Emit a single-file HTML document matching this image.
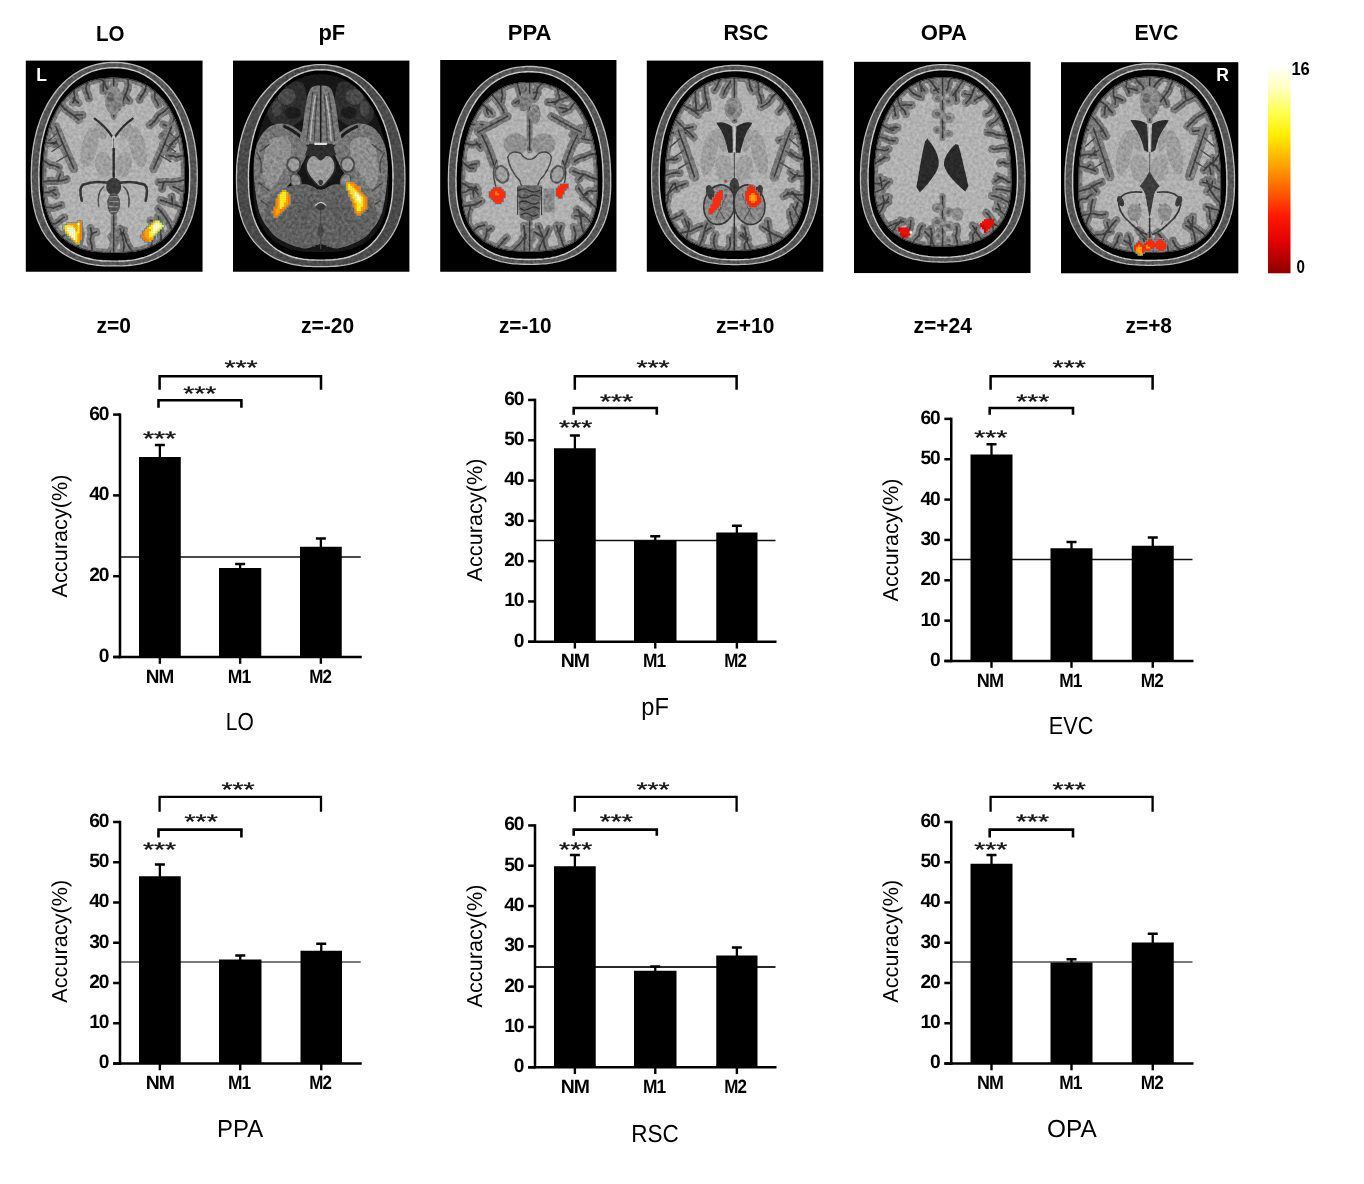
<!DOCTYPE html>
<html><head><meta charset="utf-8"><title>ROI decoding figure</title>
<style>
html,body{margin:0;padding:0;background:#fff;}
body{width:1364px;height:1184px;overflow:hidden;font-family:"Liberation Sans", sans-serif;}
svg{display:block;font-family:"Liberation Sans", sans-serif;}
</style></head>
<body>
<svg width="1364" height="1184" viewBox="0 0 1364 1184">
<rect width="1364" height="1184" fill="#ffffff"/>
<g id="titles">
<text transform="translate(96.00 41.4) scale(0.9153 1)" font-size="22.4" font-weight="bold" fill="#000">LO</text>
<text transform="translate(318.50 39.8) scale(0.9770 1)" font-size="22.4" font-weight="bold" fill="#000">pF</text>
<text transform="translate(507.70 39.8) scale(0.9853 1)" font-size="22.4" font-weight="bold" fill="#000">PPA</text>
<text transform="translate(723.40 39.8) scale(0.9521 1)" font-size="22.4" font-weight="bold" fill="#000">RSC</text>
<text transform="translate(920.75 39.8) scale(0.9856 1)" font-size="22.4" font-weight="bold" fill="#000">OPA</text>
<text transform="translate(1134.50 39.8) scale(0.9559 1)" font-size="22.4" font-weight="bold" fill="#000">EVC</text>
<text transform="translate(96.50 332.9) scale(0.9784 1)" font-size="21.5" font-weight="bold" fill="#000">z=0</text>
<text transform="translate(301.00 332.9) scale(0.9780 1)" font-size="21.5" font-weight="bold" fill="#000">z=-20</text>
<text transform="translate(499.00 332.9) scale(0.9652 1)" font-size="21.5" font-weight="bold" fill="#000">z=-10</text>
<text transform="translate(716.00 332.9) scale(0.9788 1)" font-size="21.5" font-weight="bold" fill="#000">z=+10</text>
<text transform="translate(913.50 332.9) scale(0.9788 1)" font-size="21.5" font-weight="bold" fill="#000">z=+24</text>
<text transform="translate(1125.50 332.9) scale(0.9720 1)" font-size="21.5" font-weight="bold" fill="#000">z=+8</text>
</g>
<g id="brains">
<defs>
<filter id="soft" x="-2%" y="-2%" width="104%" height="104%"><feGaussianBlur stdDeviation="0.55"/></filter>
<filter id="grain" x="0" y="0" width="100%" height="100%" color-interpolation-filters="sRGB">
<feTurbulence type="fractalNoise" baseFrequency="0.32" numOctaves="2" seed="7" result="n"/>
<feColorMatrix in="n" type="matrix" values="1.15 0 0 0 -0.1  1.15 0 0 0 -0.1  1.15 0 0 0 -0.1  0 0 0 0 1" result="g"/>
<feComposite in="g" in2="SourceGraphic" operator="in"/>
</filter>
</defs>
<g transform="translate(25.8 60.6) scale(0.9986 1.0007)">
<rect x="0" y="0" width="177" height="211" fill="#000"/>
<g filter="url(#soft)">
<path d="M88.6 1.9 L91.9 1.9 L95.1 2.1 L98.4 2.4 L101.6 2.9 L104.9 3.5 L108.1 4.3 L111.4 5.2 L114.5 6.3 L117.7 7.6 L120.9 9 L123.9 10.7 L127 12.5 L130 14.4 L132.9 16.6 L135.8 18.9 L138.5 21.4 L141.3 24.1 L143.9 26.9 L146.4 29.9 L148.8 33.1 L151.1 36.4 L153.3 39.8 L155.4 43.3 L157.3 47 L159.2 50.8 L160.9 54.7 L162.5 58.7 L163.9 62.8 L165.3 66.9 L166.5 71.1 L167.5 75.4 L168.5 79.7 L169.3 84 L170 88.4 L170.5 92.8 L171 97.2 L171.3 101.7 L171.5 106.1 L171.7 110.6 L171.7 115 L171.7 118.5 L171.6 122.1 L171.5 125.7 L171.3 129.2 L171.1 132.8 L170.7 136.4 L170.2 140 L169.6 143.6 L168.9 147.2 L168.1 150.7 L167.1 154.3 L166 157.8 L164.7 161.2 L163.2 164.6 L161.6 168 L159.9 171.2 L157.9 174.3 L155.9 177.3 L153.6 180.2 L151.2 183 L148.7 185.6 L146 188 L143.3 190.3 L140.4 192.4 L137.4 194.3 L134.3 196 L131.2 197.6 L128 199 L124.8 200.2 L121.5 201.3 L118.2 202.2 L114.9 203 L111.6 203.6 L108.3 204.1 L105 204.5 L101.7 204.8 L98.4 205 L95.1 205.1 L91.9 205.2 L88.6 205.2 L85.3 205.2 L82.1 205.1 L78.8 205 L75.5 204.8 L72.2 204.5 L68.9 204.1 L65.6 203.6 L62.3 203 L59 202.2 L55.7 201.3 L52.4 200.2 L49.2 199 L46 197.6 L42.9 196 L39.8 194.3 L36.8 192.4 L33.9 190.3 L31.2 188 L28.5 185.6 L26 183 L23.6 180.2 L21.3 177.3 L19.3 174.3 L17.3 171.2 L15.6 168 L14 164.6 L12.5 161.2 L11.2 157.8 L10.1 154.3 L9.1 150.7 L8.3 147.2 L7.6 143.6 L7 140 L6.5 136.4 L6.1 132.8 L5.9 129.2 L5.7 125.7 L5.6 122.1 L5.5 118.5 L5.5 115 L5.5 110.6 L5.7 106.1 L5.9 101.7 L6.2 97.2 L6.7 92.8 L7.2 88.4 L7.9 84 L8.7 79.7 L9.7 75.4 L10.7 71.1 L11.9 66.9 L13.3 62.8 L14.7 58.7 L16.3 54.7 L18 50.8 L19.9 47 L21.8 43.3 L23.9 39.8 L26.1 36.4 L28.4 33.1 L30.8 29.9 L33.3 26.9 L35.9 24.1 L38.7 21.4 L41.4 18.9 L44.3 16.6 L47.2 14.4 L50.2 12.5 L53.3 10.7 L56.3 9 L59.5 7.6 L62.7 6.3 L65.8 5.2 L69.1 4.3 L72.3 3.5 L75.6 2.9 L78.8 2.4 L82.1 2.1 L85.3 1.9Z" fill="#545454" stroke="#bcbcbc" stroke-width="1.3"/>
<path d="M88.6 7.1 L91.6 7.1 L94.5 7.3 L97.5 7.6 L100.5 8 L103.4 8.6 L106.3 9.4 L109.3 10.3 L112.2 11.3 L115.1 12.5 L117.9 13.9 L120.7 15.5 L123.5 17.2 L126.2 19.1 L128.9 21.1 L131.5 23.3 L134 25.7 L136.4 28.3 L138.8 31 L141.1 33.8 L143.3 36.8 L145.4 40 L147.4 43.2 L149.3 46.6 L151.1 50.1 L152.7 53.8 L154.3 57.5 L155.7 61.3 L157 65.2 L158.3 69.1 L159.3 73.1 L160.3 77.2 L161.2 81.3 L161.9 85.5 L162.5 89.6 L163 93.8 L163.4 98.1 L163.7 102.3 L164 106.5 L164.1 110.8 L164.1 115 L164.1 118.4 L164 121.7 L163.9 125.1 L163.8 128.5 L163.5 131.9 L163.2 135.3 L162.8 138.7 L162.2 142.1 L161.6 145.5 L160.8 148.8 L159.9 152.2 L158.9 155.5 L157.7 158.8 L156.4 162 L154.9 165.1 L153.3 168.2 L151.6 171.2 L149.7 174 L147.7 176.8 L145.5 179.4 L143.2 181.8 L140.8 184.1 L138.3 186.3 L135.6 188.2 L132.9 190 L130.2 191.7 L127.3 193.2 L124.4 194.5 L121.5 195.7 L118.5 196.7 L115.5 197.5 L112.5 198.3 L109.5 198.9 L106.5 199.4 L103.5 199.7 L100.5 200 L97.5 200.2 L94.5 200.3 L91.6 200.4 L88.6 200.4 L85.6 200.4 L82.7 200.3 L79.7 200.2 L76.7 200 L73.7 199.7 L70.7 199.4 L67.7 198.9 L64.7 198.3 L61.7 197.5 L58.7 196.7 L55.7 195.7 L52.8 194.5 L49.9 193.2 L47 191.7 L44.3 190 L41.6 188.2 L38.9 186.3 L36.4 184.1 L34 181.8 L31.7 179.4 L29.5 176.8 L27.5 174 L25.6 171.2 L23.9 168.2 L22.3 165.1 L20.8 162 L19.5 158.8 L18.3 155.5 L17.3 152.2 L16.4 148.8 L15.6 145.5 L15 142.1 L14.4 138.7 L14 135.3 L13.7 131.9 L13.4 128.5 L13.3 125.1 L13.2 121.7 L13.1 118.4 L13.1 115 L13.1 110.8 L13.2 106.5 L13.5 102.3 L13.8 98.1 L14.2 93.8 L14.7 89.6 L15.3 85.5 L16 81.3 L16.9 77.2 L17.9 73.1 L18.9 69.1 L20.2 65.2 L21.5 61.3 L22.9 57.5 L24.5 53.8 L26.1 50.1 L27.9 46.6 L29.8 43.2 L31.8 40 L33.9 36.8 L36.1 33.8 L38.4 31 L40.8 28.3 L43.2 25.7 L45.7 23.3 L48.3 21.1 L51 19.1 L53.7 17.2 L56.5 15.5 L59.3 13.9 L62.1 12.5 L65 11.3 L67.9 10.3 L70.9 9.4 L73.8 8.6 L76.7 8 L79.7 7.6 L82.7 7.3 L85.6 7.1Z" fill="#060606" stroke="#cacaca" stroke-width="1.4"/>

<clipPath id="bc1"><path d="M88 17 L90.8 17 L93.6 17.1 L96.4 17.3 L99.2 17.6 L102 18 L104.8 18.6 L107.6 19.2 L110.4 20 L113.2 21 L115.9 22.1 L118.7 23.4 L121.4 24.9 L124 26.5 L126.6 28.3 L129.2 30.2 L131.6 32.3 L134 34.6 L136.3 37.1 L138.6 39.7 L140.7 42.5 L142.7 45.4 L144.6 48.5 L146.4 51.7 L148 55 L149.6 58.4 L151 61.8 L152.3 65.4 L153.5 69.1 L154.5 72.8 L155.5 76.5 L156.3 80.3 L157 84.1 L157.6 88 L158.1 91.8 L158.5 95.7 L158.8 99.6 L159 103.4 L159.1 107.3 L159.2 111.2 L159.2 115 L159.2 118 L159.2 121.1 L159.1 124.1 L159 127.2 L158.8 130.2 L158.5 133.3 L158.2 136.4 L157.8 139.5 L157.3 142.6 L156.6 145.7 L155.8 148.8 L155 151.9 L153.9 154.9 L152.8 157.9 L151.4 160.8 L150 163.7 L148.3 166.4 L146.5 169.1 L144.6 171.6 L142.5 174 L140.3 176.2 L138 178.3 L135.6 180.2 L133 182 L130.4 183.6 L127.7 185 L124.9 186.3 L122.1 187.4 L119.3 188.4 L116.4 189.2 L113.5 189.9 L110.7 190.5 L107.8 190.9 L104.9 191.3 L102.1 191.6 L99.2 191.8 L96.4 191.9 L93.6 192 L90.8 192 L88 192 L85.2 192 L82.4 192 L79.6 191.9 L76.8 191.8 L73.9 191.6 L71.1 191.3 L68.2 190.9 L65.3 190.5 L62.5 189.9 L59.6 189.2 L56.7 188.4 L53.9 187.4 L51.1 186.3 L48.3 185 L45.6 183.6 L43 182 L40.4 180.2 L38 178.3 L35.7 176.2 L33.5 174 L31.4 171.6 L29.5 169.1 L27.7 166.4 L26 163.7 L24.6 160.8 L23.2 157.9 L22.1 154.9 L21 151.9 L20.2 148.8 L19.4 145.7 L18.7 142.6 L18.2 139.5 L17.8 136.4 L17.5 133.3 L17.2 130.2 L17 127.2 L16.9 124.1 L16.8 121.1 L16.8 118 L16.8 115 L16.8 111.2 L16.9 107.3 L17 103.4 L17.2 99.6 L17.5 95.7 L17.9 91.8 L18.4 88 L19 84.1 L19.7 80.3 L20.5 76.5 L21.5 72.8 L22.5 69.1 L23.7 65.4 L25 61.8 L26.4 58.4 L28 55 L29.6 51.7 L31.4 48.5 L33.3 45.4 L35.3 42.5 L37.4 39.7 L39.7 37.1 L42 34.6 L44.4 32.3 L46.8 30.2 L49.4 28.3 L52 26.5 L54.6 24.9 L57.3 23.4 L60.1 22.1 L62.8 21 L65.6 20 L68.4 19.2 L71.2 18.6 L74 18 L76.8 17.6 L79.6 17.3 L82.4 17.1 L85.2 17Z"/></clipPath>
<g clip-path="url(#bc1)">
<path d="M88 17 L90.8 17 L93.6 17.1 L96.4 17.3 L99.2 17.6 L102 18 L104.8 18.6 L107.6 19.2 L110.4 20 L113.2 21 L115.9 22.1 L118.7 23.4 L121.4 24.9 L124 26.5 L126.6 28.3 L129.2 30.2 L131.6 32.3 L134 34.6 L136.3 37.1 L138.6 39.7 L140.7 42.5 L142.7 45.4 L144.6 48.5 L146.4 51.7 L148 55 L149.6 58.4 L151 61.8 L152.3 65.4 L153.5 69.1 L154.5 72.8 L155.5 76.5 L156.3 80.3 L157 84.1 L157.6 88 L158.1 91.8 L158.5 95.7 L158.8 99.6 L159 103.4 L159.1 107.3 L159.2 111.2 L159.2 115 L159.2 118 L159.2 121.1 L159.1 124.1 L159 127.2 L158.8 130.2 L158.5 133.3 L158.2 136.4 L157.8 139.5 L157.3 142.6 L156.6 145.7 L155.8 148.8 L155 151.9 L153.9 154.9 L152.8 157.9 L151.4 160.8 L150 163.7 L148.3 166.4 L146.5 169.1 L144.6 171.6 L142.5 174 L140.3 176.2 L138 178.3 L135.6 180.2 L133 182 L130.4 183.6 L127.7 185 L124.9 186.3 L122.1 187.4 L119.3 188.4 L116.4 189.2 L113.5 189.9 L110.7 190.5 L107.8 190.9 L104.9 191.3 L102.1 191.6 L99.2 191.8 L96.4 191.9 L93.6 192 L90.8 192 L88 192 L85.2 192 L82.4 192 L79.6 191.9 L76.8 191.8 L73.9 191.6 L71.1 191.3 L68.2 190.9 L65.3 190.5 L62.5 189.9 L59.6 189.2 L56.7 188.4 L53.9 187.4 L51.1 186.3 L48.3 185 L45.6 183.6 L43 182 L40.4 180.2 L38 178.3 L35.7 176.2 L33.5 174 L31.4 171.6 L29.5 169.1 L27.7 166.4 L26 163.7 L24.6 160.8 L23.2 157.9 L22.1 154.9 L21 151.9 L20.2 148.8 L19.4 145.7 L18.7 142.6 L18.2 139.5 L17.8 136.4 L17.5 133.3 L17.2 130.2 L17 127.2 L16.9 124.1 L16.8 121.1 L16.8 118 L16.8 115 L16.8 111.2 L16.9 107.3 L17 103.4 L17.2 99.6 L17.5 95.7 L17.9 91.8 L18.4 88 L19 84.1 L19.7 80.3 L20.5 76.5 L21.5 72.8 L22.5 69.1 L23.7 65.4 L25 61.8 L26.4 58.4 L28 55 L29.6 51.7 L31.4 48.5 L33.3 45.4 L35.3 42.5 L37.4 39.7 L39.7 37.1 L42 34.6 L44.4 32.3 L46.8 30.2 L49.4 28.3 L52 26.5 L54.6 24.9 L57.3 23.4 L60.1 22.1 L62.8 21 L65.6 20 L68.4 19.2 L71.2 18.6 L74 18 L76.8 17.6 L79.6 17.3 L82.4 17.1 L85.2 17Z" fill="#b2b2b2"/>

<path d="M88 17 L90.8 17 L93.6 17.1 L96.4 17.3 L99.2 17.6 L102 18 L104.8 18.6 L107.6 19.2 L110.4 20 L113.2 21 L115.9 22.1 L118.7 23.4 L121.4 24.9 L124 26.5 L126.6 28.3 L129.2 30.2 L131.6 32.3 L134 34.6 L136.3 37.1 L138.6 39.7 L140.7 42.5 L142.7 45.4 L144.6 48.5 L146.4 51.7 L148 55 L149.6 58.4 L151 61.8 L152.3 65.4 L153.5 69.1 L154.5 72.8 L155.5 76.5 L156.3 80.3 L157 84.1 L157.6 88 L158.1 91.8 L158.5 95.7 L158.8 99.6 L159 103.4 L159.1 107.3 L159.2 111.2 L159.2 115 L159.2 118 L159.2 121.1 L159.1 124.1 L159 127.2 L158.8 130.2 L158.5 133.3 L158.2 136.4 L157.8 139.5 L157.3 142.6 L156.6 145.7 L155.8 148.8 L155 151.9 L153.9 154.9 L152.8 157.9 L151.4 160.8 L150 163.7 L148.3 166.4 L146.5 169.1 L144.6 171.6 L142.5 174 L140.3 176.2 L138 178.3 L135.6 180.2 L133 182 L130.4 183.6 L127.7 185 L124.9 186.3 L122.1 187.4 L119.3 188.4 L116.4 189.2 L113.5 189.9 L110.7 190.5 L107.8 190.9 L104.9 191.3 L102.1 191.6 L99.2 191.8 L96.4 191.9 L93.6 192 L90.8 192 L88 192 L85.2 192 L82.4 192 L79.6 191.9 L76.8 191.8 L73.9 191.6 L71.1 191.3 L68.2 190.9 L65.3 190.5 L62.5 189.9 L59.6 189.2 L56.7 188.4 L53.9 187.4 L51.1 186.3 L48.3 185 L45.6 183.6 L43 182 L40.4 180.2 L38 178.3 L35.7 176.2 L33.5 174 L31.4 171.6 L29.5 169.1 L27.7 166.4 L26 163.7 L24.6 160.8 L23.2 157.9 L22.1 154.9 L21 151.9 L20.2 148.8 L19.4 145.7 L18.7 142.6 L18.2 139.5 L17.8 136.4 L17.5 133.3 L17.2 130.2 L17 127.2 L16.9 124.1 L16.8 121.1 L16.8 118 L16.8 115 L16.8 111.2 L16.9 107.3 L17 103.4 L17.2 99.6 L17.5 95.7 L17.9 91.8 L18.4 88 L19 84.1 L19.7 80.3 L20.5 76.5 L21.5 72.8 L22.5 69.1 L23.7 65.4 L25 61.8 L26.4 58.4 L28 55 L29.6 51.7 L31.4 48.5 L33.3 45.4 L35.3 42.5 L37.4 39.7 L39.7 37.1 L42 34.6 L44.4 32.3 L46.8 30.2 L49.4 28.3 L52 26.5 L54.6 24.9 L57.3 23.4 L60.1 22.1 L62.8 21 L65.6 20 L68.4 19.2 L71.2 18.6 L74 18 L76.8 17.6 L79.6 17.3 L82.4 17.1 L85.2 17Z" fill="none" stroke="#787878" stroke-width="8"/>
<path d="M88 17 Q89.4 21.8 88.1 26.6 Q88 31.4 89 36.1 M88.7 29.2 Q85.7 32.7 83.1 35.8 M102 18 Q103.7 23.8 101.3 30.3 Q98.7 35.8 96.9 41.8 M98.5 34 Q101 36.9 103.4 40.4 M120.5 24.4 Q120.2 29.1 118.3 32.2 Q115 35.8 113.9 39 M129.2 30.2 Q129.3 34.4 129.1 37.6 Q131.3 40.4 132.6 44.2 M143.3 46.4 Q139.3 51.4 132.9 54.7 Q129.7 61.1 124.1 64.6 M149.1 57.2 Q146.1 63.3 144.2 67.6 Q140.7 72.6 136.6 76.2 M143.4 65.9 Q140.5 64.7 137.6 63.8 M154.9 74 Q151.4 78.8 147.2 81.2 Q145.5 85.3 141.7 90.1 M146.9 83.8 Q142 83.2 137.1 84.3 M158.5 95.7 Q154.7 94.4 150.9 96.9 Q147.2 94.1 143.5 95.3 M159.2 119 Q152.6 121.3 146.2 121.5 Q139.4 121.1 132.9 121.6 M138.4 121.1 Q137.1 124.5 136.6 128.1 M158.8 130.2 Q155.5 131.2 153 128.4 Q149.9 127 147.5 125.9 M156.4 146.8 Q151.6 144.5 145.6 143 Q140.8 141.3 134.9 139.4 M146.5 143.4 Q146.8 139.7 146 136 M146.5 169.1 Q144.2 162.8 140.4 157.9 Q138 153.2 132.5 147.9 M135.6 180.2 Q135.5 174.1 134.4 167.9 Q133.9 161.7 132.6 155.6 M133.3 161.6 Q129.3 160.5 125 159.8 M125.8 185.9 Q126 183 126.3 180.1 Q126.9 177.3 125.8 174.4 M106.8 191 Q102.6 185.6 100.9 181.8 Q99.7 176.7 97.3 171.4 M97.4 191.8 Q99.2 185.9 97.7 179.8 Q96.4 174 94.4 168.1 M95.1 173.7 Q97.7 172.2 98.4 169.6 M84.3 192 Q86.7 188.4 87.7 184.2 Q90.8 180.4 91 176.3 M88.8 181.6 Q87 178.4 85.8 175.6 M66.3 190.6 Q66.6 184.8 64.5 179.1 Q66.8 173.3 64.8 167.4 M65.3 174.6 Q67.5 171.9 70.6 171.3 M52 186.7 Q53.2 182.7 54.2 178.6 Q55.5 174.4 54.7 170.3 M35.7 176.2 Q38.5 175.5 40.7 172 Q43 170.3 45.9 168.1 M26 163.7 Q30.1 162.9 32.7 161 Q36.1 157.7 38.4 156.6 M19.6 146.8 Q24 146.4 27.9 147.4 Q31.5 145.7 35.6 144.5 M17.4 132.3 Q20.1 131.4 23.5 132 Q26.6 129 29 129.1 M24.6 130.3 Q28 132.5 30.6 134.6 M16.8 121.1 Q22.8 120 29 120 Q35.3 120.9 41.2 118.4 M32.3 119.4 Q33.4 116.5 34.4 113.6 M17.2 99.6 Q20.8 102 24.6 104.5 Q28.4 104 33 106.9 M19.5 81.6 Q24.3 83.2 28.9 82 Q32.9 83.7 37.6 85.6 M27.8 83.5 Q31.2 80.1 32.9 78.4 M23.7 65.4 Q26.4 68.3 29 70.6 Q30.6 73.6 34.3 75.9 M34.7 43.5 Q39 48.8 43.5 51.7 Q48.2 54.5 53.1 59.2 M47.7 54.6 Q52.2 54 56.8 54.3 M48.5 28.9 Q47.7 32.4 48.9 35.6 Q49.8 38.6 47.1 42 M47.5 37.7 Q50 39.7 52.7 42.2 M61.9 21.4 Q59.7 25.7 60.4 29.8 Q62 33.6 63.3 37.8 M74 18 Q77.7 19.6 78.9 22.4 Q79.6 25.6 81.5 28.4 M77.6 23 Q77.9 26.6 77.5 30.2" fill="none" stroke="#787878" stroke-width="8.0" stroke-linecap="round" stroke-linejoin="round"/><path d="M88 17 Q89.4 21.8 88.1 26.6 Q88 31.4 89 36.1 M88.7 29.2 Q85.7 32.7 83.1 35.8 M102 18 Q103.7 23.8 101.3 30.3 Q98.7 35.8 96.9 41.8 M98.5 34 Q101 36.9 103.4 40.4 M120.5 24.4 Q120.2 29.1 118.3 32.2 Q115 35.8 113.9 39 M129.2 30.2 Q129.3 34.4 129.1 37.6 Q131.3 40.4 132.6 44.2 M143.3 46.4 Q139.3 51.4 132.9 54.7 Q129.7 61.1 124.1 64.6 M149.1 57.2 Q146.1 63.3 144.2 67.6 Q140.7 72.6 136.6 76.2 M143.4 65.9 Q140.5 64.7 137.6 63.8 M154.9 74 Q151.4 78.8 147.2 81.2 Q145.5 85.3 141.7 90.1 M146.9 83.8 Q142 83.2 137.1 84.3 M158.5 95.7 Q154.7 94.4 150.9 96.9 Q147.2 94.1 143.5 95.3 M159.2 119 Q152.6 121.3 146.2 121.5 Q139.4 121.1 132.9 121.6 M138.4 121.1 Q137.1 124.5 136.6 128.1 M158.8 130.2 Q155.5 131.2 153 128.4 Q149.9 127 147.5 125.9 M156.4 146.8 Q151.6 144.5 145.6 143 Q140.8 141.3 134.9 139.4 M146.5 143.4 Q146.8 139.7 146 136 M146.5 169.1 Q144.2 162.8 140.4 157.9 Q138 153.2 132.5 147.9 M135.6 180.2 Q135.5 174.1 134.4 167.9 Q133.9 161.7 132.6 155.6 M133.3 161.6 Q129.3 160.5 125 159.8 M125.8 185.9 Q126 183 126.3 180.1 Q126.9 177.3 125.8 174.4 M106.8 191 Q102.6 185.6 100.9 181.8 Q99.7 176.7 97.3 171.4 M97.4 191.8 Q99.2 185.9 97.7 179.8 Q96.4 174 94.4 168.1 M95.1 173.7 Q97.7 172.2 98.4 169.6 M84.3 192 Q86.7 188.4 87.7 184.2 Q90.8 180.4 91 176.3 M88.8 181.6 Q87 178.4 85.8 175.6 M66.3 190.6 Q66.6 184.8 64.5 179.1 Q66.8 173.3 64.8 167.4 M65.3 174.6 Q67.5 171.9 70.6 171.3 M52 186.7 Q53.2 182.7 54.2 178.6 Q55.5 174.4 54.7 170.3 M35.7 176.2 Q38.5 175.5 40.7 172 Q43 170.3 45.9 168.1 M26 163.7 Q30.1 162.9 32.7 161 Q36.1 157.7 38.4 156.6 M19.6 146.8 Q24 146.4 27.9 147.4 Q31.5 145.7 35.6 144.5 M17.4 132.3 Q20.1 131.4 23.5 132 Q26.6 129 29 129.1 M24.6 130.3 Q28 132.5 30.6 134.6 M16.8 121.1 Q22.8 120 29 120 Q35.3 120.9 41.2 118.4 M32.3 119.4 Q33.4 116.5 34.4 113.6 M17.2 99.6 Q20.8 102 24.6 104.5 Q28.4 104 33 106.9 M19.5 81.6 Q24.3 83.2 28.9 82 Q32.9 83.7 37.6 85.6 M27.8 83.5 Q31.2 80.1 32.9 78.4 M23.7 65.4 Q26.4 68.3 29 70.6 Q30.6 73.6 34.3 75.9 M34.7 43.5 Q39 48.8 43.5 51.7 Q48.2 54.5 53.1 59.2 M47.7 54.6 Q52.2 54 56.8 54.3 M48.5 28.9 Q47.7 32.4 48.9 35.6 Q49.8 38.6 47.1 42 M47.5 37.7 Q50 39.7 52.7 42.2 M61.9 21.4 Q59.7 25.7 60.4 29.8 Q62 33.6 63.3 37.8 M74 18 Q77.7 19.6 78.9 22.4 Q79.6 25.6 81.5 28.4 M77.6 23 Q77.9 26.6 77.5 30.2" fill="none" stroke="#3c3c3c" stroke-width="1.7" stroke-linecap="round" stroke-linejoin="round"/>
<path d="M88 14 L88 56" fill="none" stroke="#7c7c7c" stroke-width="6" stroke-linecap="round" stroke-linejoin="round"/><path d="M88 150 L88 196" fill="none" stroke="#7c7c7c" stroke-width="6" stroke-linecap="round" stroke-linejoin="round"/><path d="M88 14 L88 56" fill="none" stroke="#383838" stroke-width="1.4" stroke-linecap="round" stroke-linejoin="round"/><path d="M88 150 L88 196" fill="none" stroke="#383838" stroke-width="1.4" stroke-linecap="round" stroke-linejoin="round"/><ellipse cx="88" cy="40" rx="9" ry="14" fill="#8a8a8a"/><ellipse cx="85" cy="37" rx="4" ry="5" fill="#6c6c6c"/><ellipse cx="92" cy="46" rx="4" ry="4" fill="#747474"/><path d="M30 66 Q38 86 48 108" fill="none" stroke="#7c7c7c" stroke-width="9" stroke-linecap="round" stroke-linejoin="round"/><path d="M30 66 Q38 86 48 108" fill="none" stroke="#3e3e3e" stroke-width="1.6" stroke-linecap="round" stroke-linejoin="round"/><path d="M32 72 l-9 8 M36 84 l-10 7 M41 95 l-10 6" fill="none" stroke="#4a4a4a" stroke-width="1.3" stroke-linecap="round" stroke-linejoin="round"/><ellipse cx="64" cy="86" rx="8" ry="21" fill="#9e9e9e" transform="rotate(14 64 86)"/><ellipse cx="78" cy="104" rx="8.5" ry="13" fill="#a0a0a0" transform="rotate(-8 78 104)"/><ellipse cx="76" cy="70" rx="5" ry="9" fill="#9c9c9c" transform="rotate(-24 76 70)"/><path d="M146 66 Q138 86 128 108" fill="none" stroke="#7c7c7c" stroke-width="9" stroke-linecap="round" stroke-linejoin="round"/><path d="M146 66 Q138 86 128 108" fill="none" stroke="#3e3e3e" stroke-width="1.6" stroke-linecap="round" stroke-linejoin="round"/><path d="M144 72 l9 8 M140 84 l10 7 M135 95 l10 6" fill="none" stroke="#4a4a4a" stroke-width="1.3" stroke-linecap="round" stroke-linejoin="round"/><ellipse cx="112" cy="86" rx="8" ry="21" fill="#9e9e9e" transform="rotate(-14 112 86)"/><ellipse cx="98" cy="104" rx="8.5" ry="13" fill="#a0a0a0" transform="rotate(8 98 104)"/><ellipse cx="100" cy="70" rx="5" ry="9" fill="#9c9c9c" transform="rotate(24 100 70)"/><path d="M69 58 Q80 66 86.5 76 M107 58 Q96 66 89.5 76" fill="none" stroke="#2e2e2e" stroke-width="2.2" stroke-linecap="round" stroke-linejoin="round"/><path d="M88 76 L88 88" fill="none" stroke="#c9c9c9" stroke-width="3" stroke-linecap="round" stroke-linejoin="round"/><path d="M88 78 L88 86" fill="none" stroke="#555" stroke-width="1" stroke-linecap="round" stroke-linejoin="round"/><path d="M88 88 L88 116" fill="none" stroke="#2c2c2c" stroke-width="2.4" stroke-linecap="round" stroke-linejoin="round"/><ellipse cx="88" cy="126" rx="7.5" ry="9" fill="#3a3a3a"/><ellipse cx="88" cy="143" rx="6.5" ry="11" fill="#565656"/><path d="M83.5 136 h9 M83.5 141 h9 M84 146 h8 M84.5 151 h7" fill="none" stroke="#8c8c8c" stroke-width="1.3" stroke-linecap="round" stroke-linejoin="round"/><path d="M82 122 Q68 120 57 124 Q53 128 56 140" fill="none" stroke="#363636" stroke-width="2.6" stroke-linecap="round" stroke-linejoin="round"/><path d="M78 126 Q71 132 73 146" fill="none" stroke="#505050" stroke-width="1.6" stroke-linecap="round" stroke-linejoin="round"/><path d="M94 122 Q108 120 119 124 Q123 128 120 140" fill="none" stroke="#363636" stroke-width="2.6" stroke-linecap="round" stroke-linejoin="round"/><path d="M98 126 Q105 132 103 146" fill="none" stroke="#505050" stroke-width="1.6" stroke-linecap="round" stroke-linejoin="round"/>
<path d="M88 17 L90.8 17 L93.6 17.1 L96.4 17.3 L99.2 17.6 L102 18 L104.8 18.6 L107.6 19.2 L110.4 20 L113.2 21 L115.9 22.1 L118.7 23.4 L121.4 24.9 L124 26.5 L126.6 28.3 L129.2 30.2 L131.6 32.3 L134 34.6 L136.3 37.1 L138.6 39.7 L140.7 42.5 L142.7 45.4 L144.6 48.5 L146.4 51.7 L148 55 L149.6 58.4 L151 61.8 L152.3 65.4 L153.5 69.1 L154.5 72.8 L155.5 76.5 L156.3 80.3 L157 84.1 L157.6 88 L158.1 91.8 L158.5 95.7 L158.8 99.6 L159 103.4 L159.1 107.3 L159.2 111.2 L159.2 115 L159.2 118 L159.2 121.1 L159.1 124.1 L159 127.2 L158.8 130.2 L158.5 133.3 L158.2 136.4 L157.8 139.5 L157.3 142.6 L156.6 145.7 L155.8 148.8 L155 151.9 L153.9 154.9 L152.8 157.9 L151.4 160.8 L150 163.7 L148.3 166.4 L146.5 169.1 L144.6 171.6 L142.5 174 L140.3 176.2 L138 178.3 L135.6 180.2 L133 182 L130.4 183.6 L127.7 185 L124.9 186.3 L122.1 187.4 L119.3 188.4 L116.4 189.2 L113.5 189.9 L110.7 190.5 L107.8 190.9 L104.9 191.3 L102.1 191.6 L99.2 191.8 L96.4 191.9 L93.6 192 L90.8 192 L88 192 L85.2 192 L82.4 192 L79.6 191.9 L76.8 191.8 L73.9 191.6 L71.1 191.3 L68.2 190.9 L65.3 190.5 L62.5 189.9 L59.6 189.2 L56.7 188.4 L53.9 187.4 L51.1 186.3 L48.3 185 L45.6 183.6 L43 182 L40.4 180.2 L38 178.3 L35.7 176.2 L33.5 174 L31.4 171.6 L29.5 169.1 L27.7 166.4 L26 163.7 L24.6 160.8 L23.2 157.9 L22.1 154.9 L21 151.9 L20.2 148.8 L19.4 145.7 L18.7 142.6 L18.2 139.5 L17.8 136.4 L17.5 133.3 L17.2 130.2 L17 127.2 L16.9 124.1 L16.8 121.1 L16.8 118 L16.8 115 L16.8 111.2 L16.9 107.3 L17 103.4 L17.2 99.6 L17.5 95.7 L17.9 91.8 L18.4 88 L19 84.1 L19.7 80.3 L20.5 76.5 L21.5 72.8 L22.5 69.1 L23.7 65.4 L25 61.8 L26.4 58.4 L28 55 L29.6 51.7 L31.4 48.5 L33.3 45.4 L35.3 42.5 L37.4 39.7 L39.7 37.1 L42 34.6 L44.4 32.3 L46.8 30.2 L49.4 28.3 L52 26.5 L54.6 24.9 L57.3 23.4 L60.1 22.1 L62.8 21 L65.6 20 L68.4 19.2 L71.2 18.6 L74 18 L76.8 17.6 L79.6 17.3 L82.4 17.1 L85.2 17Z" fill="none" stroke="#2c2c2c" stroke-width="1.6"/>
</g>

</g>
<path d="M88.6 1.9 L91.9 1.9 L95.1 2.1 L98.4 2.4 L101.6 2.9 L104.9 3.5 L108.1 4.3 L111.4 5.2 L114.5 6.3 L117.7 7.6 L120.9 9 L123.9 10.7 L127 12.5 L130 14.4 L132.9 16.6 L135.8 18.9 L138.5 21.4 L141.3 24.1 L143.9 26.9 L146.4 29.9 L148.8 33.1 L151.1 36.4 L153.3 39.8 L155.4 43.3 L157.3 47 L159.2 50.8 L160.9 54.7 L162.5 58.7 L163.9 62.8 L165.3 66.9 L166.5 71.1 L167.5 75.4 L168.5 79.7 L169.3 84 L170 88.4 L170.5 92.8 L171 97.2 L171.3 101.7 L171.5 106.1 L171.7 110.6 L171.7 115 L171.7 118.5 L171.6 122.1 L171.5 125.7 L171.3 129.2 L171.1 132.8 L170.7 136.4 L170.2 140 L169.6 143.6 L168.9 147.2 L168.1 150.7 L167.1 154.3 L166 157.8 L164.7 161.2 L163.2 164.6 L161.6 168 L159.9 171.2 L157.9 174.3 L155.9 177.3 L153.6 180.2 L151.2 183 L148.7 185.6 L146 188 L143.3 190.3 L140.4 192.4 L137.4 194.3 L134.3 196 L131.2 197.6 L128 199 L124.8 200.2 L121.5 201.3 L118.2 202.2 L114.9 203 L111.6 203.6 L108.3 204.1 L105 204.5 L101.7 204.8 L98.4 205 L95.1 205.1 L91.9 205.2 L88.6 205.2 L85.3 205.2 L82.1 205.1 L78.8 205 L75.5 204.8 L72.2 204.5 L68.9 204.1 L65.6 203.6 L62.3 203 L59 202.2 L55.7 201.3 L52.4 200.2 L49.2 199 L46 197.6 L42.9 196 L39.8 194.3 L36.8 192.4 L33.9 190.3 L31.2 188 L28.5 185.6 L26 183 L23.6 180.2 L21.3 177.3 L19.3 174.3 L17.3 171.2 L15.6 168 L14 164.6 L12.5 161.2 L11.2 157.8 L10.1 154.3 L9.1 150.7 L8.3 147.2 L7.6 143.6 L7 140 L6.5 136.4 L6.1 132.8 L5.9 129.2 L5.7 125.7 L5.6 122.1 L5.5 118.5 L5.5 115 L5.5 110.6 L5.7 106.1 L5.9 101.7 L6.2 97.2 L6.7 92.8 L7.2 88.4 L7.9 84 L8.7 79.7 L9.7 75.4 L10.7 71.1 L11.9 66.9 L13.3 62.8 L14.7 58.7 L16.3 54.7 L18 50.8 L19.9 47 L21.8 43.3 L23.9 39.8 L26.1 36.4 L28.4 33.1 L30.8 29.9 L33.3 26.9 L35.9 24.1 L38.7 21.4 L41.4 18.9 L44.3 16.6 L47.2 14.4 L50.2 12.5 L53.3 10.7 L56.3 9 L59.5 7.6 L62.7 6.3 L65.8 5.2 L69.1 4.3 L72.3 3.5 L75.6 2.9 L78.8 2.4 L82.1 2.1 L85.3 1.9Z" fill="#808080" filter="url(#grain)" opacity="0.3" style="mix-blend-mode:overlay"/>
<rect x="51.2" y="159.7" width="3.6" height="3.6" fill="#2f86b8"/><rect x="53.3" y="159.7" width="3.6" height="3.6" fill="#2f86b8"/><rect x="40.7" y="161.8" width="3.6" height="3.6" fill="#2f86b8"/><rect x="42.8" y="161.8" width="3.6" height="3.6" fill="#2f86b8"/><rect x="44.9" y="161.8" width="3.6" height="3.6" fill="#2f86b8"/><rect x="47" y="161.8" width="3.6" height="3.6" fill="#2f86b8"/><rect x="49.1" y="161.8" width="3.6" height="3.6" fill="#2f86b8"/><rect x="51.2" y="161.8" width="3.6" height="3.6" fill="#2f86b8"/><rect x="53.3" y="161.8" width="3.6" height="3.6" fill="#2f86b8"/><rect x="36.5" y="163.9" width="3.6" height="3.6" fill="#2f86b8"/><rect x="38.6" y="163.9" width="3.6" height="3.6" fill="#2f86b8"/><rect x="40.7" y="163.9" width="3.6" height="3.6" fill="#2f86b8"/><rect x="42.8" y="163.9" width="3.6" height="3.6" fill="#2f86b8"/><rect x="44.9" y="163.9" width="3.6" height="3.6" fill="#2f86b8"/><rect x="47" y="163.9" width="3.6" height="3.6" fill="#2f86b8"/><rect x="49.1" y="163.9" width="3.6" height="3.6" fill="#2f86b8"/><rect x="51.2" y="163.9" width="3.6" height="3.6" fill="#2f86b8"/><rect x="53.3" y="163.9" width="3.6" height="3.6" fill="#2f86b8"/><rect x="36.5" y="166" width="3.6" height="3.6" fill="#2f86b8"/><rect x="38.6" y="166" width="3.6" height="3.6" fill="#2f86b8"/><rect x="40.7" y="166" width="3.6" height="3.6" fill="#2f86b8"/><rect x="42.8" y="166" width="3.6" height="3.6" fill="#2f86b8"/><rect x="44.9" y="166" width="3.6" height="3.6" fill="#2f86b8"/><rect x="47" y="166" width="3.6" height="3.6" fill="#2f86b8"/><rect x="49.1" y="166" width="3.6" height="3.6" fill="#2f86b8"/><rect x="51.2" y="166" width="3.6" height="3.6" fill="#2f86b8"/><rect x="53.3" y="166" width="3.6" height="3.6" fill="#2f86b8"/><rect x="38.6" y="168.1" width="3.6" height="3.6" fill="#2f86b8"/><rect x="40.7" y="168.1" width="3.6" height="3.6" fill="#2f86b8"/><rect x="42.8" y="168.1" width="3.6" height="3.6" fill="#2f86b8"/><rect x="44.9" y="168.1" width="3.6" height="3.6" fill="#2f86b8"/><rect x="47" y="168.1" width="3.6" height="3.6" fill="#2f86b8"/><rect x="49.1" y="168.1" width="3.6" height="3.6" fill="#2f86b8"/><rect x="51.2" y="168.1" width="3.6" height="3.6" fill="#2f86b8"/><rect x="53.3" y="168.1" width="3.6" height="3.6" fill="#2f86b8"/><rect x="38.6" y="170.2" width="3.6" height="3.6" fill="#2f86b8"/><rect x="40.7" y="170.2" width="3.6" height="3.6" fill="#2f86b8"/><rect x="42.8" y="170.2" width="3.6" height="3.6" fill="#2f86b8"/><rect x="44.9" y="170.2" width="3.6" height="3.6" fill="#2f86b8"/><rect x="47" y="170.2" width="3.6" height="3.6" fill="#2f86b8"/><rect x="49.1" y="170.2" width="3.6" height="3.6" fill="#2f86b8"/><rect x="51.2" y="170.2" width="3.6" height="3.6" fill="#2f86b8"/><rect x="53.3" y="170.2" width="3.6" height="3.6" fill="#2f86b8"/><rect x="40.7" y="172.3" width="3.6" height="3.6" fill="#2f86b8"/><rect x="42.8" y="172.3" width="3.6" height="3.6" fill="#2f86b8"/><rect x="44.9" y="172.3" width="3.6" height="3.6" fill="#2f86b8"/><rect x="47" y="172.3" width="3.6" height="3.6" fill="#2f86b8"/><rect x="49.1" y="172.3" width="3.6" height="3.6" fill="#2f86b8"/><rect x="51.2" y="172.3" width="3.6" height="3.6" fill="#2f86b8"/><rect x="53.3" y="172.3" width="3.6" height="3.6" fill="#2f86b8"/><rect x="42.8" y="174.4" width="3.6" height="3.6" fill="#2f86b8"/><rect x="44.9" y="174.4" width="3.6" height="3.6" fill="#2f86b8"/><rect x="47" y="174.4" width="3.6" height="3.6" fill="#2f86b8"/><rect x="49.1" y="174.4" width="3.6" height="3.6" fill="#2f86b8"/><rect x="51.2" y="174.4" width="3.6" height="3.6" fill="#2f86b8"/><rect x="53.3" y="174.4" width="3.6" height="3.6" fill="#2f86b8"/><rect x="44.9" y="176.5" width="3.6" height="3.6" fill="#2f86b8"/><rect x="47" y="176.5" width="3.6" height="3.6" fill="#2f86b8"/><rect x="49.1" y="176.5" width="3.6" height="3.6" fill="#2f86b8"/><rect x="51.2" y="176.5" width="3.6" height="3.6" fill="#2f86b8"/><rect x="53.3" y="176.5" width="3.6" height="3.6" fill="#2f86b8"/><rect x="47" y="178.6" width="3.6" height="3.6" fill="#2f86b8"/><rect x="49.1" y="178.6" width="3.6" height="3.6" fill="#2f86b8"/><rect x="51.2" y="178.6" width="3.6" height="3.6" fill="#2f86b8"/><rect x="49.1" y="180.7" width="3.6" height="3.6" fill="#2f86b8"/><rect x="51.2" y="180.7" width="3.6" height="3.6" fill="#2f86b8"/><rect x="51.8" y="160.3" width="2.4" height="2.4" fill="#ffa400"/><rect x="53.9" y="160.3" width="2.4" height="2.4" fill="#ff7c00"/><rect x="41.3" y="162.4" width="2.4" height="2.4" fill="#ffa400"/><rect x="43.4" y="162.4" width="2.4" height="2.4" fill="#ffa400"/><rect x="45.5" y="162.4" width="2.4" height="2.4" fill="#ffa400"/><rect x="47.6" y="162.4" width="2.4" height="2.4" fill="#ffa400"/><rect x="49.7" y="162.4" width="2.4" height="2.4" fill="#ffa400"/><rect x="51.8" y="162.4" width="2.4" height="2.4" fill="#ffffd8"/><rect x="53.9" y="162.4" width="2.4" height="2.4" fill="#ff7c00"/><rect x="37.1" y="164.5" width="2.4" height="2.4" fill="#ffa400"/><rect x="39.2" y="164.5" width="2.4" height="2.4" fill="#ffee20"/><rect x="41.3" y="164.5" width="2.4" height="2.4" fill="#ffee20"/><rect x="43.4" y="164.5" width="2.4" height="2.4" fill="#ffee20"/><rect x="45.5" y="164.5" width="2.4" height="2.4" fill="#ffee20"/><rect x="47.6" y="164.5" width="2.4" height="2.4" fill="#ffa400"/><rect x="49.7" y="164.5" width="2.4" height="2.4" fill="#ffa400"/><rect x="51.8" y="164.5" width="2.4" height="2.4" fill="#ffee20"/><rect x="53.9" y="164.5" width="2.4" height="2.4" fill="#ff7c00"/><rect x="37.1" y="166.6" width="2.4" height="2.4" fill="#ffa400"/><rect x="39.2" y="166.6" width="2.4" height="2.4" fill="#ffee20"/><rect x="41.3" y="166.6" width="2.4" height="2.4" fill="#ffffd8"/><rect x="43.4" y="166.6" width="2.4" height="2.4" fill="#ffffd8"/><rect x="45.5" y="166.6" width="2.4" height="2.4" fill="#ffffd8"/><rect x="47.6" y="166.6" width="2.4" height="2.4" fill="#ffee20"/><rect x="49.7" y="166.6" width="2.4" height="2.4" fill="#ffa400"/><rect x="51.8" y="166.6" width="2.4" height="2.4" fill="#ffee20"/><rect x="53.9" y="166.6" width="2.4" height="2.4" fill="#ff7c00"/><rect x="39.2" y="168.7" width="2.4" height="2.4" fill="#ffee20"/><rect x="41.3" y="168.7" width="2.4" height="2.4" fill="#ffffd8"/><rect x="43.4" y="168.7" width="2.4" height="2.4" fill="#ffffd8"/><rect x="45.5" y="168.7" width="2.4" height="2.4" fill="#ffffd8"/><rect x="47.6" y="168.7" width="2.4" height="2.4" fill="#ffffd8"/><rect x="49.7" y="168.7" width="2.4" height="2.4" fill="#ffa400"/><rect x="51.8" y="168.7" width="2.4" height="2.4" fill="#ffee20"/><rect x="53.9" y="168.7" width="2.4" height="2.4" fill="#ff7c00"/><rect x="39.2" y="170.8" width="2.4" height="2.4" fill="#ffa400"/><rect x="41.3" y="170.8" width="2.4" height="2.4" fill="#ffee20"/><rect x="43.4" y="170.8" width="2.4" height="2.4" fill="#ffffd8"/><rect x="45.5" y="170.8" width="2.4" height="2.4" fill="#ffffd8"/><rect x="47.6" y="170.8" width="2.4" height="2.4" fill="#ffffd8"/><rect x="49.7" y="170.8" width="2.4" height="2.4" fill="#ffee20"/><rect x="51.8" y="170.8" width="2.4" height="2.4" fill="#ffee20"/><rect x="53.9" y="170.8" width="2.4" height="2.4" fill="#ff7c00"/><rect x="41.3" y="172.9" width="2.4" height="2.4" fill="#ffa400"/><rect x="43.4" y="172.9" width="2.4" height="2.4" fill="#ffffd8"/><rect x="45.5" y="172.9" width="2.4" height="2.4" fill="#ffffd8"/><rect x="47.6" y="172.9" width="2.4" height="2.4" fill="#ffffd8"/><rect x="49.7" y="172.9" width="2.4" height="2.4" fill="#ffee20"/><rect x="51.8" y="172.9" width="2.4" height="2.4" fill="#ffa400"/><rect x="53.9" y="172.9" width="2.4" height="2.4" fill="#ff7c00"/><rect x="43.4" y="175" width="2.4" height="2.4" fill="#ffa400"/><rect x="45.5" y="175" width="2.4" height="2.4" fill="#ffffd8"/><rect x="47.6" y="175" width="2.4" height="2.4" fill="#ffffd8"/><rect x="49.7" y="175" width="2.4" height="2.4" fill="#ffee20"/><rect x="51.8" y="175" width="2.4" height="2.4" fill="#ffa400"/><rect x="53.9" y="175" width="2.4" height="2.4" fill="#ff7c00"/><rect x="45.5" y="177.1" width="2.4" height="2.4" fill="#ffa400"/><rect x="47.6" y="177.1" width="2.4" height="2.4" fill="#ffffd8"/><rect x="49.7" y="177.1" width="2.4" height="2.4" fill="#ffee20"/><rect x="51.8" y="177.1" width="2.4" height="2.4" fill="#ffa400"/><rect x="53.9" y="177.1" width="2.4" height="2.4" fill="#ff7c00"/><rect x="47.6" y="179.2" width="2.4" height="2.4" fill="#ffa400"/><rect x="49.7" y="179.2" width="2.4" height="2.4" fill="#ffee20"/><rect x="51.8" y="179.2" width="2.4" height="2.4" fill="#ffa400"/><rect x="49.7" y="181.3" width="2.4" height="2.4" fill="#ffa400"/><rect x="51.8" y="181.3" width="2.4" height="2.4" fill="#ffa400"/><rect x="126.9" y="159.3" width="3.6" height="3.6" fill="#2f86b8"/><rect x="129" y="159.3" width="3.6" height="3.6" fill="#2f86b8"/><rect x="131.1" y="159.3" width="3.6" height="3.6" fill="#2f86b8"/><rect x="124.8" y="161.4" width="3.6" height="3.6" fill="#2f86b8"/><rect x="126.9" y="161.4" width="3.6" height="3.6" fill="#2f86b8"/><rect x="129" y="161.4" width="3.6" height="3.6" fill="#2f86b8"/><rect x="131.1" y="161.4" width="3.6" height="3.6" fill="#2f86b8"/><rect x="133.2" y="161.4" width="3.6" height="3.6" fill="#2f86b8"/><rect x="122.7" y="163.5" width="3.6" height="3.6" fill="#2f86b8"/><rect x="124.8" y="163.5" width="3.6" height="3.6" fill="#2f86b8"/><rect x="126.9" y="163.5" width="3.6" height="3.6" fill="#2f86b8"/><rect x="129" y="163.5" width="3.6" height="3.6" fill="#2f86b8"/><rect x="131.1" y="163.5" width="3.6" height="3.6" fill="#2f86b8"/><rect x="133.2" y="163.5" width="3.6" height="3.6" fill="#2f86b8"/><rect x="135.3" y="163.5" width="3.6" height="3.6" fill="#2f86b8"/><rect x="120.6" y="165.6" width="3.6" height="3.6" fill="#2f86b8"/><rect x="122.7" y="165.6" width="3.6" height="3.6" fill="#2f86b8"/><rect x="124.8" y="165.6" width="3.6" height="3.6" fill="#2f86b8"/><rect x="126.9" y="165.6" width="3.6" height="3.6" fill="#2f86b8"/><rect x="129" y="165.6" width="3.6" height="3.6" fill="#2f86b8"/><rect x="131.1" y="165.6" width="3.6" height="3.6" fill="#2f86b8"/><rect x="133.2" y="165.6" width="3.6" height="3.6" fill="#2f86b8"/><rect x="118.5" y="167.7" width="3.6" height="3.6" fill="#2f86b8"/><rect x="120.6" y="167.7" width="3.6" height="3.6" fill="#2f86b8"/><rect x="122.7" y="167.7" width="3.6" height="3.6" fill="#2f86b8"/><rect x="124.8" y="167.7" width="3.6" height="3.6" fill="#2f86b8"/><rect x="126.9" y="167.7" width="3.6" height="3.6" fill="#2f86b8"/><rect x="129" y="167.7" width="3.6" height="3.6" fill="#2f86b8"/><rect x="131.1" y="167.7" width="3.6" height="3.6" fill="#2f86b8"/><rect x="116.4" y="169.8" width="3.6" height="3.6" fill="#2f86b8"/><rect x="118.5" y="169.8" width="3.6" height="3.6" fill="#2f86b8"/><rect x="120.6" y="169.8" width="3.6" height="3.6" fill="#2f86b8"/><rect x="122.7" y="169.8" width="3.6" height="3.6" fill="#2f86b8"/><rect x="124.8" y="169.8" width="3.6" height="3.6" fill="#2f86b8"/><rect x="126.9" y="169.8" width="3.6" height="3.6" fill="#2f86b8"/><rect x="129" y="169.8" width="3.6" height="3.6" fill="#2f86b8"/><rect x="116.4" y="171.9" width="3.6" height="3.6" fill="#2f86b8"/><rect x="118.5" y="171.9" width="3.6" height="3.6" fill="#2f86b8"/><rect x="120.6" y="171.9" width="3.6" height="3.6" fill="#2f86b8"/><rect x="122.7" y="171.9" width="3.6" height="3.6" fill="#2f86b8"/><rect x="124.8" y="171.9" width="3.6" height="3.6" fill="#2f86b8"/><rect x="126.9" y="171.9" width="3.6" height="3.6" fill="#2f86b8"/><rect x="114.3" y="174" width="3.6" height="3.6" fill="#2f86b8"/><rect x="116.4" y="174" width="3.6" height="3.6" fill="#2f86b8"/><rect x="118.5" y="174" width="3.6" height="3.6" fill="#2f86b8"/><rect x="120.6" y="174" width="3.6" height="3.6" fill="#2f86b8"/><rect x="122.7" y="174" width="3.6" height="3.6" fill="#2f86b8"/><rect x="124.8" y="174" width="3.6" height="3.6" fill="#2f86b8"/><rect x="116.4" y="176.1" width="3.6" height="3.6" fill="#2f86b8"/><rect x="118.5" y="176.1" width="3.6" height="3.6" fill="#2f86b8"/><rect x="120.6" y="176.1" width="3.6" height="3.6" fill="#2f86b8"/><rect x="122.7" y="176.1" width="3.6" height="3.6" fill="#2f86b8"/><rect x="124.8" y="176.1" width="3.6" height="3.6" fill="#2f86b8"/><rect x="118.5" y="178.2" width="3.6" height="3.6" fill="#2f86b8"/><rect x="120.6" y="178.2" width="3.6" height="3.6" fill="#2f86b8"/><rect x="122.7" y="178.2" width="3.6" height="3.6" fill="#2f86b8"/><rect x="127.5" y="159.9" width="2.4" height="2.4" fill="#ffa400"/><rect x="129.6" y="159.9" width="2.4" height="2.4" fill="#ffee20"/><rect x="131.7" y="159.9" width="2.4" height="2.4" fill="#ffee20"/><rect x="125.4" y="162" width="2.4" height="2.4" fill="#ffa400"/><rect x="127.5" y="162" width="2.4" height="2.4" fill="#ffee20"/><rect x="129.6" y="162" width="2.4" height="2.4" fill="#ffffd8"/><rect x="131.7" y="162" width="2.4" height="2.4" fill="#ffffd8"/><rect x="133.8" y="162" width="2.4" height="2.4" fill="#ffee20"/><rect x="123.3" y="164.1" width="2.4" height="2.4" fill="#ffa400"/><rect x="125.4" y="164.1" width="2.4" height="2.4" fill="#ffee20"/><rect x="127.5" y="164.1" width="2.4" height="2.4" fill="#ffffd8"/><rect x="129.6" y="164.1" width="2.4" height="2.4" fill="#ffffd8"/><rect x="131.7" y="164.1" width="2.4" height="2.4" fill="#ffffd8"/><rect x="133.8" y="164.1" width="2.4" height="2.4" fill="#ffffd8"/><rect x="135.9" y="164.1" width="2.4" height="2.4" fill="#ffee20"/><rect x="121.2" y="166.2" width="2.4" height="2.4" fill="#ffa400"/><rect x="123.3" y="166.2" width="2.4" height="2.4" fill="#ffee20"/><rect x="125.4" y="166.2" width="2.4" height="2.4" fill="#ffee20"/><rect x="127.5" y="166.2" width="2.4" height="2.4" fill="#ffffd8"/><rect x="129.6" y="166.2" width="2.4" height="2.4" fill="#ffffd8"/><rect x="131.7" y="166.2" width="2.4" height="2.4" fill="#ffffd8"/><rect x="133.8" y="166.2" width="2.4" height="2.4" fill="#ffee20"/><rect x="119.1" y="168.3" width="2.4" height="2.4" fill="#ffa400"/><rect x="121.2" y="168.3" width="2.4" height="2.4" fill="#ffa400"/><rect x="123.3" y="168.3" width="2.4" height="2.4" fill="#ffa400"/><rect x="125.4" y="168.3" width="2.4" height="2.4" fill="#ffee20"/><rect x="127.5" y="168.3" width="2.4" height="2.4" fill="#ffffd8"/><rect x="129.6" y="168.3" width="2.4" height="2.4" fill="#ffffd8"/><rect x="131.7" y="168.3" width="2.4" height="2.4" fill="#ffee20"/><rect x="117" y="170.4" width="2.4" height="2.4" fill="#ff7c00"/><rect x="119.1" y="170.4" width="2.4" height="2.4" fill="#ffa400"/><rect x="121.2" y="170.4" width="2.4" height="2.4" fill="#ffa400"/><rect x="123.3" y="170.4" width="2.4" height="2.4" fill="#ffee20"/><rect x="125.4" y="170.4" width="2.4" height="2.4" fill="#fff86a"/><rect x="127.5" y="170.4" width="2.4" height="2.4" fill="#ffffd8"/><rect x="129.6" y="170.4" width="2.4" height="2.4" fill="#ffee20"/><rect x="117" y="172.5" width="2.4" height="2.4" fill="#ff7c00"/><rect x="119.1" y="172.5" width="2.4" height="2.4" fill="#ffa400"/><rect x="121.2" y="172.5" width="2.4" height="2.4" fill="#ffa400"/><rect x="123.3" y="172.5" width="2.4" height="2.4" fill="#ffee20"/><rect x="125.4" y="172.5" width="2.4" height="2.4" fill="#fff86a"/><rect x="127.5" y="172.5" width="2.4" height="2.4" fill="#ffee20"/><rect x="114.9" y="174.6" width="2.4" height="2.4" fill="#ff7c00"/><rect x="117" y="174.6" width="2.4" height="2.4" fill="#ff7c00"/><rect x="119.1" y="174.6" width="2.4" height="2.4" fill="#ffa400"/><rect x="121.2" y="174.6" width="2.4" height="2.4" fill="#ffa400"/><rect x="123.3" y="174.6" width="2.4" height="2.4" fill="#ffee20"/><rect x="125.4" y="174.6" width="2.4" height="2.4" fill="#ffee20"/><rect x="117" y="176.7" width="2.4" height="2.4" fill="#ff7c00"/><rect x="119.1" y="176.7" width="2.4" height="2.4" fill="#ff7c00"/><rect x="121.2" y="176.7" width="2.4" height="2.4" fill="#ffa400"/><rect x="123.3" y="176.7" width="2.4" height="2.4" fill="#ffa400"/><rect x="125.4" y="176.7" width="2.4" height="2.4" fill="#ffa400"/><rect x="119.1" y="178.8" width="2.4" height="2.4" fill="#ff7c00"/><rect x="121.2" y="178.8" width="2.4" height="2.4" fill="#ff7c00"/><rect x="123.3" y="178.8" width="2.4" height="2.4" fill="#ffa400"/>
<text x="10.5" y="20.2" font-size="17.5" font-weight="bold" fill="#fff">L</text>
</g>
<g transform="translate(233 60.6) scale(0.9966 1.0007)">
<rect x="0" y="0" width="177" height="211" fill="#000"/>
<g filter="url(#soft)">
<path d="M88 4 L91.3 4.1 L94.6 4.3 L97.9 4.7 L101.2 5.2 L104.5 5.9 L107.8 6.8 L111 7.9 L114.2 9.1 L117.4 10.5 L120.5 12 L123.6 13.7 L126.6 15.6 L129.6 17.6 L132.5 19.8 L135.3 22.2 L138.1 24.7 L140.7 27.3 L143.3 30.1 L145.8 33.1 L148.3 36.1 L150.6 39.3 L152.8 42.7 L154.9 46.1 L156.9 49.6 L158.8 53.3 L160.6 57.1 L162.2 60.9 L163.8 64.8 L165.2 68.8 L166.5 72.9 L167.6 77.1 L168.7 81.3 L169.6 85.5 L170.4 89.8 L171 94.1 L171.6 98.5 L172 102.8 L172.3 107.2 L172.4 111.6 L172.5 116 L172.5 119.5 L172.4 123.1 L172.3 126.6 L172.2 130.2 L171.9 133.8 L171.6 137.3 L171.1 140.9 L170.5 144.5 L169.9 148.1 L169 151.7 L168.1 155.3 L166.9 158.8 L165.7 162.3 L164.2 165.7 L162.6 169 L160.8 172.3 L158.9 175.4 L156.8 178.5 L154.5 181.4 L152 184.1 L149.5 186.7 L146.7 189.2 L143.9 191.4 L140.9 193.5 L137.9 195.4 L134.7 197.1 L131.5 198.6 L128.2 200 L124.9 201.2 L121.6 202.2 L118.2 203.1 L114.8 203.8 L111.4 204.4 L108.1 204.9 L104.7 205.3 L101.3 205.5 L98 205.7 L94.6 205.8 L91.3 205.9 L88 205.9 L84.7 205.9 L81.4 205.8 L78 205.7 L74.7 205.5 L71.3 205.3 L67.9 204.9 L64.6 204.4 L61.2 203.8 L57.8 203.1 L54.4 202.2 L51.1 201.2 L47.8 200 L44.5 198.6 L41.3 197.1 L38.1 195.4 L35.1 193.5 L32.1 191.4 L29.3 189.2 L26.5 186.7 L24 184.1 L21.5 181.4 L19.2 178.5 L17.1 175.4 L15.2 172.3 L13.4 169 L11.8 165.7 L10.3 162.3 L9.1 158.8 L7.9 155.3 L7 151.7 L6.1 148.1 L5.5 144.5 L4.9 140.9 L4.4 137.3 L4.1 133.8 L3.8 130.2 L3.7 126.6 L3.6 123.1 L3.5 119.5 L3.5 116 L3.6 111.6 L3.7 107.2 L4 102.8 L4.4 98.5 L5 94.1 L5.6 89.8 L6.4 85.5 L7.3 81.3 L8.4 77.1 L9.5 72.9 L10.8 68.8 L12.2 64.8 L13.8 60.9 L15.4 57.1 L17.2 53.3 L19.1 49.6 L21.1 46.1 L23.2 42.7 L25.4 39.3 L27.7 36.1 L30.2 33.1 L32.7 30.1 L35.3 27.3 L37.9 24.7 L40.7 22.2 L43.5 19.8 L46.4 17.6 L49.4 15.6 L52.4 13.7 L55.5 12 L58.6 10.5 L61.8 9.1 L65 7.9 L68.2 6.8 L71.5 5.9 L74.8 5.2 L78.1 4.7 L81.4 4.3 L84.7 4.1Z" fill="#4c4c4c" stroke="#bcbcbc" stroke-width="1.3"/>
<path d="M88 9 L90.8 9.1 L93.7 9.3 L96.5 9.7 L99.4 10.2 L102.2 10.9 L105 11.7 L107.7 12.7 L110.5 13.9 L113.2 15.2 L115.9 16.6 L118.5 18.3 L121.1 20.1 L123.7 22 L126.2 24.1 L128.6 26.4 L131 28.8 L133.2 31.3 L135.5 34 L137.6 36.8 L139.7 39.7 L141.7 42.8 L143.6 45.9 L145.4 49.2 L147.1 52.6 L148.7 56.1 L150.3 59.7 L151.7 63.4 L153 67.1 L154.2 71 L155.3 74.8 L156.3 78.8 L157.2 82.8 L158 86.9 L158.7 91 L159.2 95.1 L159.7 99.2 L160.1 103.4 L160.3 107.6 L160.5 111.8 L160.5 116 L160.5 119.3 L160.4 122.6 L160.4 125.9 L160.2 129.2 L160 132.5 L159.7 135.8 L159.3 139.1 L158.8 142.5 L158.2 145.8 L157.5 149.1 L156.7 152.4 L155.7 155.7 L154.6 158.9 L153.4 162.1 L152 165.2 L150.5 168.2 L148.8 171.1 L147 174 L145 176.7 L142.9 179.2 L140.7 181.6 L138.4 183.9 L135.9 186 L133.4 187.9 L130.8 189.6 L128.1 191.2 L125.3 192.7 L122.5 193.9 L119.7 195 L116.8 196 L113.9 196.8 L111 197.5 L108.1 198 L105.2 198.5 L102.3 198.8 L99.4 199.1 L96.6 199.2 L93.7 199.3 L90.8 199.4 L88 199.4 L85.2 199.4 L82.3 199.3 L79.4 199.2 L76.6 199.1 L73.7 198.8 L70.8 198.5 L67.9 198 L65 197.5 L62.1 196.8 L59.2 196 L56.3 195 L53.5 193.9 L50.7 192.7 L47.9 191.2 L45.2 189.6 L42.6 187.9 L40.1 186 L37.6 183.9 L35.3 181.6 L33.1 179.2 L31 176.7 L29 174 L27.2 171.1 L25.5 168.2 L24 165.2 L22.6 162.1 L21.4 158.9 L20.3 155.7 L19.3 152.4 L18.5 149.1 L17.8 145.8 L17.2 142.5 L16.7 139.1 L16.3 135.8 L16 132.5 L15.8 129.2 L15.6 125.9 L15.6 122.6 L15.5 119.3 L15.5 116 L15.5 111.8 L15.7 107.6 L15.9 103.4 L16.3 99.2 L16.8 95.1 L17.3 91 L18 86.9 L18.8 82.8 L19.7 78.8 L20.7 74.8 L21.8 71 L23 67.1 L24.3 63.4 L25.7 59.7 L27.3 56.1 L28.9 52.6 L30.6 49.2 L32.4 45.9 L34.3 42.8 L36.3 39.7 L38.4 36.8 L40.5 34 L42.8 31.3 L45 28.8 L47.4 26.4 L49.8 24.1 L52.3 22 L54.9 20.1 L57.5 18.3 L60.1 16.6 L62.8 15.2 L65.5 13.9 L68.3 12.7 L71 11.7 L73.8 10.9 L76.6 10.2 L79.5 9.7 L82.3 9.3 L85.2 9.1Z" fill="#060606" stroke="#cacaca" stroke-width="1.4"/>

<clipPath id="bc2"><path d="M88 13.5 L90.7 13.6 L93.3 13.7 L96 14.1 L98.7 14.5 L101.3 15.1 L104 15.9 L106.6 16.8 L109.2 17.9 L111.7 19.1 L114.3 20.5 L116.8 22.1 L119.2 23.8 L121.7 25.6 L124 27.7 L126.3 29.8 L128.6 32.2 L130.8 34.6 L132.9 37.2 L134.9 40 L136.9 42.9 L138.8 45.9 L140.6 49 L142.3 52.3 L143.9 55.6 L145.4 59.1 L146.8 62.6 L148.1 66.3 L149.3 70 L150.4 73.8 L151.4 77.6 L152.3 81.5 L153.1 85.5 L153.8 89.5 L154.4 93.5 L154.9 97.5 L155.3 101.6 L155.6 105.7 L155.8 109.8 L156 113.9 L156 118 L156 120.9 L156 123.8 L155.9 126.7 L155.8 129.6 L155.7 132.6 L155.5 135.5 L155.2 138.5 L154.8 141.5 L154.4 144.5 L153.8 147.5 L153.1 150.5 L152.3 153.4 L151.4 156.4 L150.3 159.3 L149.1 162.1 L147.7 164.9 L146.1 167.5 L144.4 170.1 L142.6 172.6 L140.6 174.9 L138.5 177 L136.2 179 L133.8 180.8 L131.4 182.5 L128.8 184 L126.2 185.3 L123.5 186.5 L120.8 187.5 L118 188.4 L115.3 189.1 L112.5 189.7 L109.7 190.2 L107 190.6 L104.2 190.9 L101.5 191.2 L98.7 191.3 L96 191.4 L93.3 191.5 L90.7 191.5 L88 191.5 L85.3 191.5 L82.7 191.5 L80 191.4 L77.3 191.3 L74.5 191.2 L71.8 190.9 L69 190.6 L66.3 190.2 L63.5 189.7 L60.7 189.1 L58 188.4 L55.2 187.5 L52.5 186.5 L49.8 185.3 L47.2 184 L44.6 182.5 L42.2 180.8 L39.8 179 L37.5 177 L35.4 174.9 L33.4 172.6 L31.6 170.1 L29.9 167.5 L28.3 164.9 L26.9 162.1 L25.7 159.3 L24.6 156.4 L23.7 153.4 L22.9 150.5 L22.2 147.5 L21.6 144.5 L21.2 141.5 L20.8 138.5 L20.5 135.5 L20.3 132.6 L20.2 129.6 L20.1 126.7 L20 123.8 L20 120.9 L20 118 L20 113.9 L20.2 109.8 L20.4 105.7 L20.7 101.6 L21.1 97.5 L21.6 93.5 L22.2 89.5 L22.9 85.5 L23.7 81.5 L24.6 77.6 L25.6 73.8 L26.7 70 L27.9 66.3 L29.2 62.6 L30.6 59.1 L32.1 55.6 L33.7 52.3 L35.4 49 L37.2 45.9 L39.1 42.9 L41.1 40 L43.1 37.2 L45.2 34.6 L47.4 32.2 L49.7 29.8 L52 27.7 L54.3 25.6 L56.8 23.8 L59.2 22.1 L61.7 20.5 L64.3 19.1 L66.8 17.9 L69.4 16.8 L72 15.9 L74.7 15.1 L77.3 14.5 L80 14.1 L82.7 13.7 L85.3 13.6Z"/></clipPath>
<g clip-path="url(#bc2)">
<path d="M88 13.5 L90.7 13.6 L93.3 13.7 L96 14.1 L98.7 14.5 L101.3 15.1 L104 15.9 L106.6 16.8 L109.2 17.9 L111.7 19.1 L114.3 20.5 L116.8 22.1 L119.2 23.8 L121.7 25.6 L124 27.7 L126.3 29.8 L128.6 32.2 L130.8 34.6 L132.9 37.2 L134.9 40 L136.9 42.9 L138.8 45.9 L140.6 49 L142.3 52.3 L143.9 55.6 L145.4 59.1 L146.8 62.6 L148.1 66.3 L149.3 70 L150.4 73.8 L151.4 77.6 L152.3 81.5 L153.1 85.5 L153.8 89.5 L154.4 93.5 L154.9 97.5 L155.3 101.6 L155.6 105.7 L155.8 109.8 L156 113.9 L156 118 L156 120.9 L156 123.8 L155.9 126.7 L155.8 129.6 L155.7 132.6 L155.5 135.5 L155.2 138.5 L154.8 141.5 L154.4 144.5 L153.8 147.5 L153.1 150.5 L152.3 153.4 L151.4 156.4 L150.3 159.3 L149.1 162.1 L147.7 164.9 L146.1 167.5 L144.4 170.1 L142.6 172.6 L140.6 174.9 L138.5 177 L136.2 179 L133.8 180.8 L131.4 182.5 L128.8 184 L126.2 185.3 L123.5 186.5 L120.8 187.5 L118 188.4 L115.3 189.1 L112.5 189.7 L109.7 190.2 L107 190.6 L104.2 190.9 L101.5 191.2 L98.7 191.3 L96 191.4 L93.3 191.5 L90.7 191.5 L88 191.5 L85.3 191.5 L82.7 191.5 L80 191.4 L77.3 191.3 L74.5 191.2 L71.8 190.9 L69 190.6 L66.3 190.2 L63.5 189.7 L60.7 189.1 L58 188.4 L55.2 187.5 L52.5 186.5 L49.8 185.3 L47.2 184 L44.6 182.5 L42.2 180.8 L39.8 179 L37.5 177 L35.4 174.9 L33.4 172.6 L31.6 170.1 L29.9 167.5 L28.3 164.9 L26.9 162.1 L25.7 159.3 L24.6 156.4 L23.7 153.4 L22.9 150.5 L22.2 147.5 L21.6 144.5 L21.2 141.5 L20.8 138.5 L20.5 135.5 L20.3 132.6 L20.2 129.6 L20.1 126.7 L20 123.8 L20 120.9 L20 118 L20 113.9 L20.2 109.8 L20.4 105.7 L20.7 101.6 L21.1 97.5 L21.6 93.5 L22.2 89.5 L22.9 85.5 L23.7 81.5 L24.6 77.6 L25.6 73.8 L26.7 70 L27.9 66.3 L29.2 62.6 L30.6 59.1 L32.1 55.6 L33.7 52.3 L35.4 49 L37.2 45.9 L39.1 42.9 L41.1 40 L43.1 37.2 L45.2 34.6 L47.4 32.2 L49.7 29.8 L52 27.7 L54.3 25.6 L56.8 23.8 L59.2 22.1 L61.7 20.5 L64.3 19.1 L66.8 17.9 L69.4 16.8 L72 15.9 L74.7 15.1 L77.3 14.5 L80 14.1 L82.7 13.7 L85.3 13.6Z" fill="#161616"/>

<path d="M37.5 30 C41 24.3 50.4 23 56 22 C61.6 21 68.2 19 71 24 C73.8 29 74.5 45.3 73 52 C71.5 58.7 66.2 61.7 62 64 C57.8 66.3 52.5 67.3 48 66 C43.5 64.7 36.8 62 35 56 C33.2 50 34 35.7 37.5 30Z" fill="#2d2d2d"/><path d="M138.5 30 C135 24.3 125.6 23 120 22 C114.4 21 107.8 19 105 24 C102.2 29 101.5 45.3 103 52 C104.5 58.7 109.8 61.7 114 64 C118.2 66.3 123.5 67.3 128 66 C132.5 64.7 139.2 62 141 56 C142.8 50 142 35.7 138.5 30Z" fill="#2d2d2d"/><ellipse cx="54" cy="36" rx="9" ry="8" fill="#4c4c4c" transform="rotate(-20 54 36)"/><ellipse cx="60" cy="52" rx="8" ry="6" fill="#1e1e1e"/><ellipse cx="44" cy="48" rx="5" ry="8" fill="#444"/><ellipse cx="122" cy="36" rx="9" ry="8" fill="#4c4c4c" transform="rotate(20 122 36)"/><ellipse cx="116" cy="52" rx="8" ry="6" fill="#1e1e1e"/><ellipse cx="132" cy="48" rx="5" ry="8" fill="#444"/><path d="M21 116 C20.4 105.7 20.3 96 22.5 88 C24.7 80 29.1 72.2 34 68 C38.9 63.8 46.2 62.3 52 63 C57.8 63.7 65.2 67.8 69 72 C72.8 76.2 75.2 82.3 75 88 C74.8 93.7 71.2 100 68 106 C64.8 112 60 119 56 124 C52 129 47 131.7 44 136 C41 140.3 38 145 38 150 C38 155 44.3 163 44 166 C43.7 169 39 170.7 36 168 C33 165.3 28.5 158.7 26 150 C23.5 141.3 21.6 126.3 21 116Z" fill="#767676"/><path d="M155 116 C155.6 105.7 155.7 96 153.5 88 C151.3 80 146.9 72.2 142 68 C137.1 63.8 129.8 62.3 124 63 C118.2 63.7 110.8 67.8 107 72 C103.2 76.2 100.8 82.3 101 88 C101.2 93.7 104.8 100 108 106 C111.2 112 116 119 120 124 C124 129 129 131.7 132 136 C135 140.3 138 145 138 150 C138 155 131.7 163 132 166 C132.3 169 137 170.7 140 168 C143 165.3 147.5 158.7 150 150 C152.5 141.3 154.4 126.3 155 116Z" fill="#767676"/><path d="M34 84 C36.7 78 42 76.3 46 76 C50 75.7 56.3 78 58 82 C59.7 86 58 94 56 100 C54 106 49.3 113.3 46 118 C42.7 122.7 38.7 129 36 128 C33.3 127 30.3 119.3 30 112 C29.7 104.7 31.3 90 34 84Z" fill="#909090"/><path d="M142 84 C139.3 78 134 76.3 130 76 C126 75.7 119.7 78 118 82 C116.3 86 118 94 120 100 C122 106 126.7 113.3 130 118 C133.3 122.7 137.3 129 140 128 C142.7 127 145.7 119.3 146 112 C146.3 104.7 144.7 90 142 84Z" fill="#909090"/><path d="M24 92 Q30 100 28 112 M36 84 l-9 7 M26 122 l10 8 M28 140 l9 6" fill="none" stroke="#484848" stroke-width="1.4" stroke-linecap="round" stroke-linejoin="round"/><path d="M52 66 Q66 72 75 84" fill="none" stroke="#1e1e1e" stroke-width="3.2" stroke-linecap="round" stroke-linejoin="round"/><ellipse cx="61" cy="104" rx="6.6" ry="7.4" fill="#9a9a9a" stroke="#4e4e4e" stroke-width="2"/><ellipse cx="63" cy="120" rx="5" ry="7" fill="#8c8c8c" stroke="#555" stroke-width="1.4" transform="rotate(-18 63 120)"/><path d="M152 92 Q146 100 148 112 M140 84 l9 7 M150 122 l-10 8 M148 140 l-9 6" fill="none" stroke="#484848" stroke-width="1.4" stroke-linecap="round" stroke-linejoin="round"/><path d="M124 66 Q110 72 101 84" fill="none" stroke="#1e1e1e" stroke-width="3.2" stroke-linecap="round" stroke-linejoin="round"/><ellipse cx="115" cy="104" rx="6.6" ry="7.4" fill="#9a9a9a" stroke="#4e4e4e" stroke-width="2"/><ellipse cx="113" cy="120" rx="5" ry="7" fill="#8c8c8c" stroke="#555" stroke-width="1.4" transform="rotate(18 113 120)"/><path d="M88 25 C91.3 25 95.5 24.8 98 28 C100.5 31.2 101.7 37.7 103 44 C104.3 50.3 105.2 59.7 106 66 C106.8 72.3 111 79 108 82 C105 85 94.7 84 88 84 C81.3 84 71 85 68 82 C65 79 69.2 72.3 70 66 C70.8 59.7 71.7 50.3 73 44 C74.3 37.7 75.5 31.2 78 28 C80.5 24.8 84.7 25 88 25Z" fill="#787878"/><path d="M80 32 L74 80 M84.5 34 Q82 58 81.5 80 M91.5 34 Q94 58 94.5 80 M96 32 L102 80" fill="none" stroke="#4a4a4a" stroke-width="1.3" stroke-linecap="round" stroke-linejoin="round"/><path d="M82.5 36 Q78.5 58 77.5 80 M93.5 36 Q97.5 58 98.5 80" fill="none" stroke="#b4b4b4" stroke-width="1.5" stroke-linecap="round" stroke-linejoin="round"/><path d="M88 24 L88 84" fill="none" stroke="#1c1c1c" stroke-width="1.6" stroke-linecap="round" stroke-linejoin="round"/><path d="M76.4 83 L99.6 83 L103.5 94 L88 101 L72.5 94 Z" fill="#2d2d2d"/><path d="M82.5 83.3 h11" fill="none" stroke="#dedede" stroke-width="2.2" stroke-linecap="round" stroke-linejoin="round"/><path d="M88 99 C86 99 84.1 94.8 82 94.6 C79.9 94.4 76.9 95.8 75.5 98 C74.1 100.2 73.1 104.8 73.5 108 C73.9 111.2 75.6 114 78 117 C80.4 120 84.7 126 88 126 C91.3 126 95.6 120 98 117 C100.4 114 102.1 111.2 102.5 108 C102.9 104.8 101.9 100.2 100.5 98 C99.1 95.8 96.1 94.4 94 94.6 C91.9 94.8 90 99 88 99Z" fill="#9c9c9c" stroke="#2c2c2c" stroke-width="1.7"/><ellipse cx="88" cy="121.5" rx="2.2" ry="2.8" fill="#383838"/><path d="M37.5 139 C40.9 134 46.1 129.6 52 127 C57.9 124.4 67 123.2 73 123.5 C79 123.8 83 129 88 129 C93 129 97 123.8 103 123.5 C109 123.2 118.1 124.4 124 127 C129.9 129.6 135.1 134 138.5 139 C141.9 144 145.4 150.8 144.5 157 C143.6 163.2 139.4 170.9 133 176 C126.6 181.1 113.5 186.2 106 187.5 C98.5 188.8 94 183.5 88 183.5 C82 183.5 77.5 188.8 70 187.5 C62.5 186.2 49.4 181.1 43 176 C36.6 170.9 32.4 163.2 31.5 157 C30.6 150.8 34.1 144 37.5 139Z" fill="#636363"/><path d="M83 140 Q59 143.9 34.1 142.3 M83 140 Q59.2 147.5 35.7 151.4 M83 140 Q59.5 150.8 39.4 160 M83 140 Q60 153.9 45 167.8 M83 140 Q60.7 156.5 52.4 174.6 M83 140 Q61.5 158.6 61.1 179.9 M83 140 Q62.4 160.1 71 183.7 M83 140 Q63.4 160.9 81.5 185.7 M93 140 Q117 143.9 141.9 142.3 M93 140 Q116.8 147.5 140.3 151.4 M93 140 Q116.5 150.8 136.6 160 M93 140 Q116 153.9 131 167.8 M93 140 Q115.3 156.5 123.6 174.6 M93 140 Q114.5 158.6 114.9 179.9 M93 140 Q113.6 160.1 105 183.7 M93 140 Q112.6 160.9 94.5 185.7 " fill="none" stroke="#5a5a5a" stroke-width="1.2" stroke-linecap="round" stroke-linejoin="round"/><ellipse cx="88" cy="146" rx="4.8" ry="3.6" fill="#383838"/><path d="M83 144.5 q5 -5.5 10 0" fill="none" stroke="#c8c8c8" stroke-width="1.2" stroke-linecap="round" stroke-linejoin="round"/><ellipse cx="88" cy="170" rx="3" ry="6" fill="#444"/><path d="M88 150 V188" fill="none" stroke="#4a4a4a" stroke-width="1.2" stroke-linecap="round" stroke-linejoin="round"/>
</g>

</g>
<path d="M88 4 L91.3 4.1 L94.6 4.3 L97.9 4.7 L101.2 5.2 L104.5 5.9 L107.8 6.8 L111 7.9 L114.2 9.1 L117.4 10.5 L120.5 12 L123.6 13.7 L126.6 15.6 L129.6 17.6 L132.5 19.8 L135.3 22.2 L138.1 24.7 L140.7 27.3 L143.3 30.1 L145.8 33.1 L148.3 36.1 L150.6 39.3 L152.8 42.7 L154.9 46.1 L156.9 49.6 L158.8 53.3 L160.6 57.1 L162.2 60.9 L163.8 64.8 L165.2 68.8 L166.5 72.9 L167.6 77.1 L168.7 81.3 L169.6 85.5 L170.4 89.8 L171 94.1 L171.6 98.5 L172 102.8 L172.3 107.2 L172.4 111.6 L172.5 116 L172.5 119.5 L172.4 123.1 L172.3 126.6 L172.2 130.2 L171.9 133.8 L171.6 137.3 L171.1 140.9 L170.5 144.5 L169.9 148.1 L169 151.7 L168.1 155.3 L166.9 158.8 L165.7 162.3 L164.2 165.7 L162.6 169 L160.8 172.3 L158.9 175.4 L156.8 178.5 L154.5 181.4 L152 184.1 L149.5 186.7 L146.7 189.2 L143.9 191.4 L140.9 193.5 L137.9 195.4 L134.7 197.1 L131.5 198.6 L128.2 200 L124.9 201.2 L121.6 202.2 L118.2 203.1 L114.8 203.8 L111.4 204.4 L108.1 204.9 L104.7 205.3 L101.3 205.5 L98 205.7 L94.6 205.8 L91.3 205.9 L88 205.9 L84.7 205.9 L81.4 205.8 L78 205.7 L74.7 205.5 L71.3 205.3 L67.9 204.9 L64.6 204.4 L61.2 203.8 L57.8 203.1 L54.4 202.2 L51.1 201.2 L47.8 200 L44.5 198.6 L41.3 197.1 L38.1 195.4 L35.1 193.5 L32.1 191.4 L29.3 189.2 L26.5 186.7 L24 184.1 L21.5 181.4 L19.2 178.5 L17.1 175.4 L15.2 172.3 L13.4 169 L11.8 165.7 L10.3 162.3 L9.1 158.8 L7.9 155.3 L7 151.7 L6.1 148.1 L5.5 144.5 L4.9 140.9 L4.4 137.3 L4.1 133.8 L3.8 130.2 L3.7 126.6 L3.6 123.1 L3.5 119.5 L3.5 116 L3.6 111.6 L3.7 107.2 L4 102.8 L4.4 98.5 L5 94.1 L5.6 89.8 L6.4 85.5 L7.3 81.3 L8.4 77.1 L9.5 72.9 L10.8 68.8 L12.2 64.8 L13.8 60.9 L15.4 57.1 L17.2 53.3 L19.1 49.6 L21.1 46.1 L23.2 42.7 L25.4 39.3 L27.7 36.1 L30.2 33.1 L32.7 30.1 L35.3 27.3 L37.9 24.7 L40.7 22.2 L43.5 19.8 L46.4 17.6 L49.4 15.6 L52.4 13.7 L55.5 12 L58.6 10.5 L61.8 9.1 L65 7.9 L68.2 6.8 L71.5 5.9 L74.8 5.2 L78.1 4.7 L81.4 4.3 L84.7 4.1Z" fill="#808080" filter="url(#grain)" opacity="0.3" style="mix-blend-mode:overlay"/>
<rect x="48.4" y="128.7" width="3.6" height="3.6" fill="#2f86b8"/><rect x="50.5" y="128.7" width="3.6" height="3.6" fill="#2f86b8"/><rect x="46.3" y="130.8" width="3.6" height="3.6" fill="#2f86b8"/><rect x="48.4" y="130.8" width="3.6" height="3.6" fill="#2f86b8"/><rect x="50.5" y="130.8" width="3.6" height="3.6" fill="#2f86b8"/><rect x="52.6" y="130.8" width="3.6" height="3.6" fill="#2f86b8"/><rect x="44.2" y="132.9" width="3.6" height="3.6" fill="#2f86b8"/><rect x="46.3" y="132.9" width="3.6" height="3.6" fill="#2f86b8"/><rect x="48.4" y="132.9" width="3.6" height="3.6" fill="#2f86b8"/><rect x="50.5" y="132.9" width="3.6" height="3.6" fill="#2f86b8"/><rect x="52.6" y="132.9" width="3.6" height="3.6" fill="#2f86b8"/><rect x="54.7" y="132.9" width="3.6" height="3.6" fill="#2f86b8"/><rect x="44.2" y="135" width="3.6" height="3.6" fill="#2f86b8"/><rect x="46.3" y="135" width="3.6" height="3.6" fill="#2f86b8"/><rect x="48.4" y="135" width="3.6" height="3.6" fill="#2f86b8"/><rect x="50.5" y="135" width="3.6" height="3.6" fill="#2f86b8"/><rect x="52.6" y="135" width="3.6" height="3.6" fill="#2f86b8"/><rect x="54.7" y="135" width="3.6" height="3.6" fill="#2f86b8"/><rect x="42.1" y="137.1" width="3.6" height="3.6" fill="#2f86b8"/><rect x="44.2" y="137.1" width="3.6" height="3.6" fill="#2f86b8"/><rect x="46.3" y="137.1" width="3.6" height="3.6" fill="#2f86b8"/><rect x="48.4" y="137.1" width="3.6" height="3.6" fill="#2f86b8"/><rect x="50.5" y="137.1" width="3.6" height="3.6" fill="#2f86b8"/><rect x="52.6" y="137.1" width="3.6" height="3.6" fill="#2f86b8"/><rect x="54.7" y="137.1" width="3.6" height="3.6" fill="#2f86b8"/><rect x="42.1" y="139.2" width="3.6" height="3.6" fill="#2f86b8"/><rect x="44.2" y="139.2" width="3.6" height="3.6" fill="#2f86b8"/><rect x="46.3" y="139.2" width="3.6" height="3.6" fill="#2f86b8"/><rect x="48.4" y="139.2" width="3.6" height="3.6" fill="#2f86b8"/><rect x="50.5" y="139.2" width="3.6" height="3.6" fill="#2f86b8"/><rect x="52.6" y="139.2" width="3.6" height="3.6" fill="#2f86b8"/><rect x="54.7" y="139.2" width="3.6" height="3.6" fill="#2f86b8"/><rect x="42.1" y="141.3" width="3.6" height="3.6" fill="#2f86b8"/><rect x="44.2" y="141.3" width="3.6" height="3.6" fill="#2f86b8"/><rect x="46.3" y="141.3" width="3.6" height="3.6" fill="#2f86b8"/><rect x="48.4" y="141.3" width="3.6" height="3.6" fill="#2f86b8"/><rect x="50.5" y="141.3" width="3.6" height="3.6" fill="#2f86b8"/><rect x="52.6" y="141.3" width="3.6" height="3.6" fill="#2f86b8"/><rect x="54.7" y="141.3" width="3.6" height="3.6" fill="#2f86b8"/><rect x="42.1" y="143.4" width="3.6" height="3.6" fill="#2f86b8"/><rect x="44.2" y="143.4" width="3.6" height="3.6" fill="#2f86b8"/><rect x="46.3" y="143.4" width="3.6" height="3.6" fill="#2f86b8"/><rect x="48.4" y="143.4" width="3.6" height="3.6" fill="#2f86b8"/><rect x="50.5" y="143.4" width="3.6" height="3.6" fill="#2f86b8"/><rect x="52.6" y="143.4" width="3.6" height="3.6" fill="#2f86b8"/><rect x="40" y="145.5" width="3.6" height="3.6" fill="#2f86b8"/><rect x="42.1" y="145.5" width="3.6" height="3.6" fill="#2f86b8"/><rect x="44.2" y="145.5" width="3.6" height="3.6" fill="#2f86b8"/><rect x="46.3" y="145.5" width="3.6" height="3.6" fill="#2f86b8"/><rect x="48.4" y="145.5" width="3.6" height="3.6" fill="#2f86b8"/><rect x="50.5" y="145.5" width="3.6" height="3.6" fill="#2f86b8"/><rect x="40" y="147.6" width="3.6" height="3.6" fill="#2f86b8"/><rect x="42.1" y="147.6" width="3.6" height="3.6" fill="#2f86b8"/><rect x="44.2" y="147.6" width="3.6" height="3.6" fill="#2f86b8"/><rect x="46.3" y="147.6" width="3.6" height="3.6" fill="#2f86b8"/><rect x="48.4" y="147.6" width="3.6" height="3.6" fill="#2f86b8"/><rect x="37.9" y="149.7" width="3.6" height="3.6" fill="#2f86b8"/><rect x="40" y="149.7" width="3.6" height="3.6" fill="#2f86b8"/><rect x="42.1" y="149.7" width="3.6" height="3.6" fill="#2f86b8"/><rect x="44.2" y="149.7" width="3.6" height="3.6" fill="#2f86b8"/><rect x="46.3" y="149.7" width="3.6" height="3.6" fill="#2f86b8"/><rect x="40" y="151.8" width="3.6" height="3.6" fill="#2f86b8"/><rect x="42.1" y="151.8" width="3.6" height="3.6" fill="#2f86b8"/><rect x="44.2" y="151.8" width="3.6" height="3.6" fill="#2f86b8"/><rect x="40" y="153.9" width="3.6" height="3.6" fill="#2f86b8"/><rect x="42.1" y="153.9" width="3.6" height="3.6" fill="#2f86b8"/><rect x="49" y="129.3" width="2.4" height="2.4" fill="#ffa400"/><rect x="51.1" y="129.3" width="2.4" height="2.4" fill="#ffa400"/><rect x="46.9" y="131.4" width="2.4" height="2.4" fill="#ffa400"/><rect x="49" y="131.4" width="2.4" height="2.4" fill="#ffee20"/><rect x="51.1" y="131.4" width="2.4" height="2.4" fill="#ffee20"/><rect x="53.2" y="131.4" width="2.4" height="2.4" fill="#ffa400"/><rect x="44.8" y="133.5" width="2.4" height="2.4" fill="#ffa400"/><rect x="46.9" y="133.5" width="2.4" height="2.4" fill="#ffee20"/><rect x="49" y="133.5" width="2.4" height="2.4" fill="#ffee20"/><rect x="51.1" y="133.5" width="2.4" height="2.4" fill="#ffee20"/><rect x="53.2" y="133.5" width="2.4" height="2.4" fill="#ffa400"/><rect x="55.3" y="133.5" width="2.4" height="2.4" fill="#ff7c00"/><rect x="44.8" y="135.6" width="2.4" height="2.4" fill="#ffa400"/><rect x="46.9" y="135.6" width="2.4" height="2.4" fill="#ffee20"/><rect x="49" y="135.6" width="2.4" height="2.4" fill="#ffee20"/><rect x="51.1" y="135.6" width="2.4" height="2.4" fill="#ffee20"/><rect x="53.2" y="135.6" width="2.4" height="2.4" fill="#ffa400"/><rect x="55.3" y="135.6" width="2.4" height="2.4" fill="#ff7c00"/><rect x="42.7" y="137.7" width="2.4" height="2.4" fill="#ff7c00"/><rect x="44.8" y="137.7" width="2.4" height="2.4" fill="#ffa400"/><rect x="46.9" y="137.7" width="2.4" height="2.4" fill="#ffee20"/><rect x="49" y="137.7" width="2.4" height="2.4" fill="#ffee20"/><rect x="51.1" y="137.7" width="2.4" height="2.4" fill="#ffee20"/><rect x="53.2" y="137.7" width="2.4" height="2.4" fill="#ffa400"/><rect x="55.3" y="137.7" width="2.4" height="2.4" fill="#ff7c00"/><rect x="42.7" y="139.8" width="2.4" height="2.4" fill="#ff7c00"/><rect x="44.8" y="139.8" width="2.4" height="2.4" fill="#ffa400"/><rect x="46.9" y="139.8" width="2.4" height="2.4" fill="#ffee20"/><rect x="49" y="139.8" width="2.4" height="2.4" fill="#ffee20"/><rect x="51.1" y="139.8" width="2.4" height="2.4" fill="#ffee20"/><rect x="53.2" y="139.8" width="2.4" height="2.4" fill="#ffa400"/><rect x="55.3" y="139.8" width="2.4" height="2.4" fill="#ff7c00"/><rect x="42.7" y="141.9" width="2.4" height="2.4" fill="#ff7c00"/><rect x="44.8" y="141.9" width="2.4" height="2.4" fill="#ffa400"/><rect x="46.9" y="141.9" width="2.4" height="2.4" fill="#ffee20"/><rect x="49" y="141.9" width="2.4" height="2.4" fill="#ffee20"/><rect x="51.1" y="141.9" width="2.4" height="2.4" fill="#ffa400"/><rect x="53.2" y="141.9" width="2.4" height="2.4" fill="#ffa400"/><rect x="55.3" y="141.9" width="2.4" height="2.4" fill="#ff7c00"/><rect x="42.7" y="144" width="2.4" height="2.4" fill="#ff7c00"/><rect x="44.8" y="144" width="2.4" height="2.4" fill="#ffa400"/><rect x="46.9" y="144" width="2.4" height="2.4" fill="#ffee20"/><rect x="49" y="144" width="2.4" height="2.4" fill="#ffee20"/><rect x="51.1" y="144" width="2.4" height="2.4" fill="#ffa400"/><rect x="53.2" y="144" width="2.4" height="2.4" fill="#ff7c00"/><rect x="40.6" y="146.1" width="2.4" height="2.4" fill="#ff7c00"/><rect x="42.7" y="146.1" width="2.4" height="2.4" fill="#ff7c00"/><rect x="44.8" y="146.1" width="2.4" height="2.4" fill="#ffa400"/><rect x="46.9" y="146.1" width="2.4" height="2.4" fill="#ffee20"/><rect x="49" y="146.1" width="2.4" height="2.4" fill="#ffa400"/><rect x="51.1" y="146.1" width="2.4" height="2.4" fill="#ff7c00"/><rect x="40.6" y="148.2" width="2.4" height="2.4" fill="#ff7c00"/><rect x="42.7" y="148.2" width="2.4" height="2.4" fill="#ffa400"/><rect x="44.8" y="148.2" width="2.4" height="2.4" fill="#ffa400"/><rect x="46.9" y="148.2" width="2.4" height="2.4" fill="#ff7c00"/><rect x="49" y="148.2" width="2.4" height="2.4" fill="#ff7c00"/><rect x="38.5" y="150.3" width="2.4" height="2.4" fill="#ff7c00"/><rect x="40.6" y="150.3" width="2.4" height="2.4" fill="#ff7c00"/><rect x="42.7" y="150.3" width="2.4" height="2.4" fill="#ffa400"/><rect x="44.8" y="150.3" width="2.4" height="2.4" fill="#ffa400"/><rect x="46.9" y="150.3" width="2.4" height="2.4" fill="#ff7c00"/><rect x="40.6" y="152.4" width="2.4" height="2.4" fill="#ff7c00"/><rect x="42.7" y="152.4" width="2.4" height="2.4" fill="#ffa400"/><rect x="44.8" y="152.4" width="2.4" height="2.4" fill="#ff7c00"/><rect x="40.6" y="154.5" width="2.4" height="2.4" fill="#ff7c00"/><rect x="42.7" y="154.5" width="2.4" height="2.4" fill="#ff7c00"/><rect x="112.9" y="120.5" width="3.6" height="3.6" fill="#2f86b8"/><rect x="115" y="120.5" width="3.6" height="3.6" fill="#2f86b8"/><rect x="117.1" y="120.5" width="3.6" height="3.6" fill="#2f86b8"/><rect x="119.2" y="120.5" width="3.6" height="3.6" fill="#2f86b8"/><rect x="112.9" y="122.6" width="3.6" height="3.6" fill="#2f86b8"/><rect x="115" y="122.6" width="3.6" height="3.6" fill="#2f86b8"/><rect x="117.1" y="122.6" width="3.6" height="3.6" fill="#2f86b8"/><rect x="119.2" y="122.6" width="3.6" height="3.6" fill="#2f86b8"/><rect x="121.3" y="122.6" width="3.6" height="3.6" fill="#2f86b8"/><rect x="112.9" y="124.7" width="3.6" height="3.6" fill="#2f86b8"/><rect x="115" y="124.7" width="3.6" height="3.6" fill="#2f86b8"/><rect x="117.1" y="124.7" width="3.6" height="3.6" fill="#2f86b8"/><rect x="119.2" y="124.7" width="3.6" height="3.6" fill="#2f86b8"/><rect x="121.3" y="124.7" width="3.6" height="3.6" fill="#2f86b8"/><rect x="123.4" y="124.7" width="3.6" height="3.6" fill="#2f86b8"/><rect x="125.5" y="124.7" width="3.6" height="3.6" fill="#2f86b8"/><rect x="112.9" y="126.8" width="3.6" height="3.6" fill="#2f86b8"/><rect x="115" y="126.8" width="3.6" height="3.6" fill="#2f86b8"/><rect x="117.1" y="126.8" width="3.6" height="3.6" fill="#2f86b8"/><rect x="119.2" y="126.8" width="3.6" height="3.6" fill="#2f86b8"/><rect x="121.3" y="126.8" width="3.6" height="3.6" fill="#2f86b8"/><rect x="123.4" y="126.8" width="3.6" height="3.6" fill="#2f86b8"/><rect x="125.5" y="126.8" width="3.6" height="3.6" fill="#2f86b8"/><rect x="115" y="128.9" width="3.6" height="3.6" fill="#2f86b8"/><rect x="117.1" y="128.9" width="3.6" height="3.6" fill="#2f86b8"/><rect x="119.2" y="128.9" width="3.6" height="3.6" fill="#2f86b8"/><rect x="121.3" y="128.9" width="3.6" height="3.6" fill="#2f86b8"/><rect x="123.4" y="128.9" width="3.6" height="3.6" fill="#2f86b8"/><rect x="125.5" y="128.9" width="3.6" height="3.6" fill="#2f86b8"/><rect x="115" y="131" width="3.6" height="3.6" fill="#2f86b8"/><rect x="117.1" y="131" width="3.6" height="3.6" fill="#2f86b8"/><rect x="119.2" y="131" width="3.6" height="3.6" fill="#2f86b8"/><rect x="121.3" y="131" width="3.6" height="3.6" fill="#2f86b8"/><rect x="123.4" y="131" width="3.6" height="3.6" fill="#2f86b8"/><rect x="125.5" y="131" width="3.6" height="3.6" fill="#2f86b8"/><rect x="127.6" y="131" width="3.6" height="3.6" fill="#2f86b8"/><rect x="115" y="133.1" width="3.6" height="3.6" fill="#2f86b8"/><rect x="117.1" y="133.1" width="3.6" height="3.6" fill="#2f86b8"/><rect x="119.2" y="133.1" width="3.6" height="3.6" fill="#2f86b8"/><rect x="121.3" y="133.1" width="3.6" height="3.6" fill="#2f86b8"/><rect x="123.4" y="133.1" width="3.6" height="3.6" fill="#2f86b8"/><rect x="125.5" y="133.1" width="3.6" height="3.6" fill="#2f86b8"/><rect x="127.6" y="133.1" width="3.6" height="3.6" fill="#2f86b8"/><rect x="129.7" y="133.1" width="3.6" height="3.6" fill="#2f86b8"/><rect x="117.1" y="135.2" width="3.6" height="3.6" fill="#2f86b8"/><rect x="119.2" y="135.2" width="3.6" height="3.6" fill="#2f86b8"/><rect x="121.3" y="135.2" width="3.6" height="3.6" fill="#2f86b8"/><rect x="123.4" y="135.2" width="3.6" height="3.6" fill="#2f86b8"/><rect x="125.5" y="135.2" width="3.6" height="3.6" fill="#2f86b8"/><rect x="127.6" y="135.2" width="3.6" height="3.6" fill="#2f86b8"/><rect x="129.7" y="135.2" width="3.6" height="3.6" fill="#2f86b8"/><rect x="131.8" y="135.2" width="3.6" height="3.6" fill="#2f86b8"/><rect x="117.1" y="137.3" width="3.6" height="3.6" fill="#2f86b8"/><rect x="119.2" y="137.3" width="3.6" height="3.6" fill="#2f86b8"/><rect x="121.3" y="137.3" width="3.6" height="3.6" fill="#2f86b8"/><rect x="123.4" y="137.3" width="3.6" height="3.6" fill="#2f86b8"/><rect x="125.5" y="137.3" width="3.6" height="3.6" fill="#2f86b8"/><rect x="127.6" y="137.3" width="3.6" height="3.6" fill="#2f86b8"/><rect x="129.7" y="137.3" width="3.6" height="3.6" fill="#2f86b8"/><rect x="131.8" y="137.3" width="3.6" height="3.6" fill="#2f86b8"/><rect x="119.2" y="139.4" width="3.6" height="3.6" fill="#2f86b8"/><rect x="121.3" y="139.4" width="3.6" height="3.6" fill="#2f86b8"/><rect x="123.4" y="139.4" width="3.6" height="3.6" fill="#2f86b8"/><rect x="125.5" y="139.4" width="3.6" height="3.6" fill="#2f86b8"/><rect x="127.6" y="139.4" width="3.6" height="3.6" fill="#2f86b8"/><rect x="129.7" y="139.4" width="3.6" height="3.6" fill="#2f86b8"/><rect x="131.8" y="139.4" width="3.6" height="3.6" fill="#2f86b8"/><rect x="119.2" y="141.5" width="3.6" height="3.6" fill="#2f86b8"/><rect x="121.3" y="141.5" width="3.6" height="3.6" fill="#2f86b8"/><rect x="123.4" y="141.5" width="3.6" height="3.6" fill="#2f86b8"/><rect x="125.5" y="141.5" width="3.6" height="3.6" fill="#2f86b8"/><rect x="127.6" y="141.5" width="3.6" height="3.6" fill="#2f86b8"/><rect x="129.7" y="141.5" width="3.6" height="3.6" fill="#2f86b8"/><rect x="131.8" y="141.5" width="3.6" height="3.6" fill="#2f86b8"/><rect x="119.2" y="143.6" width="3.6" height="3.6" fill="#2f86b8"/><rect x="121.3" y="143.6" width="3.6" height="3.6" fill="#2f86b8"/><rect x="123.4" y="143.6" width="3.6" height="3.6" fill="#2f86b8"/><rect x="125.5" y="143.6" width="3.6" height="3.6" fill="#2f86b8"/><rect x="127.6" y="143.6" width="3.6" height="3.6" fill="#2f86b8"/><rect x="129.7" y="143.6" width="3.6" height="3.6" fill="#2f86b8"/><rect x="131.8" y="143.6" width="3.6" height="3.6" fill="#2f86b8"/><rect x="121.3" y="145.7" width="3.6" height="3.6" fill="#2f86b8"/><rect x="123.4" y="145.7" width="3.6" height="3.6" fill="#2f86b8"/><rect x="125.5" y="145.7" width="3.6" height="3.6" fill="#2f86b8"/><rect x="127.6" y="145.7" width="3.6" height="3.6" fill="#2f86b8"/><rect x="129.7" y="145.7" width="3.6" height="3.6" fill="#2f86b8"/><rect x="131.8" y="145.7" width="3.6" height="3.6" fill="#2f86b8"/><rect x="121.3" y="147.8" width="3.6" height="3.6" fill="#2f86b8"/><rect x="123.4" y="147.8" width="3.6" height="3.6" fill="#2f86b8"/><rect x="125.5" y="147.8" width="3.6" height="3.6" fill="#2f86b8"/><rect x="127.6" y="147.8" width="3.6" height="3.6" fill="#2f86b8"/><rect x="129.7" y="147.8" width="3.6" height="3.6" fill="#2f86b8"/><rect x="121.3" y="149.9" width="3.6" height="3.6" fill="#2f86b8"/><rect x="123.4" y="149.9" width="3.6" height="3.6" fill="#2f86b8"/><rect x="125.5" y="149.9" width="3.6" height="3.6" fill="#2f86b8"/><rect x="127.6" y="149.9" width="3.6" height="3.6" fill="#2f86b8"/><rect x="123.4" y="152" width="3.6" height="3.6" fill="#2f86b8"/><rect x="125.5" y="152" width="3.6" height="3.6" fill="#2f86b8"/><rect x="113.5" y="121.1" width="2.4" height="2.4" fill="#ffa400"/><rect x="115.6" y="121.1" width="2.4" height="2.4" fill="#ffa400"/><rect x="117.7" y="121.1" width="2.4" height="2.4" fill="#ff7c00"/><rect x="119.8" y="121.1" width="2.4" height="2.4" fill="#ff7c00"/><rect x="113.5" y="123.2" width="2.4" height="2.4" fill="#ffa400"/><rect x="115.6" y="123.2" width="2.4" height="2.4" fill="#ffee20"/><rect x="117.7" y="123.2" width="2.4" height="2.4" fill="#ffa400"/><rect x="119.8" y="123.2" width="2.4" height="2.4" fill="#ffa400"/><rect x="121.9" y="123.2" width="2.4" height="2.4" fill="#ff7c00"/><rect x="113.5" y="125.3" width="2.4" height="2.4" fill="#ffa400"/><rect x="115.6" y="125.3" width="2.4" height="2.4" fill="#ffee20"/><rect x="117.7" y="125.3" width="2.4" height="2.4" fill="#ffee20"/><rect x="119.8" y="125.3" width="2.4" height="2.4" fill="#ffa400"/><rect x="121.9" y="125.3" width="2.4" height="2.4" fill="#ff7c00"/><rect x="124" y="125.3" width="2.4" height="2.4" fill="#ff7c00"/><rect x="126.1" y="125.3" width="2.4" height="2.4" fill="#ff7c00"/><rect x="113.5" y="127.4" width="2.4" height="2.4" fill="#ffa400"/><rect x="115.6" y="127.4" width="2.4" height="2.4" fill="#ffee20"/><rect x="117.7" y="127.4" width="2.4" height="2.4" fill="#ffee20"/><rect x="119.8" y="127.4" width="2.4" height="2.4" fill="#ffee20"/><rect x="121.9" y="127.4" width="2.4" height="2.4" fill="#ffa400"/><rect x="124" y="127.4" width="2.4" height="2.4" fill="#ff7c00"/><rect x="126.1" y="127.4" width="2.4" height="2.4" fill="#ff7c00"/><rect x="115.6" y="129.5" width="2.4" height="2.4" fill="#ffa400"/><rect x="117.7" y="129.5" width="2.4" height="2.4" fill="#ffee20"/><rect x="119.8" y="129.5" width="2.4" height="2.4" fill="#ffee20"/><rect x="121.9" y="129.5" width="2.4" height="2.4" fill="#ffee20"/><rect x="124" y="129.5" width="2.4" height="2.4" fill="#ffa400"/><rect x="126.1" y="129.5" width="2.4" height="2.4" fill="#ff7c00"/><rect x="115.6" y="131.6" width="2.4" height="2.4" fill="#ffa400"/><rect x="117.7" y="131.6" width="2.4" height="2.4" fill="#ffee20"/><rect x="119.8" y="131.6" width="2.4" height="2.4" fill="#ffee20"/><rect x="121.9" y="131.6" width="2.4" height="2.4" fill="#ffffd8"/><rect x="124" y="131.6" width="2.4" height="2.4" fill="#ffee20"/><rect x="126.1" y="131.6" width="2.4" height="2.4" fill="#ffa400"/><rect x="128.2" y="131.6" width="2.4" height="2.4" fill="#ff7c00"/><rect x="115.6" y="133.7" width="2.4" height="2.4" fill="#ff7c00"/><rect x="117.7" y="133.7" width="2.4" height="2.4" fill="#ffa400"/><rect x="119.8" y="133.7" width="2.4" height="2.4" fill="#ffee20"/><rect x="121.9" y="133.7" width="2.4" height="2.4" fill="#ffffd8"/><rect x="124" y="133.7" width="2.4" height="2.4" fill="#ffffd8"/><rect x="126.1" y="133.7" width="2.4" height="2.4" fill="#ffee20"/><rect x="128.2" y="133.7" width="2.4" height="2.4" fill="#ffa400"/><rect x="130.3" y="133.7" width="2.4" height="2.4" fill="#ff7c00"/><rect x="117.7" y="135.8" width="2.4" height="2.4" fill="#ffa400"/><rect x="119.8" y="135.8" width="2.4" height="2.4" fill="#ffee20"/><rect x="121.9" y="135.8" width="2.4" height="2.4" fill="#ffee20"/><rect x="124" y="135.8" width="2.4" height="2.4" fill="#ffffd8"/><rect x="126.1" y="135.8" width="2.4" height="2.4" fill="#ffffd8"/><rect x="128.2" y="135.8" width="2.4" height="2.4" fill="#ffee20"/><rect x="130.3" y="135.8" width="2.4" height="2.4" fill="#ffa400"/><rect x="132.4" y="135.8" width="2.4" height="2.4" fill="#ff7c00"/><rect x="117.7" y="137.9" width="2.4" height="2.4" fill="#ff7c00"/><rect x="119.8" y="137.9" width="2.4" height="2.4" fill="#ffa400"/><rect x="121.9" y="137.9" width="2.4" height="2.4" fill="#ffee20"/><rect x="124" y="137.9" width="2.4" height="2.4" fill="#ffffd8"/><rect x="126.1" y="137.9" width="2.4" height="2.4" fill="#ffffd8"/><rect x="128.2" y="137.9" width="2.4" height="2.4" fill="#ffee20"/><rect x="130.3" y="137.9" width="2.4" height="2.4" fill="#ffa400"/><rect x="132.4" y="137.9" width="2.4" height="2.4" fill="#ff7c00"/><rect x="119.8" y="140" width="2.4" height="2.4" fill="#ffa400"/><rect x="121.9" y="140" width="2.4" height="2.4" fill="#ffee20"/><rect x="124" y="140" width="2.4" height="2.4" fill="#ffee20"/><rect x="126.1" y="140" width="2.4" height="2.4" fill="#ffffd8"/><rect x="128.2" y="140" width="2.4" height="2.4" fill="#ffee20"/><rect x="130.3" y="140" width="2.4" height="2.4" fill="#ffa400"/><rect x="132.4" y="140" width="2.4" height="2.4" fill="#ff7c00"/><rect x="119.8" y="142.1" width="2.4" height="2.4" fill="#ff7c00"/><rect x="121.9" y="142.1" width="2.4" height="2.4" fill="#ffa400"/><rect x="124" y="142.1" width="2.4" height="2.4" fill="#ffee20"/><rect x="126.1" y="142.1" width="2.4" height="2.4" fill="#ffee20"/><rect x="128.2" y="142.1" width="2.4" height="2.4" fill="#ffee20"/><rect x="130.3" y="142.1" width="2.4" height="2.4" fill="#ffa400"/><rect x="132.4" y="142.1" width="2.4" height="2.4" fill="#ff7c00"/><rect x="119.8" y="144.2" width="2.4" height="2.4" fill="#ff7c00"/><rect x="121.9" y="144.2" width="2.4" height="2.4" fill="#ffa400"/><rect x="124" y="144.2" width="2.4" height="2.4" fill="#ffee20"/><rect x="126.1" y="144.2" width="2.4" height="2.4" fill="#ffee20"/><rect x="128.2" y="144.2" width="2.4" height="2.4" fill="#ffee20"/><rect x="130.3" y="144.2" width="2.4" height="2.4" fill="#ffa400"/><rect x="132.4" y="144.2" width="2.4" height="2.4" fill="#ff7c00"/><rect x="121.9" y="146.3" width="2.4" height="2.4" fill="#ffa400"/><rect x="124" y="146.3" width="2.4" height="2.4" fill="#ffee20"/><rect x="126.1" y="146.3" width="2.4" height="2.4" fill="#ffee20"/><rect x="128.2" y="146.3" width="2.4" height="2.4" fill="#ffa400"/><rect x="130.3" y="146.3" width="2.4" height="2.4" fill="#ffa400"/><rect x="132.4" y="146.3" width="2.4" height="2.4" fill="#ff7c00"/><rect x="121.9" y="148.4" width="2.4" height="2.4" fill="#ff7c00"/><rect x="124" y="148.4" width="2.4" height="2.4" fill="#ffee20"/><rect x="126.1" y="148.4" width="2.4" height="2.4" fill="#ffee20"/><rect x="128.2" y="148.4" width="2.4" height="2.4" fill="#ffa400"/><rect x="130.3" y="148.4" width="2.4" height="2.4" fill="#ff7c00"/><rect x="121.9" y="150.5" width="2.4" height="2.4" fill="#ff7c00"/><rect x="124" y="150.5" width="2.4" height="2.4" fill="#ffa400"/><rect x="126.1" y="150.5" width="2.4" height="2.4" fill="#ffa400"/><rect x="128.2" y="150.5" width="2.4" height="2.4" fill="#ff7c00"/><rect x="124" y="152.6" width="2.4" height="2.4" fill="#ff7c00"/><rect x="126.1" y="152.6" width="2.4" height="2.4" fill="#ff7c00"/>

</g>
<g transform="translate(440.2 60) scale(0.9958 1.0036)">
<rect x="0" y="0" width="177" height="211" fill="#000"/>
<g filter="url(#soft)">
<path d="M89.8 6.5 L93 6.5 L96.2 6.7 L99.4 7 L102.6 7.4 L105.8 7.9 L108.9 8.7 L112.1 9.5 L115.3 10.6 L118.4 11.8 L121.5 13.2 L124.6 14.8 L127.6 16.6 L130.6 18.5 L133.5 20.7 L136.3 23 L139.1 25.5 L141.7 28.1 L144.3 31 L146.8 34 L149.2 37.2 L151.5 40.5 L153.7 44 L155.7 47.6 L157.6 51.3 L159.4 55.2 L161.1 59.1 L162.6 63.2 L164 67.3 L165.3 71.5 L166.4 75.8 L167.4 80.1 L168.3 84.5 L169.1 88.8 L169.7 93.3 L170.2 97.7 L170.6 102.2 L170.9 106.6 L171.1 111.1 L171.2 115.5 L171.2 120 L171.2 123.3 L171.2 126.6 L171.1 129.9 L170.9 133.2 L170.6 136.5 L170.3 139.8 L169.8 143.2 L169.2 146.5 L168.5 149.8 L167.7 153.1 L166.7 156.4 L165.6 159.7 L164.4 162.9 L162.9 166 L161.4 169.1 L159.6 172.1 L157.8 175 L155.7 177.8 L153.5 180.5 L151.2 183 L148.7 185.4 L146.1 187.7 L143.4 189.8 L140.5 191.7 L137.6 193.5 L134.6 195.1 L131.5 196.5 L128.4 197.8 L125.2 199 L122 200 L118.8 200.8 L115.6 201.5 L112.3 202.1 L109.1 202.6 L105.8 203 L102.6 203.2 L99.4 203.4 L96.2 203.5 L93 203.6 L89.8 203.6 L86.5 203.6 L83.3 203.5 L80.1 203.4 L76.9 203.2 L73.7 203 L70.4 202.6 L67.2 202.1 L63.9 201.5 L60.7 200.8 L57.5 200 L54.3 199 L51.1 197.8 L48 196.5 L44.9 195.1 L41.9 193.5 L39 191.7 L36.1 189.8 L33.4 187.7 L30.8 185.4 L28.3 183 L26 180.5 L23.8 177.8 L21.7 175 L19.9 172.1 L18.1 169.1 L16.6 166 L15.1 162.9 L13.9 159.7 L12.8 156.4 L11.8 153.1 L11 149.8 L10.3 146.5 L9.7 143.2 L9.2 139.8 L8.9 136.5 L8.6 133.2 L8.4 129.9 L8.3 126.6 L8.3 123.3 L8.2 120 L8.3 115.5 L8.4 111.1 L8.6 106.6 L8.9 102.2 L9.3 97.7 L9.8 93.3 L10.4 88.8 L11.2 84.5 L12.1 80.1 L13.1 75.8 L14.2 71.5 L15.5 67.3 L16.9 63.2 L18.4 59.1 L20.1 55.2 L21.9 51.3 L23.8 47.6 L25.8 44 L28 40.5 L30.3 37.2 L32.7 34 L35.2 31 L37.8 28.1 L40.4 25.5 L43.2 23 L46 20.7 L48.9 18.5 L51.9 16.6 L54.9 14.8 L58 13.2 L61.1 11.8 L64.2 10.6 L67.4 9.5 L70.6 8.7 L73.7 7.9 L76.9 7.4 L80.1 7 L83.3 6.7 L86.5 6.5Z" fill="#545454" stroke="#bcbcbc" stroke-width="1.3"/>
<path d="M89.8 11.7 L92.7 11.7 L95.6 11.9 L98.5 12.1 L101.4 12.5 L104.3 13.1 L107.2 13.8 L110 14.6 L112.9 15.6 L115.7 16.8 L118.5 18.1 L121.3 19.6 L124.1 21.3 L126.8 23.2 L129.4 25.2 L132 27.4 L134.5 29.8 L136.9 32.3 L139.3 35.1 L141.5 37.9 L143.7 41 L145.7 44.1 L147.7 47.5 L149.6 50.9 L151.3 54.5 L152.9 58.1 L154.4 61.9 L155.8 65.8 L157.1 69.7 L158.2 73.7 L159.3 77.8 L160.2 81.9 L161 86.1 L161.7 90.3 L162.2 94.5 L162.7 98.7 L163.1 103 L163.3 107.2 L163.5 111.5 L163.6 115.7 L163.7 120 L163.6 123.1 L163.6 126.2 L163.5 129.3 L163.3 132.4 L163.1 135.6 L162.8 138.7 L162.3 141.8 L161.8 145 L161.2 148.1 L160.4 151.2 L159.6 154.3 L158.5 157.4 L157.4 160.4 L156.1 163.4 L154.7 166.3 L153.1 169.1 L151.4 171.8 L149.6 174.5 L147.6 177 L145.4 179.4 L143.2 181.6 L140.8 183.8 L138.4 185.7 L135.8 187.6 L133.1 189.2 L130.4 190.8 L127.6 192.1 L124.8 193.4 L121.9 194.4 L119 195.4 L116.1 196.2 L113.2 196.8 L110.2 197.4 L107.3 197.8 L104.3 198.2 L101.4 198.5 L98.5 198.6 L95.6 198.7 L92.7 198.8 L89.8 198.8 L86.8 198.8 L83.9 198.7 L81 198.6 L78.1 198.5 L75.2 198.2 L72.2 197.8 L69.3 197.4 L66.3 196.8 L63.4 196.2 L60.5 195.4 L57.6 194.4 L54.7 193.4 L51.9 192.1 L49.1 190.8 L46.4 189.2 L43.7 187.6 L41.1 185.7 L38.7 183.8 L36.3 181.6 L34.1 179.4 L31.9 177 L29.9 174.5 L28.1 171.8 L26.4 169.1 L24.8 166.3 L23.4 163.4 L22.1 160.4 L21 157.4 L19.9 154.3 L19.1 151.2 L18.3 148.1 L17.7 145 L17.2 141.8 L16.7 138.7 L16.4 135.6 L16.2 132.4 L16 129.3 L15.9 126.2 L15.9 123.1 L15.8 120 L15.9 115.7 L16 111.5 L16.2 107.2 L16.4 103 L16.8 98.7 L17.3 94.5 L17.8 90.3 L18.5 86.1 L19.3 81.9 L20.2 77.8 L21.3 73.7 L22.4 69.7 L23.7 65.8 L25.1 61.9 L26.6 58.1 L28.2 54.5 L29.9 50.9 L31.8 47.5 L33.8 44.1 L35.8 41 L38 37.9 L40.2 35.1 L42.6 32.3 L45 29.8 L47.5 27.4 L50.1 25.2 L52.7 23.2 L55.4 21.3 L58.2 19.6 L61 18.1 L63.8 16.8 L66.6 15.6 L69.5 14.6 L72.3 13.8 L75.2 13.1 L78.1 12.5 L81 12.1 L83.9 11.9 L86.8 11.7Z" fill="#060606" stroke="#cacaca" stroke-width="1.4"/>

<clipPath id="bc3"><path d="M89.8 22 L92.4 22 L95.1 22.1 L97.8 22.3 L100.5 22.6 L103.2 23.1 L105.9 23.6 L108.6 24.3 L111.3 25.2 L114 26.2 L116.6 27.3 L119.3 28.7 L121.9 30.2 L124.4 31.9 L126.9 33.7 L129.3 35.8 L131.7 38 L134 40.4 L136.3 42.9 L138.4 45.7 L140.4 48.5 L142.4 51.6 L144.2 54.8 L145.9 58.1 L147.5 61.5 L149 65 L150.4 68.7 L151.6 72.4 L152.8 76.2 L153.8 80.1 L154.7 84 L155.4 87.9 L156.1 91.9 L156.7 95.9 L157.2 99.9 L157.5 103.9 L157.8 107.9 L158 112 L158.2 116 L158.2 120 L158.2 124 L158.2 126.6 L158.2 129.3 L158.1 131.9 L158 134.6 L157.9 137.3 L157.6 139.9 L157.3 142.6 L156.9 145.3 L156.4 148 L155.8 150.7 L155 153.4 L154.2 156.1 L153.2 158.7 L152 161.3 L150.8 163.9 L149.4 166.4 L147.8 168.7 L146.1 171 L144.2 173.2 L142.2 175.3 L140.1 177.3 L137.9 179.1 L135.5 180.8 L133.1 182.3 L130.5 183.7 L127.9 184.9 L125.3 186 L122.6 187 L119.8 187.8 L117.1 188.6 L114.3 189.2 L111.6 189.7 L108.8 190.1 L106 190.4 L103.3 190.6 L100.6 190.8 L97.8 190.9 L95.1 191 L92.4 191 L89.8 191 L87.1 191 L84.4 191 L81.7 190.9 L78.9 190.8 L76.2 190.6 L73.5 190.4 L70.7 190.1 L67.9 189.7 L65.2 189.2 L62.4 188.6 L59.7 187.8 L56.9 187 L54.2 186 L51.6 184.9 L49 183.7 L46.4 182.3 L44 180.8 L41.6 179.1 L39.4 177.3 L37.3 175.3 L35.3 173.2 L33.4 171 L31.7 168.7 L30.1 166.4 L28.7 163.9 L27.5 161.3 L26.3 158.7 L25.3 156.1 L24.5 153.4 L23.7 150.7 L23.1 148 L22.6 145.3 L22.2 142.6 L21.9 139.9 L21.6 137.3 L21.5 134.6 L21.4 131.9 L21.3 129.3 L21.3 126.6 L21.2 124 L21.3 120 L21.3 116 L21.5 112 L21.7 107.9 L22 103.9 L22.3 99.9 L22.8 95.9 L23.4 91.9 L24.1 87.9 L24.8 84 L25.7 80.1 L26.7 76.2 L27.9 72.4 L29.1 68.7 L30.5 65 L32 61.5 L33.6 58.1 L35.3 54.8 L37.1 51.6 L39.1 48.5 L41.1 45.7 L43.2 42.9 L45.5 40.4 L47.8 38 L50.2 35.8 L52.6 33.7 L55.1 31.9 L57.6 30.2 L60.2 28.7 L62.9 27.3 L65.5 26.2 L68.2 25.2 L70.9 24.3 L73.6 23.6 L76.3 23.1 L79 22.6 L81.7 22.3 L84.4 22.1 L87.1 22Z"/></clipPath>
<g clip-path="url(#bc3)">
<path d="M89.8 22 L92.4 22 L95.1 22.1 L97.8 22.3 L100.5 22.6 L103.2 23.1 L105.9 23.6 L108.6 24.3 L111.3 25.2 L114 26.2 L116.6 27.3 L119.3 28.7 L121.9 30.2 L124.4 31.9 L126.9 33.7 L129.3 35.8 L131.7 38 L134 40.4 L136.3 42.9 L138.4 45.7 L140.4 48.5 L142.4 51.6 L144.2 54.8 L145.9 58.1 L147.5 61.5 L149 65 L150.4 68.7 L151.6 72.4 L152.8 76.2 L153.8 80.1 L154.7 84 L155.4 87.9 L156.1 91.9 L156.7 95.9 L157.2 99.9 L157.5 103.9 L157.8 107.9 L158 112 L158.2 116 L158.2 120 L158.2 124 L158.2 126.6 L158.2 129.3 L158.1 131.9 L158 134.6 L157.9 137.3 L157.6 139.9 L157.3 142.6 L156.9 145.3 L156.4 148 L155.8 150.7 L155 153.4 L154.2 156.1 L153.2 158.7 L152 161.3 L150.8 163.9 L149.4 166.4 L147.8 168.7 L146.1 171 L144.2 173.2 L142.2 175.3 L140.1 177.3 L137.9 179.1 L135.5 180.8 L133.1 182.3 L130.5 183.7 L127.9 184.9 L125.3 186 L122.6 187 L119.8 187.8 L117.1 188.6 L114.3 189.2 L111.6 189.7 L108.8 190.1 L106 190.4 L103.3 190.6 L100.6 190.8 L97.8 190.9 L95.1 191 L92.4 191 L89.8 191 L87.1 191 L84.4 191 L81.7 190.9 L78.9 190.8 L76.2 190.6 L73.5 190.4 L70.7 190.1 L67.9 189.7 L65.2 189.2 L62.4 188.6 L59.7 187.8 L56.9 187 L54.2 186 L51.6 184.9 L49 183.7 L46.4 182.3 L44 180.8 L41.6 179.1 L39.4 177.3 L37.3 175.3 L35.3 173.2 L33.4 171 L31.7 168.7 L30.1 166.4 L28.7 163.9 L27.5 161.3 L26.3 158.7 L25.3 156.1 L24.5 153.4 L23.7 150.7 L23.1 148 L22.6 145.3 L22.2 142.6 L21.9 139.9 L21.6 137.3 L21.5 134.6 L21.4 131.9 L21.3 129.3 L21.3 126.6 L21.2 124 L21.3 120 L21.3 116 L21.5 112 L21.7 107.9 L22 103.9 L22.3 99.9 L22.8 95.9 L23.4 91.9 L24.1 87.9 L24.8 84 L25.7 80.1 L26.7 76.2 L27.9 72.4 L29.1 68.7 L30.5 65 L32 61.5 L33.6 58.1 L35.3 54.8 L37.1 51.6 L39.1 48.5 L41.1 45.7 L43.2 42.9 L45.5 40.4 L47.8 38 L50.2 35.8 L52.6 33.7 L55.1 31.9 L57.6 30.2 L60.2 28.7 L62.9 27.3 L65.5 26.2 L68.2 25.2 L70.9 24.3 L73.6 23.6 L76.3 23.1 L79 22.6 L81.7 22.3 L84.4 22.1 L87.1 22Z" fill="#b2b2b2"/>

<path d="M89.8 22 L92.4 22 L95.1 22.1 L97.8 22.3 L100.5 22.6 L103.2 23.1 L105.9 23.6 L108.6 24.3 L111.3 25.2 L114 26.2 L116.6 27.3 L119.3 28.7 L121.9 30.2 L124.4 31.9 L126.9 33.7 L129.3 35.8 L131.7 38 L134 40.4 L136.3 42.9 L138.4 45.7 L140.4 48.5 L142.4 51.6 L144.2 54.8 L145.9 58.1 L147.5 61.5 L149 65 L150.4 68.7 L151.6 72.4 L152.8 76.2 L153.8 80.1 L154.7 84 L155.4 87.9 L156.1 91.9 L156.7 95.9 L157.2 99.9 L157.5 103.9 L157.8 107.9 L158 112 L158.2 116 L158.2 120 L158.2 124 L158.2 126.6 L158.2 129.3 L158.1 131.9 L158 134.6 L157.9 137.3 L157.6 139.9 L157.3 142.6 L156.9 145.3 L156.4 148 L155.8 150.7 L155 153.4 L154.2 156.1 L153.2 158.7 L152 161.3 L150.8 163.9 L149.4 166.4 L147.8 168.7 L146.1 171 L144.2 173.2 L142.2 175.3 L140.1 177.3 L137.9 179.1 L135.5 180.8 L133.1 182.3 L130.5 183.7 L127.9 184.9 L125.3 186 L122.6 187 L119.8 187.8 L117.1 188.6 L114.3 189.2 L111.6 189.7 L108.8 190.1 L106 190.4 L103.3 190.6 L100.6 190.8 L97.8 190.9 L95.1 191 L92.4 191 L89.8 191 L87.1 191 L84.4 191 L81.7 190.9 L78.9 190.8 L76.2 190.6 L73.5 190.4 L70.7 190.1 L67.9 189.7 L65.2 189.2 L62.4 188.6 L59.7 187.8 L56.9 187 L54.2 186 L51.6 184.9 L49 183.7 L46.4 182.3 L44 180.8 L41.6 179.1 L39.4 177.3 L37.3 175.3 L35.3 173.2 L33.4 171 L31.7 168.7 L30.1 166.4 L28.7 163.9 L27.5 161.3 L26.3 158.7 L25.3 156.1 L24.5 153.4 L23.7 150.7 L23.1 148 L22.6 145.3 L22.2 142.6 L21.9 139.9 L21.6 137.3 L21.5 134.6 L21.4 131.9 L21.3 129.3 L21.3 126.6 L21.2 124 L21.3 120 L21.3 116 L21.5 112 L21.7 107.9 L22 103.9 L22.3 99.9 L22.8 95.9 L23.4 91.9 L24.1 87.9 L24.8 84 L25.7 80.1 L26.7 76.2 L27.9 72.4 L29.1 68.7 L30.5 65 L32 61.5 L33.6 58.1 L35.3 54.8 L37.1 51.6 L39.1 48.5 L41.1 45.7 L43.2 42.9 L45.5 40.4 L47.8 38 L50.2 35.8 L52.6 33.7 L55.1 31.9 L57.6 30.2 L60.2 28.7 L62.9 27.3 L65.5 26.2 L68.2 25.2 L70.9 24.3 L73.6 23.6 L76.3 23.1 L79 22.6 L81.7 22.3 L84.4 22.1 L87.1 22Z" fill="none" stroke="#787878" stroke-width="8"/>
<path d="M90.6 22 Q87.1 27.6 84.6 32.6 Q81.6 38.8 78.7 43.2 M103.2 23.1 Q98.3 25.8 97.1 30 Q97.3 35.4 94.5 38.9 M98 32.6 Q94 31.7 90 33.1 M117.5 27.8 Q118.6 30.7 118.5 33.3 Q120.2 35.9 119.5 38.7 M130.1 36.5 Q125 37.7 119.3 40.1 Q113.9 43.1 108.1 42.1 M118.6 39.4 Q117 41.7 115.2 44.2 M135.5 42.1 Q131.6 46.9 130.4 48.8 Q127.5 50.6 122.7 52.3 M127.1 48.8 Q123.2 47.6 119.6 47.4 M147.5 61.5 Q148.6 65 145.8 69 Q145.6 73 144.5 76.6 M145.3 72.7 Q141.9 76.2 139.1 79.1 M153.8 80.1 Q148.9 80.1 142.9 78.5 Q137.3 77.4 132.8 74.3 M156.3 93.2 Q150.1 93.4 145.3 96.7 Q139.4 97.2 134.6 101.2 M158.2 118.7 Q152.1 118 145.8 114 Q139.6 114.2 133 110.6 M144.1 114.1 Q141.4 116 138.7 119.4 M158.2 130.2 Q154.3 131.5 151.1 130 Q147.8 130.6 145.1 133.7 M147.9 133 Q145.5 135.2 143.8 137 M156.5 147.1 Q150.9 142.1 146.9 138.2 Q141.5 132 139.1 127.6 M151.6 162.2 Q149.6 159.8 144.8 155.2 Q140.9 152.3 137.1 149 M144.3 155.5 Q139.8 155.8 135.2 155.2 M144.8 172.5 Q141.3 167.2 141.6 160.9 Q141.2 155.6 138.7 149.3 M135.5 180.8 Q135.2 176.9 136.1 173.3 Q135.1 169.6 134.1 166.2 M124.4 186.4 Q121.8 180.5 120.6 175.7 Q118.2 170.1 116.9 165.1 M119.7 173.1 Q120.5 169 121.8 165.3 M107 190.3 Q103.8 184.5 103.7 177.6 Q101.2 172.2 98.8 165.5 M102.4 176.4 Q97.9 173.7 94.6 171.3 M98.8 190.9 Q99.4 185.2 103.5 179.3 Q107.4 174.1 109.2 168.2 M84.4 191 Q84.7 184.5 84.8 178 Q85.1 171.5 84.1 165.1 M72.5 190.3 Q76.8 185.8 80.9 182.2 Q84.8 176.4 87.6 172.7 M83.4 177.6 Q87.5 177.1 91.7 178.9 M56.9 187 Q58.9 186 62.1 182.1 Q64.5 178.5 66.9 176.8 M44.8 181.3 Q43.9 178 46.3 175 Q46.8 171.9 46.8 168.5 M46.4 171.3 Q49.3 169.2 51.1 167.9 M32.9 170.3 Q35.1 168.3 38 166.3 Q40.7 165.5 44.2 164.6 M27.9 162.2 Q28.1 157.4 28.3 153.2 Q29.9 149.1 30.6 144.5 M22.8 146.2 Q28.2 145.2 32.3 144.4 Q36.5 144.5 41.3 140.5 M21.4 131.9 Q25.5 132.6 28.7 129.2 Q32.4 129.1 36.2 126.6 M32.8 127.8 Q36 130.7 38 133.2 M21.3 122.7 Q25.1 124.2 29.2 126.7 Q34.1 126.1 37.7 129.2 M33 127.3 Q33.1 131.8 33.6 136.3 M22.2 101.2 Q24.7 103.6 27.1 105.8 Q30 108.6 33.3 108.1 M28.8 105.3 Q32.5 104.2 36.4 103.5 M25.1 82.7 Q30.2 85.3 35.2 84 Q40.1 85 45.1 81.9 M36.7 82.2 Q38.3 84.9 40.5 87.7 M31 63.9 Q35.1 65.1 39 64.4 Q43.2 64 46.9 65.6 M41.8 44.7 Q45.5 45.4 47.4 48.9 Q51 50.7 52.3 53.8 M46.6 48.9 Q46.2 51 48.1 53.8 M51.8 34.4 Q54.9 37.6 58.7 42.8 Q61.8 46.4 64.1 52.3 M62 27.8 Q61.4 31.4 62.5 34.9 Q62 38.5 61.3 42 M77.2 22.9 Q79.5 29.3 80.7 35 Q84.3 41.7 83.7 47.2 M81.6 39.2 Q78.9 40.5 75.2 42.9" fill="none" stroke="#787878" stroke-width="8.0" stroke-linecap="round" stroke-linejoin="round"/><path d="M90.6 22 Q87.1 27.6 84.6 32.6 Q81.6 38.8 78.7 43.2 M103.2 23.1 Q98.3 25.8 97.1 30 Q97.3 35.4 94.5 38.9 M98 32.6 Q94 31.7 90 33.1 M117.5 27.8 Q118.6 30.7 118.5 33.3 Q120.2 35.9 119.5 38.7 M130.1 36.5 Q125 37.7 119.3 40.1 Q113.9 43.1 108.1 42.1 M118.6 39.4 Q117 41.7 115.2 44.2 M135.5 42.1 Q131.6 46.9 130.4 48.8 Q127.5 50.6 122.7 52.3 M127.1 48.8 Q123.2 47.6 119.6 47.4 M147.5 61.5 Q148.6 65 145.8 69 Q145.6 73 144.5 76.6 M145.3 72.7 Q141.9 76.2 139.1 79.1 M153.8 80.1 Q148.9 80.1 142.9 78.5 Q137.3 77.4 132.8 74.3 M156.3 93.2 Q150.1 93.4 145.3 96.7 Q139.4 97.2 134.6 101.2 M158.2 118.7 Q152.1 118 145.8 114 Q139.6 114.2 133 110.6 M144.1 114.1 Q141.4 116 138.7 119.4 M158.2 130.2 Q154.3 131.5 151.1 130 Q147.8 130.6 145.1 133.7 M147.9 133 Q145.5 135.2 143.8 137 M156.5 147.1 Q150.9 142.1 146.9 138.2 Q141.5 132 139.1 127.6 M151.6 162.2 Q149.6 159.8 144.8 155.2 Q140.9 152.3 137.1 149 M144.3 155.5 Q139.8 155.8 135.2 155.2 M144.8 172.5 Q141.3 167.2 141.6 160.9 Q141.2 155.6 138.7 149.3 M135.5 180.8 Q135.2 176.9 136.1 173.3 Q135.1 169.6 134.1 166.2 M124.4 186.4 Q121.8 180.5 120.6 175.7 Q118.2 170.1 116.9 165.1 M119.7 173.1 Q120.5 169 121.8 165.3 M107 190.3 Q103.8 184.5 103.7 177.6 Q101.2 172.2 98.8 165.5 M102.4 176.4 Q97.9 173.7 94.6 171.3 M98.8 190.9 Q99.4 185.2 103.5 179.3 Q107.4 174.1 109.2 168.2 M84.4 191 Q84.7 184.5 84.8 178 Q85.1 171.5 84.1 165.1 M72.5 190.3 Q76.8 185.8 80.9 182.2 Q84.8 176.4 87.6 172.7 M83.4 177.6 Q87.5 177.1 91.7 178.9 M56.9 187 Q58.9 186 62.1 182.1 Q64.5 178.5 66.9 176.8 M44.8 181.3 Q43.9 178 46.3 175 Q46.8 171.9 46.8 168.5 M46.4 171.3 Q49.3 169.2 51.1 167.9 M32.9 170.3 Q35.1 168.3 38 166.3 Q40.7 165.5 44.2 164.6 M27.9 162.2 Q28.1 157.4 28.3 153.2 Q29.9 149.1 30.6 144.5 M22.8 146.2 Q28.2 145.2 32.3 144.4 Q36.5 144.5 41.3 140.5 M21.4 131.9 Q25.5 132.6 28.7 129.2 Q32.4 129.1 36.2 126.6 M32.8 127.8 Q36 130.7 38 133.2 M21.3 122.7 Q25.1 124.2 29.2 126.7 Q34.1 126.1 37.7 129.2 M33 127.3 Q33.1 131.8 33.6 136.3 M22.2 101.2 Q24.7 103.6 27.1 105.8 Q30 108.6 33.3 108.1 M28.8 105.3 Q32.5 104.2 36.4 103.5 M25.1 82.7 Q30.2 85.3 35.2 84 Q40.1 85 45.1 81.9 M36.7 82.2 Q38.3 84.9 40.5 87.7 M31 63.9 Q35.1 65.1 39 64.4 Q43.2 64 46.9 65.6 M41.8 44.7 Q45.5 45.4 47.4 48.9 Q51 50.7 52.3 53.8 M46.6 48.9 Q46.2 51 48.1 53.8 M51.8 34.4 Q54.9 37.6 58.7 42.8 Q61.8 46.4 64.1 52.3 M62 27.8 Q61.4 31.4 62.5 34.9 Q62 38.5 61.3 42 M77.2 22.9 Q79.5 29.3 80.7 35 Q84.3 41.7 83.7 47.2 M81.6 39.2 Q78.9 40.5 75.2 42.9" fill="none" stroke="#3c3c3c" stroke-width="1.7" stroke-linecap="round" stroke-linejoin="round"/>
<path d="M89.8 20 L89.8 90" fill="none" stroke="#7c7c7c" stroke-width="6" stroke-linecap="round" stroke-linejoin="round"/><path d="M89.8 160 L89.8 192" fill="none" stroke="#7c7c7c" stroke-width="6" stroke-linecap="round" stroke-linejoin="round"/><path d="M89.8 20 L89.8 90" fill="none" stroke="#383838" stroke-width="1.4" stroke-linecap="round" stroke-linejoin="round"/><path d="M89.8 160 L89.8 192" fill="none" stroke="#383838" stroke-width="1.4" stroke-linecap="round" stroke-linejoin="round"/><ellipse cx="85.8" cy="40" rx="6" ry="9" fill="#808080"/><ellipse cx="94.8" cy="54" rx="6" ry="10" fill="#828282"/><path d="M37.8 68 Q47.8 84 53.8 104" fill="none" stroke="#787878" stroke-width="9" stroke-linecap="round" stroke-linejoin="round"/><path d="M37.8 68 Q47.8 84 53.8 104" fill="none" stroke="#383838" stroke-width="1.6" stroke-linecap="round" stroke-linejoin="round"/><path d="M67.8 56 Q53.8 64 37.8 72" fill="none" stroke="#777777" stroke-width="8" stroke-linecap="round" stroke-linejoin="round"/><path d="M67.8 56 Q53.8 64 37.8 72" fill="none" stroke="#3e3e3e" stroke-width="1.5" stroke-linecap="round" stroke-linejoin="round"/><ellipse cx="75.8" cy="84" rx="12" ry="11" fill="#919191"/><ellipse cx="61.8" cy="114" rx="6.5" ry="8.5" fill="#a0a0a0" stroke="#5a5a5a" stroke-width="2" transform="rotate(-20 61.8 114)"/><path d="M56.8 100 Q50.8 110 55.8 126" fill="none" stroke="#454545" stroke-width="1.5" stroke-linecap="round" stroke-linejoin="round"/><path d="M141.8 68 Q131.8 84 125.8 104" fill="none" stroke="#787878" stroke-width="9" stroke-linecap="round" stroke-linejoin="round"/><path d="M141.8 68 Q131.8 84 125.8 104" fill="none" stroke="#383838" stroke-width="1.6" stroke-linecap="round" stroke-linejoin="round"/><path d="M111.8 56 Q125.8 64 141.8 72" fill="none" stroke="#777777" stroke-width="8" stroke-linecap="round" stroke-linejoin="round"/><path d="M111.8 56 Q125.8 64 141.8 72" fill="none" stroke="#3e3e3e" stroke-width="1.5" stroke-linecap="round" stroke-linejoin="round"/><ellipse cx="103.8" cy="84" rx="12" ry="11" fill="#919191"/><ellipse cx="117.8" cy="114" rx="6.5" ry="8.5" fill="#a0a0a0" stroke="#5a5a5a" stroke-width="2" transform="rotate(20 117.8 114)"/><path d="M122.8 100 Q128.8 110 123.8 126" fill="none" stroke="#454545" stroke-width="1.5" stroke-linecap="round" stroke-linejoin="round"/><path d="M80.8 93 Q70.8 89 67.8 97 Q69.8 110 79.8 120 L81.8 126 H97.8 L99.8 120 Q109.8 110 111.8 97 Q108.8 89 98.8 93 Q89.8 105 80.8 93Z" fill="#acacac" stroke="#484848" stroke-width="1.4"/><path d="M77.8 125 H101.8 L99.8 157 Q89.8 163 79.8 157Z" fill="#686868"/><path d="M78.8 130 q5 -3 10 0 t11 0 M79.2 136 q5 3 10 0 t10 0 M79.8 142 q4 -3 9 0 t10 0 M80.8 148 q4 3 9 0 t9 0 M81.8 154 q4 -3 8 0 t8 0" fill="none" stroke="#333" stroke-width="1.3" stroke-linecap="round" stroke-linejoin="round"/><path d="M77.8 127 v27 M101.8 127 v27" fill="none" stroke="#3e3e3e" stroke-width="1.2" stroke-linecap="round" stroke-linejoin="round"/><path d="M103.8 128 h11 v24 h-11Z" fill="#888"/>
<path d="M89.8 22 L92.4 22 L95.1 22.1 L97.8 22.3 L100.5 22.6 L103.2 23.1 L105.9 23.6 L108.6 24.3 L111.3 25.2 L114 26.2 L116.6 27.3 L119.3 28.7 L121.9 30.2 L124.4 31.9 L126.9 33.7 L129.3 35.8 L131.7 38 L134 40.4 L136.3 42.9 L138.4 45.7 L140.4 48.5 L142.4 51.6 L144.2 54.8 L145.9 58.1 L147.5 61.5 L149 65 L150.4 68.7 L151.6 72.4 L152.8 76.2 L153.8 80.1 L154.7 84 L155.4 87.9 L156.1 91.9 L156.7 95.9 L157.2 99.9 L157.5 103.9 L157.8 107.9 L158 112 L158.2 116 L158.2 120 L158.2 124 L158.2 126.6 L158.2 129.3 L158.1 131.9 L158 134.6 L157.9 137.3 L157.6 139.9 L157.3 142.6 L156.9 145.3 L156.4 148 L155.8 150.7 L155 153.4 L154.2 156.1 L153.2 158.7 L152 161.3 L150.8 163.9 L149.4 166.4 L147.8 168.7 L146.1 171 L144.2 173.2 L142.2 175.3 L140.1 177.3 L137.9 179.1 L135.5 180.8 L133.1 182.3 L130.5 183.7 L127.9 184.9 L125.3 186 L122.6 187 L119.8 187.8 L117.1 188.6 L114.3 189.2 L111.6 189.7 L108.8 190.1 L106 190.4 L103.3 190.6 L100.6 190.8 L97.8 190.9 L95.1 191 L92.4 191 L89.8 191 L87.1 191 L84.4 191 L81.7 190.9 L78.9 190.8 L76.2 190.6 L73.5 190.4 L70.7 190.1 L67.9 189.7 L65.2 189.2 L62.4 188.6 L59.7 187.8 L56.9 187 L54.2 186 L51.6 184.9 L49 183.7 L46.4 182.3 L44 180.8 L41.6 179.1 L39.4 177.3 L37.3 175.3 L35.3 173.2 L33.4 171 L31.7 168.7 L30.1 166.4 L28.7 163.9 L27.5 161.3 L26.3 158.7 L25.3 156.1 L24.5 153.4 L23.7 150.7 L23.1 148 L22.6 145.3 L22.2 142.6 L21.9 139.9 L21.6 137.3 L21.5 134.6 L21.4 131.9 L21.3 129.3 L21.3 126.6 L21.2 124 L21.3 120 L21.3 116 L21.5 112 L21.7 107.9 L22 103.9 L22.3 99.9 L22.8 95.9 L23.4 91.9 L24.1 87.9 L24.8 84 L25.7 80.1 L26.7 76.2 L27.9 72.4 L29.1 68.7 L30.5 65 L32 61.5 L33.6 58.1 L35.3 54.8 L37.1 51.6 L39.1 48.5 L41.1 45.7 L43.2 42.9 L45.5 40.4 L47.8 38 L50.2 35.8 L52.6 33.7 L55.1 31.9 L57.6 30.2 L60.2 28.7 L62.9 27.3 L65.5 26.2 L68.2 25.2 L70.9 24.3 L73.6 23.6 L76.3 23.1 L79 22.6 L81.7 22.3 L84.4 22.1 L87.1 22Z" fill="none" stroke="#2c2c2c" stroke-width="1.6"/>
</g>

</g>
<path d="M89.8 6.5 L93 6.5 L96.2 6.7 L99.4 7 L102.6 7.4 L105.8 7.9 L108.9 8.7 L112.1 9.5 L115.3 10.6 L118.4 11.8 L121.5 13.2 L124.6 14.8 L127.6 16.6 L130.6 18.5 L133.5 20.7 L136.3 23 L139.1 25.5 L141.7 28.1 L144.3 31 L146.8 34 L149.2 37.2 L151.5 40.5 L153.7 44 L155.7 47.6 L157.6 51.3 L159.4 55.2 L161.1 59.1 L162.6 63.2 L164 67.3 L165.3 71.5 L166.4 75.8 L167.4 80.1 L168.3 84.5 L169.1 88.8 L169.7 93.3 L170.2 97.7 L170.6 102.2 L170.9 106.6 L171.1 111.1 L171.2 115.5 L171.2 120 L171.2 123.3 L171.2 126.6 L171.1 129.9 L170.9 133.2 L170.6 136.5 L170.3 139.8 L169.8 143.2 L169.2 146.5 L168.5 149.8 L167.7 153.1 L166.7 156.4 L165.6 159.7 L164.4 162.9 L162.9 166 L161.4 169.1 L159.6 172.1 L157.8 175 L155.7 177.8 L153.5 180.5 L151.2 183 L148.7 185.4 L146.1 187.7 L143.4 189.8 L140.5 191.7 L137.6 193.5 L134.6 195.1 L131.5 196.5 L128.4 197.8 L125.2 199 L122 200 L118.8 200.8 L115.6 201.5 L112.3 202.1 L109.1 202.6 L105.8 203 L102.6 203.2 L99.4 203.4 L96.2 203.5 L93 203.6 L89.8 203.6 L86.5 203.6 L83.3 203.5 L80.1 203.4 L76.9 203.2 L73.7 203 L70.4 202.6 L67.2 202.1 L63.9 201.5 L60.7 200.8 L57.5 200 L54.3 199 L51.1 197.8 L48 196.5 L44.9 195.1 L41.9 193.5 L39 191.7 L36.1 189.8 L33.4 187.7 L30.8 185.4 L28.3 183 L26 180.5 L23.8 177.8 L21.7 175 L19.9 172.1 L18.1 169.1 L16.6 166 L15.1 162.9 L13.9 159.7 L12.8 156.4 L11.8 153.1 L11 149.8 L10.3 146.5 L9.7 143.2 L9.2 139.8 L8.9 136.5 L8.6 133.2 L8.4 129.9 L8.3 126.6 L8.3 123.3 L8.2 120 L8.3 115.5 L8.4 111.1 L8.6 106.6 L8.9 102.2 L9.3 97.7 L9.8 93.3 L10.4 88.8 L11.2 84.5 L12.1 80.1 L13.1 75.8 L14.2 71.5 L15.5 67.3 L16.9 63.2 L18.4 59.1 L20.1 55.2 L21.9 51.3 L23.8 47.6 L25.8 44 L28 40.5 L30.3 37.2 L32.7 34 L35.2 31 L37.8 28.1 L40.4 25.5 L43.2 23 L46 20.7 L48.9 18.5 L51.9 16.6 L54.9 14.8 L58 13.2 L61.1 11.8 L64.2 10.6 L67.4 9.5 L70.6 8.7 L73.7 7.9 L76.9 7.4 L80.1 7 L83.3 6.7 L86.5 6.5Z" fill="#808080" filter="url(#grain)" opacity="0.3" style="mix-blend-mode:overlay"/>
<rect x="52.5" y="126.3" width="3.6" height="3.6" fill="#3db2c8"/><rect x="54.5" y="126.3" width="3.6" height="3.6" fill="#3db2c8"/><rect x="56.5" y="126.3" width="3.6" height="3.6" fill="#3db2c8"/><rect x="58.5" y="126.3" width="3.6" height="3.6" fill="#3db2c8"/><rect x="50.5" y="128.3" width="3.6" height="3.6" fill="#3db2c8"/><rect x="52.5" y="128.3" width="3.6" height="3.6" fill="#3db2c8"/><rect x="54.5" y="128.3" width="3.6" height="3.6" fill="#3db2c8"/><rect x="56.5" y="128.3" width="3.6" height="3.6" fill="#3db2c8"/><rect x="58.5" y="128.3" width="3.6" height="3.6" fill="#3db2c8"/><rect x="60.5" y="128.3" width="3.6" height="3.6" fill="#3db2c8"/><rect x="48.5" y="130.3" width="3.6" height="3.6" fill="#3db2c8"/><rect x="50.5" y="130.3" width="3.6" height="3.6" fill="#3db2c8"/><rect x="52.5" y="130.3" width="3.6" height="3.6" fill="#3db2c8"/><rect x="54.5" y="130.3" width="3.6" height="3.6" fill="#3db2c8"/><rect x="56.5" y="130.3" width="3.6" height="3.6" fill="#3db2c8"/><rect x="58.5" y="130.3" width="3.6" height="3.6" fill="#3db2c8"/><rect x="60.5" y="130.3" width="3.6" height="3.6" fill="#3db2c8"/><rect x="62.5" y="130.3" width="3.6" height="3.6" fill="#3db2c8"/><rect x="48.5" y="132.3" width="3.6" height="3.6" fill="#3db2c8"/><rect x="50.5" y="132.3" width="3.6" height="3.6" fill="#3db2c8"/><rect x="52.5" y="132.3" width="3.6" height="3.6" fill="#3db2c8"/><rect x="54.5" y="132.3" width="3.6" height="3.6" fill="#3db2c8"/><rect x="56.5" y="132.3" width="3.6" height="3.6" fill="#3db2c8"/><rect x="58.5" y="132.3" width="3.6" height="3.6" fill="#3db2c8"/><rect x="60.5" y="132.3" width="3.6" height="3.6" fill="#3db2c8"/><rect x="62.5" y="132.3" width="3.6" height="3.6" fill="#3db2c8"/><rect x="48.5" y="134.3" width="3.6" height="3.6" fill="#3db2c8"/><rect x="50.5" y="134.3" width="3.6" height="3.6" fill="#3db2c8"/><rect x="52.5" y="134.3" width="3.6" height="3.6" fill="#3db2c8"/><rect x="54.5" y="134.3" width="3.6" height="3.6" fill="#3db2c8"/><rect x="56.5" y="134.3" width="3.6" height="3.6" fill="#3db2c8"/><rect x="58.5" y="134.3" width="3.6" height="3.6" fill="#3db2c8"/><rect x="60.5" y="134.3" width="3.6" height="3.6" fill="#3db2c8"/><rect x="62.5" y="134.3" width="3.6" height="3.6" fill="#3db2c8"/><rect x="50.5" y="136.3" width="3.6" height="3.6" fill="#3db2c8"/><rect x="52.5" y="136.3" width="3.6" height="3.6" fill="#3db2c8"/><rect x="54.5" y="136.3" width="3.6" height="3.6" fill="#3db2c8"/><rect x="56.5" y="136.3" width="3.6" height="3.6" fill="#3db2c8"/><rect x="58.5" y="136.3" width="3.6" height="3.6" fill="#3db2c8"/><rect x="60.5" y="136.3" width="3.6" height="3.6" fill="#3db2c8"/><rect x="52.5" y="138.3" width="3.6" height="3.6" fill="#3db2c8"/><rect x="54.5" y="138.3" width="3.6" height="3.6" fill="#3db2c8"/><rect x="56.5" y="138.3" width="3.6" height="3.6" fill="#3db2c8"/><rect x="58.5" y="138.3" width="3.6" height="3.6" fill="#3db2c8"/><rect x="60.5" y="138.3" width="3.6" height="3.6" fill="#3db2c8"/><rect x="54.5" y="140.3" width="3.6" height="3.6" fill="#3db2c8"/><rect x="56.5" y="140.3" width="3.6" height="3.6" fill="#3db2c8"/><rect x="58.5" y="140.3" width="3.6" height="3.6" fill="#3db2c8"/><rect x="53.1" y="126.9" width="2.4" height="2.4" fill="#ff2a0a"/><rect x="55.1" y="126.9" width="2.4" height="2.4" fill="#ff2a0a"/><rect x="57.1" y="126.9" width="2.4" height="2.4" fill="#ff2a0a"/><rect x="59.1" y="126.9" width="2.4" height="2.4" fill="#ff2a0a"/><rect x="51.1" y="128.9" width="2.4" height="2.4" fill="#ff2a0a"/><rect x="53.1" y="128.9" width="2.4" height="2.4" fill="#ff2a0a"/><rect x="55.1" y="128.9" width="2.4" height="2.4" fill="#ff2a0a"/><rect x="57.1" y="128.9" width="2.4" height="2.4" fill="#ff2a0a"/><rect x="59.1" y="128.9" width="2.4" height="2.4" fill="#ff2a0a"/><rect x="61.1" y="128.9" width="2.4" height="2.4" fill="#ff2a0a"/><rect x="49.1" y="130.9" width="2.4" height="2.4" fill="#ff2a0a"/><rect x="51.1" y="130.9" width="2.4" height="2.4" fill="#ff2a0a"/><rect x="53.1" y="130.9" width="2.4" height="2.4" fill="#ff2a0a"/><rect x="55.1" y="130.9" width="2.4" height="2.4" fill="#ff7c00"/><rect x="57.1" y="130.9" width="2.4" height="2.4" fill="#ff2a0a"/><rect x="59.1" y="130.9" width="2.4" height="2.4" fill="#ff2a0a"/><rect x="61.1" y="130.9" width="2.4" height="2.4" fill="#ff2a0a"/><rect x="63.1" y="130.9" width="2.4" height="2.4" fill="#ff2a0a"/><rect x="49.1" y="132.9" width="2.4" height="2.4" fill="#ff2a0a"/><rect x="51.1" y="132.9" width="2.4" height="2.4" fill="#ff2a0a"/><rect x="53.1" y="132.9" width="2.4" height="2.4" fill="#ff2a0a"/><rect x="55.1" y="132.9" width="2.4" height="2.4" fill="#ff7c00"/><rect x="57.1" y="132.9" width="2.4" height="2.4" fill="#ff7c00"/><rect x="59.1" y="132.9" width="2.4" height="2.4" fill="#ff2a0a"/><rect x="61.1" y="132.9" width="2.4" height="2.4" fill="#ff2a0a"/><rect x="63.1" y="132.9" width="2.4" height="2.4" fill="#ff2a0a"/><rect x="49.1" y="134.9" width="2.4" height="2.4" fill="#ff2a0a"/><rect x="51.1" y="134.9" width="2.4" height="2.4" fill="#ff2a0a"/><rect x="53.1" y="134.9" width="2.4" height="2.4" fill="#ff2a0a"/><rect x="55.1" y="134.9" width="2.4" height="2.4" fill="#ff2a0a"/><rect x="57.1" y="134.9" width="2.4" height="2.4" fill="#ff2a0a"/><rect x="59.1" y="134.9" width="2.4" height="2.4" fill="#ff2a0a"/><rect x="61.1" y="134.9" width="2.4" height="2.4" fill="#ff2a0a"/><rect x="63.1" y="134.9" width="2.4" height="2.4" fill="#ff2a0a"/><rect x="51.1" y="136.9" width="2.4" height="2.4" fill="#ff2a0a"/><rect x="53.1" y="136.9" width="2.4" height="2.4" fill="#ff2a0a"/><rect x="55.1" y="136.9" width="2.4" height="2.4" fill="#ff2a0a"/><rect x="57.1" y="136.9" width="2.4" height="2.4" fill="#ff2a0a"/><rect x="59.1" y="136.9" width="2.4" height="2.4" fill="#ff2a0a"/><rect x="61.1" y="136.9" width="2.4" height="2.4" fill="#ff2a0a"/><rect x="53.1" y="138.9" width="2.4" height="2.4" fill="#ff2a0a"/><rect x="55.1" y="138.9" width="2.4" height="2.4" fill="#ff2a0a"/><rect x="57.1" y="138.9" width="2.4" height="2.4" fill="#ff2a0a"/><rect x="59.1" y="138.9" width="2.4" height="2.4" fill="#ff2a0a"/><rect x="61.1" y="138.9" width="2.4" height="2.4" fill="#ff2a0a"/><rect x="55.1" y="140.9" width="2.4" height="2.4" fill="#ff2a0a"/><rect x="57.1" y="140.9" width="2.4" height="2.4" fill="#ff2a0a"/><rect x="59.1" y="140.9" width="2.4" height="2.4" fill="#ff2a0a"/><rect x="119.7" y="122.9" width="3.6" height="3.6" fill="#3db2c8"/><rect x="121.7" y="122.9" width="3.6" height="3.6" fill="#3db2c8"/><rect x="123.7" y="122.9" width="3.6" height="3.6" fill="#3db2c8"/><rect x="125.7" y="122.9" width="3.6" height="3.6" fill="#3db2c8"/><rect x="117.7" y="124.9" width="3.6" height="3.6" fill="#3db2c8"/><rect x="119.7" y="124.9" width="3.6" height="3.6" fill="#3db2c8"/><rect x="121.7" y="124.9" width="3.6" height="3.6" fill="#3db2c8"/><rect x="123.7" y="124.9" width="3.6" height="3.6" fill="#3db2c8"/><rect x="125.7" y="124.9" width="3.6" height="3.6" fill="#3db2c8"/><rect x="115.7" y="126.9" width="3.6" height="3.6" fill="#3db2c8"/><rect x="117.7" y="126.9" width="3.6" height="3.6" fill="#3db2c8"/><rect x="119.7" y="126.9" width="3.6" height="3.6" fill="#3db2c8"/><rect x="121.7" y="126.9" width="3.6" height="3.6" fill="#3db2c8"/><rect x="123.7" y="126.9" width="3.6" height="3.6" fill="#3db2c8"/><rect x="115.7" y="128.9" width="3.6" height="3.6" fill="#3db2c8"/><rect x="117.7" y="128.9" width="3.6" height="3.6" fill="#3db2c8"/><rect x="119.7" y="128.9" width="3.6" height="3.6" fill="#3db2c8"/><rect x="121.7" y="128.9" width="3.6" height="3.6" fill="#3db2c8"/><rect x="115.7" y="130.9" width="3.6" height="3.6" fill="#3db2c8"/><rect x="117.7" y="130.9" width="3.6" height="3.6" fill="#3db2c8"/><rect x="119.7" y="130.9" width="3.6" height="3.6" fill="#3db2c8"/><rect x="121.7" y="130.9" width="3.6" height="3.6" fill="#3db2c8"/><rect x="115.7" y="132.9" width="3.6" height="3.6" fill="#3db2c8"/><rect x="117.7" y="132.9" width="3.6" height="3.6" fill="#3db2c8"/><rect x="119.7" y="132.9" width="3.6" height="3.6" fill="#3db2c8"/><rect x="117.7" y="134.9" width="3.6" height="3.6" fill="#3db2c8"/><rect x="119.7" y="134.9" width="3.6" height="3.6" fill="#3db2c8"/><rect x="120.3" y="123.5" width="2.4" height="2.4" fill="#ff2a0a"/><rect x="122.3" y="123.5" width="2.4" height="2.4" fill="#ff2a0a"/><rect x="124.3" y="123.5" width="2.4" height="2.4" fill="#ff2a0a"/><rect x="126.3" y="123.5" width="2.4" height="2.4" fill="#ff2a0a"/><rect x="118.3" y="125.5" width="2.4" height="2.4" fill="#ff2a0a"/><rect x="120.3" y="125.5" width="2.4" height="2.4" fill="#ff2a0a"/><rect x="122.3" y="125.5" width="2.4" height="2.4" fill="#ff2a0a"/><rect x="124.3" y="125.5" width="2.4" height="2.4" fill="#ff2a0a"/><rect x="126.3" y="125.5" width="2.4" height="2.4" fill="#ff2a0a"/><rect x="116.3" y="127.5" width="2.4" height="2.4" fill="#ff2a0a"/><rect x="118.3" y="127.5" width="2.4" height="2.4" fill="#ff2a0a"/><rect x="120.3" y="127.5" width="2.4" height="2.4" fill="#ff2a0a"/><rect x="122.3" y="127.5" width="2.4" height="2.4" fill="#ff2a0a"/><rect x="124.3" y="127.5" width="2.4" height="2.4" fill="#ff2a0a"/><rect x="116.3" y="129.5" width="2.4" height="2.4" fill="#ff2a0a"/><rect x="118.3" y="129.5" width="2.4" height="2.4" fill="#ff2a0a"/><rect x="120.3" y="129.5" width="2.4" height="2.4" fill="#ff2a0a"/><rect x="122.3" y="129.5" width="2.4" height="2.4" fill="#ff2a0a"/><rect x="116.3" y="131.5" width="2.4" height="2.4" fill="#ff2a0a"/><rect x="118.3" y="131.5" width="2.4" height="2.4" fill="#ff2a0a"/><rect x="120.3" y="131.5" width="2.4" height="2.4" fill="#ff2a0a"/><rect x="122.3" y="131.5" width="2.4" height="2.4" fill="#ff2a0a"/><rect x="116.3" y="133.5" width="2.4" height="2.4" fill="#ff2a0a"/><rect x="118.3" y="133.5" width="2.4" height="2.4" fill="#ff2a0a"/><rect x="120.3" y="133.5" width="2.4" height="2.4" fill="#ff2a0a"/><rect x="118.3" y="135.5" width="2.4" height="2.4" fill="#ff2a0a"/><rect x="120.3" y="135.5" width="2.4" height="2.4" fill="#ff2a0a"/>

</g>
<g transform="translate(646.8 60.6) scale(0.9972 1.0007)">
<rect x="0" y="0" width="177" height="211" fill="#000"/>
<g filter="url(#soft)">
<path d="M88.8 4.8 L92.1 4.8 L95.4 5 L98.7 5.3 L102 5.7 L105.3 6.2 L108.6 6.9 L111.9 7.8 L115.1 8.8 L118.3 10 L121.5 11.4 L124.7 12.9 L127.8 14.7 L130.9 16.6 L133.9 18.7 L136.8 20.9 L139.6 23.4 L142.4 26 L145.1 28.8 L147.6 31.7 L150.1 34.9 L152.4 38.1 L154.7 41.5 L156.8 45.1 L158.8 48.7 L160.6 52.5 L162.3 56.4 L163.9 60.3 L165.3 64.4 L166.7 68.5 L167.8 72.7 L168.9 76.9 L169.8 81.2 L170.5 85.5 L171.2 89.8 L171.7 94.2 L172.1 98.5 L172.5 102.9 L172.7 107.3 L172.8 111.6 L172.8 116 L172.8 119.4 L172.7 122.9 L172.6 126.4 L172.4 129.8 L172.2 133.3 L171.8 136.8 L171.3 140.3 L170.7 143.8 L170 147.3 L169.1 150.8 L168.1 154.2 L167 157.6 L165.7 161 L164.2 164.3 L162.6 167.6 L160.8 170.7 L158.9 173.8 L156.8 176.7 L154.5 179.5 L152.1 182.2 L149.5 184.7 L146.9 187.1 L144.1 189.3 L141.1 191.3 L138.1 193.2 L135 194.9 L131.9 196.4 L128.6 197.7 L125.4 198.9 L122.1 200 L118.8 200.9 L115.4 201.6 L112.1 202.2 L108.7 202.7 L105.4 203.1 L102 203.4 L98.7 203.6 L95.4 203.7 L92.1 203.8 L88.8 203.8 L85.5 203.8 L82.2 203.7 L78.9 203.6 L75.6 203.4 L72.2 203.1 L68.9 202.7 L65.5 202.2 L62.2 201.6 L58.8 200.9 L55.5 200 L52.2 198.9 L49 197.7 L45.7 196.4 L42.6 194.9 L39.5 193.2 L36.5 191.3 L33.5 189.3 L30.7 187.1 L28.1 184.7 L25.5 182.2 L23.1 179.5 L20.8 176.7 L18.7 173.8 L16.8 170.7 L15 167.6 L13.4 164.3 L11.9 161 L10.6 157.6 L9.5 154.2 L8.5 150.8 L7.6 147.3 L6.9 143.8 L6.3 140.3 L5.8 136.8 L5.4 133.3 L5.2 129.8 L5 126.4 L4.9 122.9 L4.8 119.4 L4.8 116 L4.8 111.6 L4.9 107.3 L5.1 102.9 L5.5 98.5 L5.9 94.2 L6.4 89.8 L7.1 85.5 L7.8 81.2 L8.7 76.9 L9.8 72.7 L10.9 68.5 L12.3 64.4 L13.7 60.3 L15.3 56.4 L17 52.5 L18.8 48.7 L20.8 45.1 L22.9 41.5 L25.2 38.1 L27.5 34.9 L30 31.7 L32.5 28.8 L35.2 26 L38 23.4 L40.8 20.9 L43.7 18.7 L46.7 16.6 L49.8 14.7 L52.9 12.9 L56.1 11.4 L59.3 10 L62.5 8.8 L65.7 7.8 L69 6.9 L72.3 6.2 L75.6 5.7 L78.9 5.3 L82.2 5 L85.5 4.8Z" fill="#545454" stroke="#bcbcbc" stroke-width="1.3"/>
<path d="M88.8 10 L91.8 10 L94.8 10.2 L97.8 10.4 L100.8 10.8 L103.8 11.4 L106.8 12 L109.8 12.8 L112.7 13.8 L115.7 15 L118.6 16.3 L121.4 17.8 L124.3 19.4 L127.1 21.2 L129.8 23.2 L132.4 25.4 L135 27.7 L137.5 30.2 L140 32.9 L142.3 35.7 L144.6 38.6 L146.7 41.8 L148.7 45 L150.6 48.4 L152.4 51.9 L154.1 55.5 L155.7 59.1 L157.1 62.9 L158.4 66.8 L159.6 70.7 L160.7 74.7 L161.6 78.7 L162.4 82.8 L163.1 86.9 L163.7 91 L164.2 95.2 L164.6 99.3 L164.9 103.5 L165.1 107.7 L165.2 111.8 L165.2 116 L165.2 119.3 L165.1 122.5 L165 125.8 L164.9 129.1 L164.6 132.4 L164.3 135.7 L163.8 139 L163.3 142.3 L162.6 145.6 L161.9 148.9 L161 152.1 L159.9 155.4 L158.7 158.6 L157.4 161.7 L155.9 164.7 L154.3 167.7 L152.5 170.6 L150.6 173.4 L148.6 176 L146.4 178.5 L144 180.9 L141.6 183.2 L139.1 185.3 L136.4 187.2 L133.7 188.9 L130.8 190.5 L128 192 L125 193.3 L122.1 194.4 L119.1 195.4 L116 196.2 L113 196.9 L110 197.5 L106.9 198 L103.9 198.4 L100.8 198.6 L97.8 198.8 L94.8 198.9 L91.8 199 L88.8 199 L85.8 199 L82.8 198.9 L79.8 198.8 L76.8 198.6 L73.7 198.4 L70.7 198 L67.6 197.5 L64.6 196.9 L61.6 196.2 L58.5 195.4 L55.5 194.4 L52.6 193.3 L49.6 192 L46.8 190.5 L43.9 188.9 L41.2 187.2 L38.5 185.3 L36 183.2 L33.6 180.9 L31.2 178.5 L29 176 L27 173.4 L25.1 170.6 L23.3 167.7 L21.7 164.7 L20.2 161.7 L18.9 158.6 L17.7 155.4 L16.6 152.1 L15.7 148.9 L15 145.6 L14.3 142.3 L13.8 139 L13.3 135.7 L13 132.4 L12.7 129.1 L12.6 125.8 L12.5 122.5 L12.4 119.3 L12.4 116 L12.4 111.8 L12.5 107.7 L12.7 103.5 L13 99.3 L13.4 95.2 L13.9 91 L14.5 86.9 L15.2 82.8 L16 78.7 L16.9 74.7 L18 70.7 L19.2 66.8 L20.5 62.9 L21.9 59.1 L23.5 55.5 L25.2 51.9 L27 48.4 L28.9 45 L30.9 41.8 L33 38.6 L35.3 35.7 L37.6 32.9 L40.1 30.2 L42.6 27.7 L45.2 25.4 L47.8 23.2 L50.5 21.2 L53.3 19.4 L56.2 17.8 L59 16.3 L61.9 15 L64.9 13.8 L67.8 12.8 L70.8 12 L73.8 11.4 L76.8 10.8 L79.8 10.4 L82.8 10.2 L85.8 10Z" fill="#060606" stroke="#cacaca" stroke-width="1.4"/>

<clipPath id="bc4"><path d="M88 17 L90.7 17 L93.5 17.1 L96.3 17.3 L99 17.7 L101.8 18.1 L104.5 18.7 L107.3 19.4 L110 20.3 L112.8 21.3 L115.5 22.5 L118.2 23.9 L120.8 25.4 L123.4 27.2 L126 29.1 L128.5 31.2 L130.9 33.4 L133.2 35.9 L135.5 38.5 L137.7 41.3 L139.8 44.3 L141.8 47.4 L143.6 50.7 L145.4 54.1 L147 57.7 L148.6 61.3 L150 65.1 L151.2 68.9 L152.4 72.8 L153.4 76.8 L154.3 80.8 L155.1 84.8 L155.8 88.9 L156.4 93.1 L156.9 97.2 L157.3 101.3 L157.6 105.5 L157.8 109.6 L157.9 113.7 L158 117.9 L158 122 L158 124.7 L158 127.3 L157.9 130 L157.8 132.7 L157.6 135.4 L157.4 138.2 L157 140.9 L156.6 143.7 L156.1 146.4 L155.5 149.1 L154.7 151.9 L153.8 154.6 L152.8 157.3 L151.7 159.9 L150.4 162.5 L148.9 165 L147.3 167.4 L145.6 169.8 L143.7 172 L141.6 174.1 L139.4 176.1 L137.2 177.9 L134.8 179.6 L132.3 181.2 L129.7 182.6 L127 183.8 L124.3 185 L121.5 185.9 L118.8 186.8 L115.9 187.5 L113.1 188.1 L110.3 188.6 L107.5 189.1 L104.6 189.4 L101.8 189.6 L99.1 189.8 L96.3 189.9 L93.5 190 L90.8 190 L88 190 L85.2 190 L82.5 190 L79.7 189.9 L76.9 189.8 L74.2 189.6 L71.4 189.4 L68.5 189.1 L65.7 188.6 L62.9 188.1 L60.1 187.5 L57.2 186.8 L54.5 185.9 L51.7 185 L49 183.8 L46.3 182.6 L43.7 181.2 L41.2 179.6 L38.8 177.9 L36.6 176.1 L34.4 174.1 L32.3 172 L30.4 169.8 L28.7 167.4 L27.1 165 L25.6 162.5 L24.3 159.9 L23.2 157.3 L22.2 154.6 L21.3 151.9 L20.5 149.1 L19.9 146.4 L19.4 143.7 L19 140.9 L18.6 138.2 L18.4 135.4 L18.2 132.7 L18.1 130 L18 127.3 L18 124.7 L18 122 L18 117.9 L18.1 113.7 L18.2 109.6 L18.4 105.5 L18.7 101.3 L19.1 97.2 L19.6 93.1 L20.2 88.9 L20.9 84.8 L21.7 80.8 L22.6 76.8 L23.6 72.8 L24.8 68.9 L26 65.1 L27.4 61.3 L29 57.7 L30.6 54.1 L32.4 50.7 L34.2 47.4 L36.2 44.3 L38.3 41.3 L40.5 38.5 L42.8 35.9 L45.1 33.4 L47.5 31.2 L50 29.1 L52.6 27.2 L55.2 25.4 L57.8 23.9 L60.5 22.5 L63.2 21.3 L66 20.3 L68.7 19.4 L71.5 18.7 L74.2 18.1 L77 17.7 L79.7 17.3 L82.5 17.1 L85.3 17Z"/></clipPath>
<g clip-path="url(#bc4)">
<path d="M88 17 L90.7 17 L93.5 17.1 L96.3 17.3 L99 17.7 L101.8 18.1 L104.5 18.7 L107.3 19.4 L110 20.3 L112.8 21.3 L115.5 22.5 L118.2 23.9 L120.8 25.4 L123.4 27.2 L126 29.1 L128.5 31.2 L130.9 33.4 L133.2 35.9 L135.5 38.5 L137.7 41.3 L139.8 44.3 L141.8 47.4 L143.6 50.7 L145.4 54.1 L147 57.7 L148.6 61.3 L150 65.1 L151.2 68.9 L152.4 72.8 L153.4 76.8 L154.3 80.8 L155.1 84.8 L155.8 88.9 L156.4 93.1 L156.9 97.2 L157.3 101.3 L157.6 105.5 L157.8 109.6 L157.9 113.7 L158 117.9 L158 122 L158 124.7 L158 127.3 L157.9 130 L157.8 132.7 L157.6 135.4 L157.4 138.2 L157 140.9 L156.6 143.7 L156.1 146.4 L155.5 149.1 L154.7 151.9 L153.8 154.6 L152.8 157.3 L151.7 159.9 L150.4 162.5 L148.9 165 L147.3 167.4 L145.6 169.8 L143.7 172 L141.6 174.1 L139.4 176.1 L137.2 177.9 L134.8 179.6 L132.3 181.2 L129.7 182.6 L127 183.8 L124.3 185 L121.5 185.9 L118.8 186.8 L115.9 187.5 L113.1 188.1 L110.3 188.6 L107.5 189.1 L104.6 189.4 L101.8 189.6 L99.1 189.8 L96.3 189.9 L93.5 190 L90.8 190 L88 190 L85.2 190 L82.5 190 L79.7 189.9 L76.9 189.8 L74.2 189.6 L71.4 189.4 L68.5 189.1 L65.7 188.6 L62.9 188.1 L60.1 187.5 L57.2 186.8 L54.5 185.9 L51.7 185 L49 183.8 L46.3 182.6 L43.7 181.2 L41.2 179.6 L38.8 177.9 L36.6 176.1 L34.4 174.1 L32.3 172 L30.4 169.8 L28.7 167.4 L27.1 165 L25.6 162.5 L24.3 159.9 L23.2 157.3 L22.2 154.6 L21.3 151.9 L20.5 149.1 L19.9 146.4 L19.4 143.7 L19 140.9 L18.6 138.2 L18.4 135.4 L18.2 132.7 L18.1 130 L18 127.3 L18 124.7 L18 122 L18 117.9 L18.1 113.7 L18.2 109.6 L18.4 105.5 L18.7 101.3 L19.1 97.2 L19.6 93.1 L20.2 88.9 L20.9 84.8 L21.7 80.8 L22.6 76.8 L23.6 72.8 L24.8 68.9 L26 65.1 L27.4 61.3 L29 57.7 L30.6 54.1 L32.4 50.7 L34.2 47.4 L36.2 44.3 L38.3 41.3 L40.5 38.5 L42.8 35.9 L45.1 33.4 L47.5 31.2 L50 29.1 L52.6 27.2 L55.2 25.4 L57.8 23.9 L60.5 22.5 L63.2 21.3 L66 20.3 L68.7 19.4 L71.5 18.7 L74.2 18.1 L77 17.7 L79.7 17.3 L82.5 17.1 L85.3 17Z" fill="#b2b2b2"/>

<path d="M88 17 L90.7 17 L93.5 17.1 L96.3 17.3 L99 17.7 L101.8 18.1 L104.5 18.7 L107.3 19.4 L110 20.3 L112.8 21.3 L115.5 22.5 L118.2 23.9 L120.8 25.4 L123.4 27.2 L126 29.1 L128.5 31.2 L130.9 33.4 L133.2 35.9 L135.5 38.5 L137.7 41.3 L139.8 44.3 L141.8 47.4 L143.6 50.7 L145.4 54.1 L147 57.7 L148.6 61.3 L150 65.1 L151.2 68.9 L152.4 72.8 L153.4 76.8 L154.3 80.8 L155.1 84.8 L155.8 88.9 L156.4 93.1 L156.9 97.2 L157.3 101.3 L157.6 105.5 L157.8 109.6 L157.9 113.7 L158 117.9 L158 122 L158 124.7 L158 127.3 L157.9 130 L157.8 132.7 L157.6 135.4 L157.4 138.2 L157 140.9 L156.6 143.7 L156.1 146.4 L155.5 149.1 L154.7 151.9 L153.8 154.6 L152.8 157.3 L151.7 159.9 L150.4 162.5 L148.9 165 L147.3 167.4 L145.6 169.8 L143.7 172 L141.6 174.1 L139.4 176.1 L137.2 177.9 L134.8 179.6 L132.3 181.2 L129.7 182.6 L127 183.8 L124.3 185 L121.5 185.9 L118.8 186.8 L115.9 187.5 L113.1 188.1 L110.3 188.6 L107.5 189.1 L104.6 189.4 L101.8 189.6 L99.1 189.8 L96.3 189.9 L93.5 190 L90.8 190 L88 190 L85.2 190 L82.5 190 L79.7 189.9 L76.9 189.8 L74.2 189.6 L71.4 189.4 L68.5 189.1 L65.7 188.6 L62.9 188.1 L60.1 187.5 L57.2 186.8 L54.5 185.9 L51.7 185 L49 183.8 L46.3 182.6 L43.7 181.2 L41.2 179.6 L38.8 177.9 L36.6 176.1 L34.4 174.1 L32.3 172 L30.4 169.8 L28.7 167.4 L27.1 165 L25.6 162.5 L24.3 159.9 L23.2 157.3 L22.2 154.6 L21.3 151.9 L20.5 149.1 L19.9 146.4 L19.4 143.7 L19 140.9 L18.6 138.2 L18.4 135.4 L18.2 132.7 L18.1 130 L18 127.3 L18 124.7 L18 122 L18 117.9 L18.1 113.7 L18.2 109.6 L18.4 105.5 L18.7 101.3 L19.1 97.2 L19.6 93.1 L20.2 88.9 L20.9 84.8 L21.7 80.8 L22.6 76.8 L23.6 72.8 L24.8 68.9 L26 65.1 L27.4 61.3 L29 57.7 L30.6 54.1 L32.4 50.7 L34.2 47.4 L36.2 44.3 L38.3 41.3 L40.5 38.5 L42.8 35.9 L45.1 33.4 L47.5 31.2 L50 29.1 L52.6 27.2 L55.2 25.4 L57.8 23.9 L60.5 22.5 L63.2 21.3 L66 20.3 L68.7 19.4 L71.5 18.7 L74.2 18.1 L77 17.7 L79.7 17.3 L82.5 17.1 L85.3 17Z" fill="none" stroke="#787878" stroke-width="8"/>
<path d="M87.1 17 Q83.9 21.4 81.1 25.2 Q78 29.6 76.5 34.3 M101.8 18.1 Q103.8 21.6 103 24.8 Q104 27.1 106.1 30.8 M110.9 20.6 Q113.1 26.4 112 31.9 Q115.2 37.7 115.1 42.8 M130.1 32.7 Q125.5 35.5 123.2 40.6 Q119.5 44.7 114.5 46.4 M137.7 41.3 Q137.2 43.7 136.3 47.1 Q134.5 48.6 132.1 51.2 M149 62.6 Q146.7 64.6 147 68.6 Q143.5 71.4 141.8 72.2 M152.4 72.8 Q147 72.8 142.7 76.6 Q138.1 78.4 132.8 79.7 M157 98.6 Q153.7 98.2 149.6 96.2 Q147.3 94.5 143.3 91.5 M157.9 115.1 Q153.7 116.2 150.6 114.7 Q147.5 114.9 144 111.3 M151.1 113.3 Q147.8 115.9 145.5 118.3 M157.7 133.6 Q153.4 135.1 149.3 133.7 Q145.3 134.3 141.1 131.8 M144.6 132.2 Q140.8 133.5 137.3 135.7 M156.9 141.8 Q153.3 140.4 150.5 137.2 Q147 133.5 145.7 131.1 M152.8 157.3 Q151 154.6 149.6 151.8 Q149.7 149.5 146.7 146.3 M148.3 149.2 Q150.4 145.7 151.5 141.9 M147.8 166.6 Q145.1 162.4 145.1 159 Q143.2 154.6 143.6 151 M137.2 177.9 Q130.6 174.4 126.1 173 Q121.5 170.1 115.9 166.3 M122.5 169.9 Q122.6 166.1 121.6 162.1 M125.2 184.6 Q125 178.8 123 172.5 Q121.6 166.7 121.3 160.3 M104.6 189.4 Q101.5 184.2 99.4 178.6 Q100.1 173.1 97.7 166.7 M101.5 179.1 Q98.5 177 96.2 173.4 M99.1 189.8 Q97.1 186.6 98.1 183.1 Q99.9 180.4 101.4 177.1 M100.8 180.2 Q97.3 177.1 94 174.5 M80.6 189.9 Q83.6 186.4 84 183.7 Q82.8 179.8 83.6 176.7 M69.5 189.2 Q67.3 185.3 67.2 181.5 Q66.5 177.5 68.8 173.6 M52.6 185.3 Q55.5 179.7 56.9 174.3 Q57.5 169.1 60.4 163 M57.5 171.4 Q61 169.1 64.3 167 M39.6 178.5 Q40.7 174.3 41.4 169.9 Q43.2 165.7 41.7 161.1 M41.1 166.5 Q39.2 161.9 37.9 158 M33 172.7 Q39.5 171 44.8 170.1 Q50.2 166.4 55.9 165.2 M23.6 158.1 Q26.3 158.9 30.1 156.1 Q33.2 155.5 35.9 152.5 M19.4 143.7 Q22 138.9 21.3 132.9 Q23.3 127.7 26.7 123.3 M18.4 135.4 Q22 132.4 27.5 127.8 Q32.1 125 38.5 123.2 M30 128.4 Q28.7 125.3 28.4 122.7 M18.1 115.1 Q21.4 113.9 25.3 112.6 Q29 111.9 32.9 112.6 M18.9 100 Q21.8 99.2 25 98.7 Q28.4 100.3 31.2 97.9 M23.6 72.8 Q27.5 71.4 31.4 71.5 Q35.4 72 39.2 72.3 M28.5 58.9 Q32.9 62.6 37.5 68.1 Q43.5 72.2 47 76.8 M37.4 67.5 Q41.7 68 46.2 66.2 M36.2 44.3 Q41.5 47.3 44.5 48.4 Q47.5 50.2 51.7 54.2 M45 49.9 Q49.5 49.7 54.1 49.6 M48.4 30.5 Q48.9 35.9 48.9 41.3 Q50.1 46.8 48.9 52.2 M57.8 23.9 Q57.8 29.5 58.8 35.8 Q60.6 41.6 61.2 47.4 M60.3 41.5 Q57.9 46 54.4 49.1 M74.2 18.1 Q72.2 20 71 23.8 Q69.5 27.4 68 29.6" fill="none" stroke="#787878" stroke-width="8.0" stroke-linecap="round" stroke-linejoin="round"/><path d="M87.1 17 Q83.9 21.4 81.1 25.2 Q78 29.6 76.5 34.3 M101.8 18.1 Q103.8 21.6 103 24.8 Q104 27.1 106.1 30.8 M110.9 20.6 Q113.1 26.4 112 31.9 Q115.2 37.7 115.1 42.8 M130.1 32.7 Q125.5 35.5 123.2 40.6 Q119.5 44.7 114.5 46.4 M137.7 41.3 Q137.2 43.7 136.3 47.1 Q134.5 48.6 132.1 51.2 M149 62.6 Q146.7 64.6 147 68.6 Q143.5 71.4 141.8 72.2 M152.4 72.8 Q147 72.8 142.7 76.6 Q138.1 78.4 132.8 79.7 M157 98.6 Q153.7 98.2 149.6 96.2 Q147.3 94.5 143.3 91.5 M157.9 115.1 Q153.7 116.2 150.6 114.7 Q147.5 114.9 144 111.3 M151.1 113.3 Q147.8 115.9 145.5 118.3 M157.7 133.6 Q153.4 135.1 149.3 133.7 Q145.3 134.3 141.1 131.8 M144.6 132.2 Q140.8 133.5 137.3 135.7 M156.9 141.8 Q153.3 140.4 150.5 137.2 Q147 133.5 145.7 131.1 M152.8 157.3 Q151 154.6 149.6 151.8 Q149.7 149.5 146.7 146.3 M148.3 149.2 Q150.4 145.7 151.5 141.9 M147.8 166.6 Q145.1 162.4 145.1 159 Q143.2 154.6 143.6 151 M137.2 177.9 Q130.6 174.4 126.1 173 Q121.5 170.1 115.9 166.3 M122.5 169.9 Q122.6 166.1 121.6 162.1 M125.2 184.6 Q125 178.8 123 172.5 Q121.6 166.7 121.3 160.3 M104.6 189.4 Q101.5 184.2 99.4 178.6 Q100.1 173.1 97.7 166.7 M101.5 179.1 Q98.5 177 96.2 173.4 M99.1 189.8 Q97.1 186.6 98.1 183.1 Q99.9 180.4 101.4 177.1 M100.8 180.2 Q97.3 177.1 94 174.5 M80.6 189.9 Q83.6 186.4 84 183.7 Q82.8 179.8 83.6 176.7 M69.5 189.2 Q67.3 185.3 67.2 181.5 Q66.5 177.5 68.8 173.6 M52.6 185.3 Q55.5 179.7 56.9 174.3 Q57.5 169.1 60.4 163 M57.5 171.4 Q61 169.1 64.3 167 M39.6 178.5 Q40.7 174.3 41.4 169.9 Q43.2 165.7 41.7 161.1 M41.1 166.5 Q39.2 161.9 37.9 158 M33 172.7 Q39.5 171 44.8 170.1 Q50.2 166.4 55.9 165.2 M23.6 158.1 Q26.3 158.9 30.1 156.1 Q33.2 155.5 35.9 152.5 M19.4 143.7 Q22 138.9 21.3 132.9 Q23.3 127.7 26.7 123.3 M18.4 135.4 Q22 132.4 27.5 127.8 Q32.1 125 38.5 123.2 M30 128.4 Q28.7 125.3 28.4 122.7 M18.1 115.1 Q21.4 113.9 25.3 112.6 Q29 111.9 32.9 112.6 M18.9 100 Q21.8 99.2 25 98.7 Q28.4 100.3 31.2 97.9 M23.6 72.8 Q27.5 71.4 31.4 71.5 Q35.4 72 39.2 72.3 M28.5 58.9 Q32.9 62.6 37.5 68.1 Q43.5 72.2 47 76.8 M37.4 67.5 Q41.7 68 46.2 66.2 M36.2 44.3 Q41.5 47.3 44.5 48.4 Q47.5 50.2 51.7 54.2 M45 49.9 Q49.5 49.7 54.1 49.6 M48.4 30.5 Q48.9 35.9 48.9 41.3 Q50.1 46.8 48.9 52.2 M57.8 23.9 Q57.8 29.5 58.8 35.8 Q60.6 41.6 61.2 47.4 M60.3 41.5 Q57.9 46 54.4 49.1 M74.2 18.1 Q72.2 20 71 23.8 Q69.5 27.4 68 29.6" fill="none" stroke="#3c3c3c" stroke-width="1.7" stroke-linecap="round" stroke-linejoin="round"/>
<path d="M87.8 14 L87.8 60" fill="none" stroke="#7c7c7c" stroke-width="6" stroke-linecap="round" stroke-linejoin="round"/><path d="M87.8 168 L87.8 194" fill="none" stroke="#7c7c7c" stroke-width="6" stroke-linecap="round" stroke-linejoin="round"/><path d="M87.8 14 L87.8 60" fill="none" stroke="#383838" stroke-width="1.4" stroke-linecap="round" stroke-linejoin="round"/><path d="M87.8 168 L87.8 194" fill="none" stroke="#383838" stroke-width="1.4" stroke-linecap="round" stroke-linejoin="round"/><ellipse cx="86.8" cy="48" rx="9" ry="11" fill="#8c8c8c"/><ellipse cx="84.8" cy="50" rx="4" ry="4" fill="#6e6e6e"/><path d="M31.8 70 Q39.8 92 47.8 116" fill="none" stroke="#7c7c7c" stroke-width="10" stroke-linecap="round" stroke-linejoin="round"/><path d="M31.8 70 Q39.8 92 47.8 116" fill="none" stroke="#3c3c3c" stroke-width="1.6" stroke-linecap="round" stroke-linejoin="round"/><path d="M32.8 78 l-9 8 M36.8 90 l-10 7 M41.8 102 l-10 6" fill="none" stroke="#484848" stroke-width="1.3" stroke-linecap="round" stroke-linejoin="round"/><ellipse cx="62.8" cy="92" rx="7.5" ry="23" fill="#9e9e9e" transform="rotate(12 62.8 92)"/><ellipse cx="77.8" cy="108" rx="9" ry="14" fill="#a1a1a1" transform="rotate(-8 77.8 108)"/><ellipse cx="74.8" cy="80" rx="4" ry="12" fill="#9e9e9e" transform="rotate(-14 74.8 80)"/><path d="M143.8 70 Q135.8 92 127.8 116" fill="none" stroke="#7c7c7c" stroke-width="10" stroke-linecap="round" stroke-linejoin="round"/><path d="M143.8 70 Q135.8 92 127.8 116" fill="none" stroke="#3c3c3c" stroke-width="1.6" stroke-linecap="round" stroke-linejoin="round"/><path d="M142.8 78 l9 8 M138.8 90 l10 7 M133.8 102 l10 6" fill="none" stroke="#484848" stroke-width="1.3" stroke-linecap="round" stroke-linejoin="round"/><ellipse cx="112.8" cy="92" rx="7.5" ry="23" fill="#9e9e9e" transform="rotate(-12 112.8 92)"/><ellipse cx="97.8" cy="108" rx="9" ry="14" fill="#a1a1a1" transform="rotate(8 97.8 108)"/><ellipse cx="100.8" cy="80" rx="4" ry="12" fill="#9e9e9e" transform="rotate(14 100.8 80)"/><path d="M69.8 62 Q77.8 60 85.8 66 Q86.2 80 86.2 92 L81.8 92 Q78.8 78 74.8 70 Q71.8 66 69.8 62Z" fill="#2b2b2b"/><path d="M105.8 62 Q97.8 60 89.8 66 Q89.2 80 89.2 92 L93.8 92 Q96.8 78 100.8 70 Q103.8 66 105.8 62Z" fill="#2b2b2b"/><path d="M87.8 66 V92" fill="none" stroke="#cfcfcf" stroke-width="1.3" stroke-linecap="round" stroke-linejoin="round"/><path d="M87.8 92 V118" fill="none" stroke="#555" stroke-width="1.2" stroke-linecap="round" stroke-linejoin="round"/><ellipse cx="87.8" cy="127" rx="5" ry="10" fill="#414141"/><ellipse cx="72.8" cy="144" rx="15.5" ry="20" fill="#8a8a8a" stroke="#383838" stroke-width="1.6" transform="rotate(12 72.8 144)"/><ellipse cx="63.8" cy="132" rx="4" ry="8" fill="#3c3c3c" transform="rotate(-20 63.8 132)"/><path d="M79.8 134 q-4 10 -10 22 M69.8 144 q3 6 8 14" fill="none" stroke="#5a5a5a" stroke-width="1.2" stroke-linecap="round" stroke-linejoin="round"/><ellipse cx="102.8" cy="144" rx="15.5" ry="20" fill="#8a8a8a" stroke="#383838" stroke-width="1.6" transform="rotate(-12 102.8 144)"/><ellipse cx="111.8" cy="132" rx="4" ry="8" fill="#3c3c3c" transform="rotate(20 111.8 132)"/><path d="M95.8 134 q4 10 10 22 M105.8 144 q-3 6 -8 14" fill="none" stroke="#5a5a5a" stroke-width="1.2" stroke-linecap="round" stroke-linejoin="round"/><path d="M87.8 118 V194" fill="none" stroke="#333" stroke-width="1.4" stroke-linecap="round" stroke-linejoin="round"/>
<path d="M88 17 L90.7 17 L93.5 17.1 L96.3 17.3 L99 17.7 L101.8 18.1 L104.5 18.7 L107.3 19.4 L110 20.3 L112.8 21.3 L115.5 22.5 L118.2 23.9 L120.8 25.4 L123.4 27.2 L126 29.1 L128.5 31.2 L130.9 33.4 L133.2 35.9 L135.5 38.5 L137.7 41.3 L139.8 44.3 L141.8 47.4 L143.6 50.7 L145.4 54.1 L147 57.7 L148.6 61.3 L150 65.1 L151.2 68.9 L152.4 72.8 L153.4 76.8 L154.3 80.8 L155.1 84.8 L155.8 88.9 L156.4 93.1 L156.9 97.2 L157.3 101.3 L157.6 105.5 L157.8 109.6 L157.9 113.7 L158 117.9 L158 122 L158 124.7 L158 127.3 L157.9 130 L157.8 132.7 L157.6 135.4 L157.4 138.2 L157 140.9 L156.6 143.7 L156.1 146.4 L155.5 149.1 L154.7 151.9 L153.8 154.6 L152.8 157.3 L151.7 159.9 L150.4 162.5 L148.9 165 L147.3 167.4 L145.6 169.8 L143.7 172 L141.6 174.1 L139.4 176.1 L137.2 177.9 L134.8 179.6 L132.3 181.2 L129.7 182.6 L127 183.8 L124.3 185 L121.5 185.9 L118.8 186.8 L115.9 187.5 L113.1 188.1 L110.3 188.6 L107.5 189.1 L104.6 189.4 L101.8 189.6 L99.1 189.8 L96.3 189.9 L93.5 190 L90.8 190 L88 190 L85.2 190 L82.5 190 L79.7 189.9 L76.9 189.8 L74.2 189.6 L71.4 189.4 L68.5 189.1 L65.7 188.6 L62.9 188.1 L60.1 187.5 L57.2 186.8 L54.5 185.9 L51.7 185 L49 183.8 L46.3 182.6 L43.7 181.2 L41.2 179.6 L38.8 177.9 L36.6 176.1 L34.4 174.1 L32.3 172 L30.4 169.8 L28.7 167.4 L27.1 165 L25.6 162.5 L24.3 159.9 L23.2 157.3 L22.2 154.6 L21.3 151.9 L20.5 149.1 L19.9 146.4 L19.4 143.7 L19 140.9 L18.6 138.2 L18.4 135.4 L18.2 132.7 L18.1 130 L18 127.3 L18 124.7 L18 122 L18 117.9 L18.1 113.7 L18.2 109.6 L18.4 105.5 L18.7 101.3 L19.1 97.2 L19.6 93.1 L20.2 88.9 L20.9 84.8 L21.7 80.8 L22.6 76.8 L23.6 72.8 L24.8 68.9 L26 65.1 L27.4 61.3 L29 57.7 L30.6 54.1 L32.4 50.7 L34.2 47.4 L36.2 44.3 L38.3 41.3 L40.5 38.5 L42.8 35.9 L45.1 33.4 L47.5 31.2 L50 29.1 L52.6 27.2 L55.2 25.4 L57.8 23.9 L60.5 22.5 L63.2 21.3 L66 20.3 L68.7 19.4 L71.5 18.7 L74.2 18.1 L77 17.7 L79.7 17.3 L82.5 17.1 L85.3 17Z" fill="none" stroke="#2c2c2c" stroke-width="1.6"/>
</g>

</g>
<path d="M88.8 4.8 L92.1 4.8 L95.4 5 L98.7 5.3 L102 5.7 L105.3 6.2 L108.6 6.9 L111.9 7.8 L115.1 8.8 L118.3 10 L121.5 11.4 L124.7 12.9 L127.8 14.7 L130.9 16.6 L133.9 18.7 L136.8 20.9 L139.6 23.4 L142.4 26 L145.1 28.8 L147.6 31.7 L150.1 34.9 L152.4 38.1 L154.7 41.5 L156.8 45.1 L158.8 48.7 L160.6 52.5 L162.3 56.4 L163.9 60.3 L165.3 64.4 L166.7 68.5 L167.8 72.7 L168.9 76.9 L169.8 81.2 L170.5 85.5 L171.2 89.8 L171.7 94.2 L172.1 98.5 L172.5 102.9 L172.7 107.3 L172.8 111.6 L172.8 116 L172.8 119.4 L172.7 122.9 L172.6 126.4 L172.4 129.8 L172.2 133.3 L171.8 136.8 L171.3 140.3 L170.7 143.8 L170 147.3 L169.1 150.8 L168.1 154.2 L167 157.6 L165.7 161 L164.2 164.3 L162.6 167.6 L160.8 170.7 L158.9 173.8 L156.8 176.7 L154.5 179.5 L152.1 182.2 L149.5 184.7 L146.9 187.1 L144.1 189.3 L141.1 191.3 L138.1 193.2 L135 194.9 L131.9 196.4 L128.6 197.7 L125.4 198.9 L122.1 200 L118.8 200.9 L115.4 201.6 L112.1 202.2 L108.7 202.7 L105.4 203.1 L102 203.4 L98.7 203.6 L95.4 203.7 L92.1 203.8 L88.8 203.8 L85.5 203.8 L82.2 203.7 L78.9 203.6 L75.6 203.4 L72.2 203.1 L68.9 202.7 L65.5 202.2 L62.2 201.6 L58.8 200.9 L55.5 200 L52.2 198.9 L49 197.7 L45.7 196.4 L42.6 194.9 L39.5 193.2 L36.5 191.3 L33.5 189.3 L30.7 187.1 L28.1 184.7 L25.5 182.2 L23.1 179.5 L20.8 176.7 L18.7 173.8 L16.8 170.7 L15 167.6 L13.4 164.3 L11.9 161 L10.6 157.6 L9.5 154.2 L8.5 150.8 L7.6 147.3 L6.9 143.8 L6.3 140.3 L5.8 136.8 L5.4 133.3 L5.2 129.8 L5 126.4 L4.9 122.9 L4.8 119.4 L4.8 116 L4.8 111.6 L4.9 107.3 L5.1 102.9 L5.5 98.5 L5.9 94.2 L6.4 89.8 L7.1 85.5 L7.8 81.2 L8.7 76.9 L9.8 72.7 L10.9 68.5 L12.3 64.4 L13.7 60.3 L15.3 56.4 L17 52.5 L18.8 48.7 L20.8 45.1 L22.9 41.5 L25.2 38.1 L27.5 34.9 L30 31.7 L32.5 28.8 L35.2 26 L38 23.4 L40.8 20.9 L43.7 18.7 L46.7 16.6 L49.8 14.7 L52.9 12.9 L56.1 11.4 L59.3 10 L62.5 8.8 L65.7 7.8 L69 6.9 L72.3 6.2 L75.6 5.7 L78.9 5.3 L82.2 5 L85.5 4.8Z" fill="#808080" filter="url(#grain)" opacity="0.3" style="mix-blend-mode:overlay"/>
<rect x="77.3" y="118.7" width="3.6" height="3.6" fill="#3db2c8"/><rect x="71.3" y="128.7" width="3.6" height="3.6" fill="#3db2c8"/><rect x="73.3" y="128.7" width="3.6" height="3.6" fill="#3db2c8"/><rect x="69.3" y="130.7" width="3.6" height="3.6" fill="#3db2c8"/><rect x="71.3" y="130.7" width="3.6" height="3.6" fill="#3db2c8"/><rect x="73.3" y="130.7" width="3.6" height="3.6" fill="#3db2c8"/><rect x="67.3" y="132.7" width="3.6" height="3.6" fill="#3db2c8"/><rect x="69.3" y="132.7" width="3.6" height="3.6" fill="#3db2c8"/><rect x="71.3" y="132.7" width="3.6" height="3.6" fill="#3db2c8"/><rect x="73.3" y="132.7" width="3.6" height="3.6" fill="#3db2c8"/><rect x="67.3" y="134.7" width="3.6" height="3.6" fill="#3db2c8"/><rect x="69.3" y="134.7" width="3.6" height="3.6" fill="#3db2c8"/><rect x="71.3" y="134.7" width="3.6" height="3.6" fill="#3db2c8"/><rect x="73.3" y="134.7" width="3.6" height="3.6" fill="#3db2c8"/><rect x="65.3" y="136.7" width="3.6" height="3.6" fill="#3db2c8"/><rect x="67.3" y="136.7" width="3.6" height="3.6" fill="#3db2c8"/><rect x="69.3" y="136.7" width="3.6" height="3.6" fill="#3db2c8"/><rect x="71.3" y="136.7" width="3.6" height="3.6" fill="#3db2c8"/><rect x="73.3" y="136.7" width="3.6" height="3.6" fill="#3db2c8"/><rect x="65.3" y="138.7" width="3.6" height="3.6" fill="#3db2c8"/><rect x="67.3" y="138.7" width="3.6" height="3.6" fill="#3db2c8"/><rect x="69.3" y="138.7" width="3.6" height="3.6" fill="#3db2c8"/><rect x="71.3" y="138.7" width="3.6" height="3.6" fill="#3db2c8"/><rect x="65.3" y="140.7" width="3.6" height="3.6" fill="#3db2c8"/><rect x="67.3" y="140.7" width="3.6" height="3.6" fill="#3db2c8"/><rect x="69.3" y="140.7" width="3.6" height="3.6" fill="#3db2c8"/><rect x="71.3" y="140.7" width="3.6" height="3.6" fill="#3db2c8"/><rect x="63.3" y="142.7" width="3.6" height="3.6" fill="#3db2c8"/><rect x="65.3" y="142.7" width="3.6" height="3.6" fill="#3db2c8"/><rect x="67.3" y="142.7" width="3.6" height="3.6" fill="#3db2c8"/><rect x="69.3" y="142.7" width="3.6" height="3.6" fill="#3db2c8"/><rect x="71.3" y="142.7" width="3.6" height="3.6" fill="#3db2c8"/><rect x="63.3" y="144.7" width="3.6" height="3.6" fill="#3db2c8"/><rect x="65.3" y="144.7" width="3.6" height="3.6" fill="#3db2c8"/><rect x="67.3" y="144.7" width="3.6" height="3.6" fill="#3db2c8"/><rect x="69.3" y="144.7" width="3.6" height="3.6" fill="#3db2c8"/><rect x="61.3" y="146.7" width="3.6" height="3.6" fill="#3db2c8"/><rect x="63.3" y="146.7" width="3.6" height="3.6" fill="#3db2c8"/><rect x="65.3" y="146.7" width="3.6" height="3.6" fill="#3db2c8"/><rect x="67.3" y="146.7" width="3.6" height="3.6" fill="#3db2c8"/><rect x="61.3" y="148.7" width="3.6" height="3.6" fill="#3db2c8"/><rect x="63.3" y="148.7" width="3.6" height="3.6" fill="#3db2c8"/><rect x="65.3" y="148.7" width="3.6" height="3.6" fill="#3db2c8"/><rect x="61.3" y="150.7" width="3.6" height="3.6" fill="#3db2c8"/><rect x="63.3" y="150.7" width="3.6" height="3.6" fill="#3db2c8"/><rect x="77.9" y="119.3" width="2.4" height="2.4" fill="#ff2a0a"/><rect x="71.9" y="129.3" width="2.4" height="2.4" fill="#ff2a0a"/><rect x="73.9" y="129.3" width="2.4" height="2.4" fill="#ff2a0a"/><rect x="69.9" y="131.3" width="2.4" height="2.4" fill="#ff2a0a"/><rect x="71.9" y="131.3" width="2.4" height="2.4" fill="#ff2a0a"/><rect x="73.9" y="131.3" width="2.4" height="2.4" fill="#ff2a0a"/><rect x="67.9" y="133.3" width="2.4" height="2.4" fill="#ff2a0a"/><rect x="69.9" y="133.3" width="2.4" height="2.4" fill="#ff2a0a"/><rect x="71.9" y="133.3" width="2.4" height="2.4" fill="#ff2a0a"/><rect x="73.9" y="133.3" width="2.4" height="2.4" fill="#ff2a0a"/><rect x="67.9" y="135.3" width="2.4" height="2.4" fill="#ff2a0a"/><rect x="69.9" y="135.3" width="2.4" height="2.4" fill="#ff2a0a"/><rect x="71.9" y="135.3" width="2.4" height="2.4" fill="#ff2a0a"/><rect x="73.9" y="135.3" width="2.4" height="2.4" fill="#ff2a0a"/><rect x="65.9" y="137.3" width="2.4" height="2.4" fill="#ff2a0a"/><rect x="67.9" y="137.3" width="2.4" height="2.4" fill="#ff2a0a"/><rect x="69.9" y="137.3" width="2.4" height="2.4" fill="#ff2a0a"/><rect x="71.9" y="137.3" width="2.4" height="2.4" fill="#ff2a0a"/><rect x="73.9" y="137.3" width="2.4" height="2.4" fill="#ff2a0a"/><rect x="65.9" y="139.3" width="2.4" height="2.4" fill="#ff2a0a"/><rect x="67.9" y="139.3" width="2.4" height="2.4" fill="#ff2a0a"/><rect x="69.9" y="139.3" width="2.4" height="2.4" fill="#ff2a0a"/><rect x="71.9" y="139.3" width="2.4" height="2.4" fill="#ff2a0a"/><rect x="65.9" y="141.3" width="2.4" height="2.4" fill="#ff2a0a"/><rect x="67.9" y="141.3" width="2.4" height="2.4" fill="#ff2a0a"/><rect x="69.9" y="141.3" width="2.4" height="2.4" fill="#ff2a0a"/><rect x="71.9" y="141.3" width="2.4" height="2.4" fill="#ff2a0a"/><rect x="63.9" y="143.3" width="2.4" height="2.4" fill="#ff2a0a"/><rect x="65.9" y="143.3" width="2.4" height="2.4" fill="#ff2a0a"/><rect x="67.9" y="143.3" width="2.4" height="2.4" fill="#ff2a0a"/><rect x="69.9" y="143.3" width="2.4" height="2.4" fill="#ff2a0a"/><rect x="71.9" y="143.3" width="2.4" height="2.4" fill="#ff2a0a"/><rect x="63.9" y="145.3" width="2.4" height="2.4" fill="#ff2a0a"/><rect x="65.9" y="145.3" width="2.4" height="2.4" fill="#ff2a0a"/><rect x="67.9" y="145.3" width="2.4" height="2.4" fill="#ff2a0a"/><rect x="69.9" y="145.3" width="2.4" height="2.4" fill="#ff2a0a"/><rect x="61.9" y="147.3" width="2.4" height="2.4" fill="#ff2a0a"/><rect x="63.9" y="147.3" width="2.4" height="2.4" fill="#ff2a0a"/><rect x="65.9" y="147.3" width="2.4" height="2.4" fill="#ff2a0a"/><rect x="67.9" y="147.3" width="2.4" height="2.4" fill="#ff2a0a"/><rect x="61.9" y="149.3" width="2.4" height="2.4" fill="#ff2a0a"/><rect x="63.9" y="149.3" width="2.4" height="2.4" fill="#ff2a0a"/><rect x="65.9" y="149.3" width="2.4" height="2.4" fill="#ff2a0a"/><rect x="61.9" y="151.3" width="2.4" height="2.4" fill="#ff2a0a"/><rect x="63.9" y="151.3" width="2.4" height="2.4" fill="#ff2a0a"/><rect x="101.9" y="123.7" width="3.6" height="3.6" fill="#3db2c8"/><rect x="103.9" y="123.7" width="3.6" height="3.6" fill="#3db2c8"/><rect x="99.9" y="125.7" width="3.6" height="3.6" fill="#3db2c8"/><rect x="101.9" y="125.7" width="3.6" height="3.6" fill="#3db2c8"/><rect x="103.9" y="125.7" width="3.6" height="3.6" fill="#3db2c8"/><rect x="105.9" y="125.7" width="3.6" height="3.6" fill="#3db2c8"/><rect x="99.9" y="127.7" width="3.6" height="3.6" fill="#3db2c8"/><rect x="101.9" y="127.7" width="3.6" height="3.6" fill="#3db2c8"/><rect x="103.9" y="127.7" width="3.6" height="3.6" fill="#3db2c8"/><rect x="105.9" y="127.7" width="3.6" height="3.6" fill="#3db2c8"/><rect x="97.9" y="129.7" width="3.6" height="3.6" fill="#3db2c8"/><rect x="99.9" y="129.7" width="3.6" height="3.6" fill="#3db2c8"/><rect x="101.9" y="129.7" width="3.6" height="3.6" fill="#3db2c8"/><rect x="103.9" y="129.7" width="3.6" height="3.6" fill="#3db2c8"/><rect x="105.9" y="129.7" width="3.6" height="3.6" fill="#3db2c8"/><rect x="107.9" y="129.7" width="3.6" height="3.6" fill="#3db2c8"/><rect x="97.9" y="131.7" width="3.6" height="3.6" fill="#3db2c8"/><rect x="99.9" y="131.7" width="3.6" height="3.6" fill="#3db2c8"/><rect x="101.9" y="131.7" width="3.6" height="3.6" fill="#3db2c8"/><rect x="103.9" y="131.7" width="3.6" height="3.6" fill="#3db2c8"/><rect x="105.9" y="131.7" width="3.6" height="3.6" fill="#3db2c8"/><rect x="107.9" y="131.7" width="3.6" height="3.6" fill="#3db2c8"/><rect x="109.9" y="131.7" width="3.6" height="3.6" fill="#3db2c8"/><rect x="97.9" y="133.7" width="3.6" height="3.6" fill="#3db2c8"/><rect x="99.9" y="133.7" width="3.6" height="3.6" fill="#3db2c8"/><rect x="101.9" y="133.7" width="3.6" height="3.6" fill="#3db2c8"/><rect x="103.9" y="133.7" width="3.6" height="3.6" fill="#3db2c8"/><rect x="105.9" y="133.7" width="3.6" height="3.6" fill="#3db2c8"/><rect x="107.9" y="133.7" width="3.6" height="3.6" fill="#3db2c8"/><rect x="109.9" y="133.7" width="3.6" height="3.6" fill="#3db2c8"/><rect x="97.9" y="135.7" width="3.6" height="3.6" fill="#3db2c8"/><rect x="99.9" y="135.7" width="3.6" height="3.6" fill="#3db2c8"/><rect x="101.9" y="135.7" width="3.6" height="3.6" fill="#3db2c8"/><rect x="103.9" y="135.7" width="3.6" height="3.6" fill="#3db2c8"/><rect x="105.9" y="135.7" width="3.6" height="3.6" fill="#3db2c8"/><rect x="107.9" y="135.7" width="3.6" height="3.6" fill="#3db2c8"/><rect x="109.9" y="135.7" width="3.6" height="3.6" fill="#3db2c8"/><rect x="111.9" y="135.7" width="3.6" height="3.6" fill="#3db2c8"/><rect x="97.9" y="137.7" width="3.6" height="3.6" fill="#3db2c8"/><rect x="99.9" y="137.7" width="3.6" height="3.6" fill="#3db2c8"/><rect x="101.9" y="137.7" width="3.6" height="3.6" fill="#3db2c8"/><rect x="103.9" y="137.7" width="3.6" height="3.6" fill="#3db2c8"/><rect x="105.9" y="137.7" width="3.6" height="3.6" fill="#3db2c8"/><rect x="107.9" y="137.7" width="3.6" height="3.6" fill="#3db2c8"/><rect x="109.9" y="137.7" width="3.6" height="3.6" fill="#3db2c8"/><rect x="111.9" y="137.7" width="3.6" height="3.6" fill="#3db2c8"/><rect x="99.9" y="139.7" width="3.6" height="3.6" fill="#3db2c8"/><rect x="101.9" y="139.7" width="3.6" height="3.6" fill="#3db2c8"/><rect x="103.9" y="139.7" width="3.6" height="3.6" fill="#3db2c8"/><rect x="105.9" y="139.7" width="3.6" height="3.6" fill="#3db2c8"/><rect x="107.9" y="139.7" width="3.6" height="3.6" fill="#3db2c8"/><rect x="109.9" y="139.7" width="3.6" height="3.6" fill="#3db2c8"/><rect x="111.9" y="139.7" width="3.6" height="3.6" fill="#3db2c8"/><rect x="99.9" y="141.7" width="3.6" height="3.6" fill="#3db2c8"/><rect x="101.9" y="141.7" width="3.6" height="3.6" fill="#3db2c8"/><rect x="103.9" y="141.7" width="3.6" height="3.6" fill="#3db2c8"/><rect x="105.9" y="141.7" width="3.6" height="3.6" fill="#3db2c8"/><rect x="107.9" y="141.7" width="3.6" height="3.6" fill="#3db2c8"/><rect x="109.9" y="141.7" width="3.6" height="3.6" fill="#3db2c8"/><rect x="101.9" y="143.7" width="3.6" height="3.6" fill="#3db2c8"/><rect x="103.9" y="143.7" width="3.6" height="3.6" fill="#3db2c8"/><rect x="105.9" y="143.7" width="3.6" height="3.6" fill="#3db2c8"/><rect x="107.9" y="143.7" width="3.6" height="3.6" fill="#3db2c8"/><rect x="102.5" y="124.3" width="2.4" height="2.4" fill="#ff2a0a"/><rect x="104.5" y="124.3" width="2.4" height="2.4" fill="#ff2a0a"/><rect x="100.5" y="126.3" width="2.4" height="2.4" fill="#ff2a0a"/><rect x="102.5" y="126.3" width="2.4" height="2.4" fill="#ff2a0a"/><rect x="104.5" y="126.3" width="2.4" height="2.4" fill="#ff2a0a"/><rect x="106.5" y="126.3" width="2.4" height="2.4" fill="#ff2a0a"/><rect x="100.5" y="128.3" width="2.4" height="2.4" fill="#ff2a0a"/><rect x="102.5" y="128.3" width="2.4" height="2.4" fill="#ff2a0a"/><rect x="104.5" y="128.3" width="2.4" height="2.4" fill="#ff2a0a"/><rect x="106.5" y="128.3" width="2.4" height="2.4" fill="#ff2a0a"/><rect x="98.5" y="130.3" width="2.4" height="2.4" fill="#ff2a0a"/><rect x="100.5" y="130.3" width="2.4" height="2.4" fill="#ff2a0a"/><rect x="102.5" y="130.3" width="2.4" height="2.4" fill="#ff2a0a"/><rect x="104.5" y="130.3" width="2.4" height="2.4" fill="#ff2a0a"/><rect x="106.5" y="130.3" width="2.4" height="2.4" fill="#ff2a0a"/><rect x="108.5" y="130.3" width="2.4" height="2.4" fill="#ff2a0a"/><rect x="98.5" y="132.3" width="2.4" height="2.4" fill="#ff2a0a"/><rect x="100.5" y="132.3" width="2.4" height="2.4" fill="#ff2a0a"/><rect x="102.5" y="132.3" width="2.4" height="2.4" fill="#ff2a0a"/><rect x="104.5" y="132.3" width="2.4" height="2.4" fill="#ff7c00"/><rect x="106.5" y="132.3" width="2.4" height="2.4" fill="#ff7c00"/><rect x="108.5" y="132.3" width="2.4" height="2.4" fill="#ff2a0a"/><rect x="110.5" y="132.3" width="2.4" height="2.4" fill="#ff2a0a"/><rect x="98.5" y="134.3" width="2.4" height="2.4" fill="#ff2a0a"/><rect x="100.5" y="134.3" width="2.4" height="2.4" fill="#ff2a0a"/><rect x="102.5" y="134.3" width="2.4" height="2.4" fill="#ff7c00"/><rect x="104.5" y="134.3" width="2.4" height="2.4" fill="#ffa400"/><rect x="106.5" y="134.3" width="2.4" height="2.4" fill="#ffa400"/><rect x="108.5" y="134.3" width="2.4" height="2.4" fill="#ff7c00"/><rect x="110.5" y="134.3" width="2.4" height="2.4" fill="#ff2a0a"/><rect x="98.5" y="136.3" width="2.4" height="2.4" fill="#ff2a0a"/><rect x="100.5" y="136.3" width="2.4" height="2.4" fill="#ff2a0a"/><rect x="102.5" y="136.3" width="2.4" height="2.4" fill="#ff7c00"/><rect x="104.5" y="136.3" width="2.4" height="2.4" fill="#ffa400"/><rect x="106.5" y="136.3" width="2.4" height="2.4" fill="#ffa400"/><rect x="108.5" y="136.3" width="2.4" height="2.4" fill="#ff7c00"/><rect x="110.5" y="136.3" width="2.4" height="2.4" fill="#ff2a0a"/><rect x="112.5" y="136.3" width="2.4" height="2.4" fill="#ff2a0a"/><rect x="98.5" y="138.3" width="2.4" height="2.4" fill="#ff2a0a"/><rect x="100.5" y="138.3" width="2.4" height="2.4" fill="#ff2a0a"/><rect x="102.5" y="138.3" width="2.4" height="2.4" fill="#ff7c00"/><rect x="104.5" y="138.3" width="2.4" height="2.4" fill="#ffa400"/><rect x="106.5" y="138.3" width="2.4" height="2.4" fill="#ffa400"/><rect x="108.5" y="138.3" width="2.4" height="2.4" fill="#ff7c00"/><rect x="110.5" y="138.3" width="2.4" height="2.4" fill="#ff2a0a"/><rect x="112.5" y="138.3" width="2.4" height="2.4" fill="#ff2a0a"/><rect x="100.5" y="140.3" width="2.4" height="2.4" fill="#ff2a0a"/><rect x="102.5" y="140.3" width="2.4" height="2.4" fill="#ff2a0a"/><rect x="104.5" y="140.3" width="2.4" height="2.4" fill="#ff7c00"/><rect x="106.5" y="140.3" width="2.4" height="2.4" fill="#ff7c00"/><rect x="108.5" y="140.3" width="2.4" height="2.4" fill="#ff2a0a"/><rect x="110.5" y="140.3" width="2.4" height="2.4" fill="#ff2a0a"/><rect x="112.5" y="140.3" width="2.4" height="2.4" fill="#ff2a0a"/><rect x="100.5" y="142.3" width="2.4" height="2.4" fill="#ff2a0a"/><rect x="102.5" y="142.3" width="2.4" height="2.4" fill="#ff2a0a"/><rect x="104.5" y="142.3" width="2.4" height="2.4" fill="#ff2a0a"/><rect x="106.5" y="142.3" width="2.4" height="2.4" fill="#ff2a0a"/><rect x="108.5" y="142.3" width="2.4" height="2.4" fill="#ff2a0a"/><rect x="110.5" y="142.3" width="2.4" height="2.4" fill="#ff2a0a"/><rect x="102.5" y="144.3" width="2.4" height="2.4" fill="#ff2a0a"/><rect x="104.5" y="144.3" width="2.4" height="2.4" fill="#ff2a0a"/><rect x="106.5" y="144.3" width="2.4" height="2.4" fill="#ff2a0a"/><rect x="108.5" y="144.3" width="2.4" height="2.4" fill="#ff2a0a"/>

</g>
<g transform="translate(854 61.8) scale(0.9972 1.0012)">
<rect x="0" y="0" width="177" height="211" fill="#000"/>
<g filter="url(#soft)">
<path d="M89 2.8 L92.2 2.8 L95.5 3 L98.7 3.3 L102 3.8 L105.2 4.4 L108.4 5.2 L111.6 6.1 L114.8 7.2 L117.9 8.5 L121 9.9 L124.1 11.6 L127.1 13.4 L130.1 15.4 L133 17.5 L135.8 19.8 L138.6 22.3 L141.3 25 L143.9 27.9 L146.4 30.9 L148.8 34 L151.1 37.3 L153.2 40.7 L155.3 44.3 L157.3 48 L159.1 51.8 L160.8 55.6 L162.4 59.6 L163.8 63.7 L165.1 67.9 L166.3 72.1 L167.4 76.3 L168.3 80.7 L169.1 85 L169.8 89.4 L170.3 93.8 L170.8 98.2 L171.1 102.7 L171.3 107.1 L171.5 111.6 L171.5 116 L171.5 119.3 L171.4 122.6 L171.3 125.9 L171.1 129.2 L170.8 132.6 L170.4 135.9 L169.9 139.2 L169.3 142.6 L168.5 145.9 L167.7 149.2 L166.7 152.5 L165.5 155.7 L164.2 158.9 L162.8 162 L161.1 165.1 L159.4 168.1 L157.5 170.9 L155.4 173.7 L153.2 176.4 L150.8 178.9 L148.3 181.3 L145.7 183.6 L143 185.7 L140.1 187.7 L137.2 189.5 L134.2 191.1 L131.1 192.6 L128 193.9 L124.8 195.1 L121.6 196.1 L118.3 197 L115.1 197.7 L111.8 198.4 L108.5 198.9 L105.3 199.3 L102 199.6 L98.7 199.8 L95.5 199.9 L92.2 200 L89 200 L85.8 200 L82.5 199.9 L79.3 199.8 L76 199.6 L72.7 199.3 L69.5 198.9 L66.2 198.4 L62.9 197.7 L59.7 197 L56.4 196.1 L53.2 195.1 L50 193.9 L46.9 192.6 L43.8 191.1 L40.8 189.5 L37.9 187.7 L35 185.7 L32.3 183.6 L29.7 181.3 L27.2 178.9 L24.8 176.4 L22.6 173.7 L20.5 170.9 L18.6 168.1 L16.9 165.1 L15.2 162 L13.8 158.9 L12.5 155.7 L11.3 152.5 L10.3 149.2 L9.5 145.9 L8.7 142.6 L8.1 139.2 L7.6 135.9 L7.2 132.6 L6.9 129.2 L6.7 125.9 L6.6 122.6 L6.5 119.3 L6.5 116 L6.5 111.6 L6.7 107.1 L6.9 102.7 L7.2 98.2 L7.7 93.8 L8.2 89.4 L8.9 85 L9.7 80.7 L10.6 76.3 L11.7 72.1 L12.9 67.9 L14.2 63.7 L15.6 59.6 L17.2 55.6 L18.9 51.8 L20.7 48 L22.7 44.3 L24.8 40.7 L26.9 37.3 L29.2 34 L31.6 30.9 L34.1 27.9 L36.7 25 L39.4 22.3 L42.2 19.8 L45 17.5 L47.9 15.4 L50.9 13.4 L53.9 11.6 L57 9.9 L60.1 8.5 L63.2 7.2 L66.4 6.1 L69.6 5.2 L72.8 4.4 L76 3.8 L79.3 3.3 L82.5 3 L85.8 2.8Z" fill="#545454" stroke="#bcbcbc" stroke-width="1.3"/>
<path d="M89 8 L91.9 8 L94.9 8.2 L97.8 8.5 L100.8 8.9 L103.7 9.5 L106.6 10.3 L109.5 11.2 L112.4 12.2 L115.2 13.4 L118.1 14.8 L120.9 16.4 L123.6 18.1 L126.3 20 L128.9 22 L131.5 24.3 L134 26.6 L136.5 29.2 L138.8 31.9 L141.1 34.8 L143.3 37.8 L145.3 40.9 L147.3 44.2 L149.2 47.6 L151 51.1 L152.6 54.7 L154.2 58.4 L155.6 62.2 L156.9 66.1 L158.1 70.1 L159.2 74.1 L160.1 78.2 L161 82.3 L161.7 86.4 L162.3 90.6 L162.8 94.8 L163.2 99 L163.5 103.3 L163.8 107.5 L163.9 111.8 L163.9 116 L163.9 119.1 L163.8 122.2 L163.7 125.4 L163.5 128.5 L163.3 131.6 L162.9 134.8 L162.5 137.9 L161.9 141 L161.2 144.2 L160.4 147.3 L159.5 150.4 L158.5 153.4 L157.3 156.4 L156 159.4 L154.5 162.3 L152.9 165.1 L151.1 167.8 L149.3 170.4 L147.3 172.9 L145.1 175.3 L142.8 177.6 L140.5 179.7 L138 181.7 L135.4 183.6 L132.8 185.3 L130 186.8 L127.2 188.2 L124.4 189.5 L121.5 190.6 L118.6 191.5 L115.6 192.4 L112.7 193.1 L109.7 193.7 L106.7 194.1 L103.8 194.5 L100.8 194.8 L97.8 195 L94.9 195.1 L91.9 195.2 L89 195.2 L86.1 195.2 L83.1 195.1 L80.2 195 L77.2 194.8 L74.2 194.5 L71.3 194.1 L68.3 193.7 L65.3 193.1 L62.4 192.4 L59.4 191.5 L56.5 190.6 L53.6 189.5 L50.8 188.2 L48 186.8 L45.2 185.3 L42.6 183.6 L40 181.7 L37.5 179.7 L35.2 177.6 L32.9 175.3 L30.7 172.9 L28.7 170.4 L26.9 167.8 L25.1 165.1 L23.5 162.3 L22 159.4 L20.7 156.4 L19.5 153.4 L18.5 150.4 L17.6 147.3 L16.8 144.2 L16.1 141 L15.5 137.9 L15.1 134.8 L14.7 131.6 L14.5 128.5 L14.3 125.4 L14.2 122.2 L14.1 119.1 L14.1 116 L14.1 111.8 L14.2 107.5 L14.5 103.3 L14.8 99 L15.2 94.8 L15.7 90.6 L16.3 86.4 L17 82.3 L17.9 78.2 L18.8 74.1 L19.9 70.1 L21.1 66.1 L22.4 62.2 L23.8 58.4 L25.4 54.7 L27 51.1 L28.8 47.6 L30.7 44.2 L32.7 40.9 L34.7 37.8 L36.9 34.8 L39.2 31.9 L41.5 29.2 L44 26.6 L46.5 24.3 L49.1 22 L51.7 20 L54.4 18.1 L57.1 16.4 L59.9 14.8 L62.8 13.4 L65.6 12.2 L68.5 11.2 L71.4 10.3 L74.3 9.5 L77.2 8.9 L80.2 8.5 L83.1 8.2 L86.1 8Z" fill="#060606" stroke="#cacaca" stroke-width="1.4"/>

<clipPath id="bc5"><path d="M89 15.4 L91.7 15.4 L94.4 15.5 L97.1 15.8 L99.9 16.1 L102.6 16.6 L105.3 17.2 L108 17.9 L110.7 18.8 L113.3 19.9 L116 21.1 L118.6 22.5 L121.2 24.1 L123.7 25.8 L126.2 27.7 L128.7 29.8 L131 32 L133.3 34.4 L135.5 37 L137.7 39.7 L139.7 42.6 L141.6 45.6 L143.5 48.8 L145.2 52.1 L146.8 55.5 L148.3 59 L149.7 62.7 L151 66.4 L152.2 70.1 L153.2 74 L154.2 77.9 L155 81.8 L155.7 85.8 L156.3 89.8 L156.8 93.8 L157.2 97.8 L157.5 101.9 L157.7 105.9 L157.9 109.9 L158 114 L158 118 L158 120.6 L158 123.2 L157.9 125.9 L157.7 128.5 L157.5 131.1 L157.2 133.8 L156.9 136.4 L156.4 139.1 L155.8 141.8 L155.2 144.4 L154.4 147 L153.5 149.7 L152.4 152.2 L151.2 154.8 L149.9 157.2 L148.5 159.6 L146.9 162 L145.1 164.2 L143.3 166.4 L141.3 168.4 L139.2 170.3 L137 172.1 L134.6 173.8 L132.2 175.3 L129.7 176.7 L127.1 178 L124.5 179.1 L121.8 180.1 L119.1 181 L116.4 181.8 L113.7 182.4 L110.9 183 L108.1 183.4 L105.4 183.8 L102.6 184 L99.9 184.2 L97.2 184.4 L94.4 184.5 L91.7 184.5 L89 184.5 L86.3 184.5 L83.6 184.5 L80.8 184.4 L78.1 184.2 L75.4 184 L72.6 183.8 L69.9 183.4 L67.1 183 L64.3 182.4 L61.6 181.8 L58.9 181 L56.2 180.1 L53.5 179.1 L50.9 178 L48.3 176.7 L45.8 175.3 L43.4 173.8 L41 172.1 L38.8 170.3 L36.7 168.4 L34.7 166.4 L32.9 164.2 L31.1 162 L29.5 159.6 L28.1 157.2 L26.8 154.8 L25.6 152.2 L24.5 149.7 L23.6 147 L22.8 144.4 L22.2 141.8 L21.6 139.1 L21.1 136.4 L20.8 133.8 L20.5 131.1 L20.3 128.5 L20.1 125.9 L20 123.2 L20 120.6 L20 118 L20 114 L20.1 109.9 L20.3 105.9 L20.5 101.9 L20.8 97.8 L21.2 93.8 L21.7 89.8 L22.3 85.8 L23 81.8 L23.8 77.9 L24.8 74 L25.8 70.1 L27 66.4 L28.3 62.7 L29.7 59 L31.2 55.5 L32.8 52.1 L34.5 48.8 L36.4 45.6 L38.3 42.6 L40.3 39.7 L42.5 37 L44.7 34.4 L47 32 L49.3 29.8 L51.8 27.7 L54.3 25.8 L56.8 24.1 L59.4 22.5 L62 21.1 L64.7 19.9 L67.3 18.8 L70 17.9 L72.7 17.2 L75.4 16.6 L78.1 16.1 L80.9 15.8 L83.6 15.5 L86.3 15.4Z"/></clipPath>
<g clip-path="url(#bc5)">
<path d="M89 15.4 L91.7 15.4 L94.4 15.5 L97.1 15.8 L99.9 16.1 L102.6 16.6 L105.3 17.2 L108 17.9 L110.7 18.8 L113.3 19.9 L116 21.1 L118.6 22.5 L121.2 24.1 L123.7 25.8 L126.2 27.7 L128.7 29.8 L131 32 L133.3 34.4 L135.5 37 L137.7 39.7 L139.7 42.6 L141.6 45.6 L143.5 48.8 L145.2 52.1 L146.8 55.5 L148.3 59 L149.7 62.7 L151 66.4 L152.2 70.1 L153.2 74 L154.2 77.9 L155 81.8 L155.7 85.8 L156.3 89.8 L156.8 93.8 L157.2 97.8 L157.5 101.9 L157.7 105.9 L157.9 109.9 L158 114 L158 118 L158 120.6 L158 123.2 L157.9 125.9 L157.7 128.5 L157.5 131.1 L157.2 133.8 L156.9 136.4 L156.4 139.1 L155.8 141.8 L155.2 144.4 L154.4 147 L153.5 149.7 L152.4 152.2 L151.2 154.8 L149.9 157.2 L148.5 159.6 L146.9 162 L145.1 164.2 L143.3 166.4 L141.3 168.4 L139.2 170.3 L137 172.1 L134.6 173.8 L132.2 175.3 L129.7 176.7 L127.1 178 L124.5 179.1 L121.8 180.1 L119.1 181 L116.4 181.8 L113.7 182.4 L110.9 183 L108.1 183.4 L105.4 183.8 L102.6 184 L99.9 184.2 L97.2 184.4 L94.4 184.5 L91.7 184.5 L89 184.5 L86.3 184.5 L83.6 184.5 L80.8 184.4 L78.1 184.2 L75.4 184 L72.6 183.8 L69.9 183.4 L67.1 183 L64.3 182.4 L61.6 181.8 L58.9 181 L56.2 180.1 L53.5 179.1 L50.9 178 L48.3 176.7 L45.8 175.3 L43.4 173.8 L41 172.1 L38.8 170.3 L36.7 168.4 L34.7 166.4 L32.9 164.2 L31.1 162 L29.5 159.6 L28.1 157.2 L26.8 154.8 L25.6 152.2 L24.5 149.7 L23.6 147 L22.8 144.4 L22.2 141.8 L21.6 139.1 L21.1 136.4 L20.8 133.8 L20.5 131.1 L20.3 128.5 L20.1 125.9 L20 123.2 L20 120.6 L20 118 L20 114 L20.1 109.9 L20.3 105.9 L20.5 101.9 L20.8 97.8 L21.2 93.8 L21.7 89.8 L22.3 85.8 L23 81.8 L23.8 77.9 L24.8 74 L25.8 70.1 L27 66.4 L28.3 62.7 L29.7 59 L31.2 55.5 L32.8 52.1 L34.5 48.8 L36.4 45.6 L38.3 42.6 L40.3 39.7 L42.5 37 L44.7 34.4 L47 32 L49.3 29.8 L51.8 27.7 L54.3 25.8 L56.8 24.1 L59.4 22.5 L62 21.1 L64.7 19.9 L67.3 18.8 L70 17.9 L72.7 17.2 L75.4 16.6 L78.1 16.1 L80.9 15.8 L83.6 15.5 L86.3 15.4Z" fill="#b3b3b3"/>

<path d="M89 15.4 L91.7 15.4 L94.4 15.5 L97.1 15.8 L99.9 16.1 L102.6 16.6 L105.3 17.2 L108 17.9 L110.7 18.8 L113.3 19.9 L116 21.1 L118.6 22.5 L121.2 24.1 L123.7 25.8 L126.2 27.7 L128.7 29.8 L131 32 L133.3 34.4 L135.5 37 L137.7 39.7 L139.7 42.6 L141.6 45.6 L143.5 48.8 L145.2 52.1 L146.8 55.5 L148.3 59 L149.7 62.7 L151 66.4 L152.2 70.1 L153.2 74 L154.2 77.9 L155 81.8 L155.7 85.8 L156.3 89.8 L156.8 93.8 L157.2 97.8 L157.5 101.9 L157.7 105.9 L157.9 109.9 L158 114 L158 118 L158 120.6 L158 123.2 L157.9 125.9 L157.7 128.5 L157.5 131.1 L157.2 133.8 L156.9 136.4 L156.4 139.1 L155.8 141.8 L155.2 144.4 L154.4 147 L153.5 149.7 L152.4 152.2 L151.2 154.8 L149.9 157.2 L148.5 159.6 L146.9 162 L145.1 164.2 L143.3 166.4 L141.3 168.4 L139.2 170.3 L137 172.1 L134.6 173.8 L132.2 175.3 L129.7 176.7 L127.1 178 L124.5 179.1 L121.8 180.1 L119.1 181 L116.4 181.8 L113.7 182.4 L110.9 183 L108.1 183.4 L105.4 183.8 L102.6 184 L99.9 184.2 L97.2 184.4 L94.4 184.5 L91.7 184.5 L89 184.5 L86.3 184.5 L83.6 184.5 L80.8 184.4 L78.1 184.2 L75.4 184 L72.6 183.8 L69.9 183.4 L67.1 183 L64.3 182.4 L61.6 181.8 L58.9 181 L56.2 180.1 L53.5 179.1 L50.9 178 L48.3 176.7 L45.8 175.3 L43.4 173.8 L41 172.1 L38.8 170.3 L36.7 168.4 L34.7 166.4 L32.9 164.2 L31.1 162 L29.5 159.6 L28.1 157.2 L26.8 154.8 L25.6 152.2 L24.5 149.7 L23.6 147 L22.8 144.4 L22.2 141.8 L21.6 139.1 L21.1 136.4 L20.8 133.8 L20.5 131.1 L20.3 128.5 L20.1 125.9 L20 123.2 L20 120.6 L20 118 L20 114 L20.1 109.9 L20.3 105.9 L20.5 101.9 L20.8 97.8 L21.2 93.8 L21.7 89.8 L22.3 85.8 L23 81.8 L23.8 77.9 L24.8 74 L25.8 70.1 L27 66.4 L28.3 62.7 L29.7 59 L31.2 55.5 L32.8 52.1 L34.5 48.8 L36.4 45.6 L38.3 42.6 L40.3 39.7 L42.5 37 L44.7 34.4 L47 32 L49.3 29.8 L51.8 27.7 L54.3 25.8 L56.8 24.1 L59.4 22.5 L62 21.1 L64.7 19.9 L67.3 18.8 L70 17.9 L72.7 17.2 L75.4 16.6 L78.1 16.1 L80.9 15.8 L83.6 15.5 L86.3 15.4Z" fill="none" stroke="#787878" stroke-width="8"/>
<path d="M89 15.4 Q87.4 20.3 87.9 25.5 Q85.8 30.8 87 35.6 M87.9 26.3 Q84 27.7 79.9 28.7 M98 15.9 Q94.5 19.6 94.9 21.9 Q94.8 25.8 93 28.4 M109.8 18.5 Q106.1 23 104.7 26.2 Q102.5 28.7 99.2 33.5 M102.2 29.2 Q101.7 34.1 102.4 38.9 M122 24.6 Q118.4 29.5 118.4 33.5 Q115.9 38 112.4 41.1 M117.1 33 Q114.2 32.8 111.2 32.2 M131 32 Q129.1 34.5 125.9 35.7 Q124.1 35.9 120.7 39 M140.4 43.6 Q137.5 46.7 137.4 48.7 Q135.2 51.6 132.5 51.9 M146.3 54.4 Q143.5 57.9 141.8 59.9 Q138.5 60.5 135.9 63.9 M153.2 74 Q147.9 73.3 143.2 73 Q138.3 70.3 133.5 70.6 M155.9 87.1 Q151.6 85.4 147.4 86.4 Q143.1 87.8 138.9 87.1 M157.4 100.5 Q154.7 102.9 152 101.3 Q149.2 99.1 146.5 101.1 M158 120.6 Q154.3 120.6 151 117.5 Q148 115.4 144 114.5 M147.2 115.9 Q144.1 117.8 141.7 119.4 M157.7 129.4 Q153.8 129.1 150.2 127.9 Q146.1 127 142.5 127.5 M156 140.9 Q151.8 138.9 147.6 136.3 Q143.2 134.6 138.4 133.8 M152 153.1 Q149.4 151.9 147.5 149.5 Q145.2 146.8 142.4 146.8 M147.4 150.1 Q146.4 146.2 144.2 141.6 M145.1 164.2 Q141.5 162.4 139.8 161.8 Q138.9 158.6 136.1 157.2 M139.9 169.7 Q139.6 165.2 138.2 159.5 Q137.5 155.5 132.7 150.8 M128 177.6 Q125.3 173.2 123.1 170.9 Q121.5 166.4 119 163.8 M118.2 181.3 Q120.4 176.7 118.8 172.8 Q122.9 169.3 122.9 165.3 M103.5 183.9 Q104.3 179.1 101.7 174.3 Q104 169.4 102.9 164.5 M97.2 184.4 Q93.3 181.8 90.4 177.7 Q87.4 173.2 86.4 169.1 M80.8 184.4 Q78.4 180.3 77.4 176 Q78.6 171.9 77.1 166.9 M76.3 184.1 Q77.9 180.6 77 177.1 Q79.2 173.5 77.2 170.1 M76.8 175.6 Q74.2 172.9 71.1 169.7 M58.9 181 Q60.8 176.8 65.4 173.5 Q65.4 167.8 68.2 163.9 M49.1 177.1 Q50.5 172.3 54.9 168.8 Q57.5 163.7 56.8 158.8 M38.1 169.7 Q41.7 166.9 42 163.7 Q45.9 161.9 46.8 158.4 M33.5 164.9 Q37.4 162.8 41.4 161.5 Q45.1 159.9 49.9 159.7 M25.2 151.4 Q28 148.2 29.7 143 Q33.2 139.2 34.8 135 M30.7 142.1 Q29.8 138 28.9 133.9 M22.6 143.5 Q25.7 144.2 28.4 141.3 Q31.8 141.9 34.5 139.9 M20.4 130.3 Q25.5 129.1 29.1 126.7 Q31 122.7 35.4 119.8 M27.7 125.2 Q27.8 120.5 26.2 115.5 M20 121.5 Q23.5 121.2 26 121.6 Q28 119.4 30.9 118.3 M20.5 101.9 Q24 99.8 26.3 98.2 Q30.1 95.7 32.7 95.8 M26.3 99 Q28.7 97.3 30.9 94.4 M22.1 87.1 Q25.2 88.2 28.4 88.1 Q31.5 89.8 34.6 87.1 M24.5 75.3 Q28.7 75.6 32.8 77 Q37.4 79.6 41.1 78.8 M28.3 62.7 Q30.6 64.8 33.7 66.3 Q37.6 68.5 39.9 68.3 M36.3 66.5 Q40 65 43.9 65.6 M38.3 42.6 Q41.3 45 40.5 48.1 Q41.3 50.6 41.6 53.9 M43.9 35.3 Q43.6 40.3 46.5 44.6 Q50.8 48.1 52.1 52.4 M47.8 43.4 Q52.8 43 57.8 43.3 M54.3 25.8 Q55.9 28.7 59.8 31.8 Q64.7 34.5 67.2 35 M67.3 18.8 Q64.8 21.4 66.5 24.1 Q67 26.6 67.7 29.2 M67.5 24.3 Q69 27.4 70.8 29.1 M74.5 16.8 Q77.2 19.7 79.9 23.3 Q83.1 27.2 84.4 30.5 M82.4 27.6 Q86.8 26.6 91.2 27.5" fill="none" stroke="#787878" stroke-width="8.0" stroke-linecap="round" stroke-linejoin="round"/><path d="M89 15.4 Q87.4 20.3 87.9 25.5 Q85.8 30.8 87 35.6 M87.9 26.3 Q84 27.7 79.9 28.7 M98 15.9 Q94.5 19.6 94.9 21.9 Q94.8 25.8 93 28.4 M109.8 18.5 Q106.1 23 104.7 26.2 Q102.5 28.7 99.2 33.5 M102.2 29.2 Q101.7 34.1 102.4 38.9 M122 24.6 Q118.4 29.5 118.4 33.5 Q115.9 38 112.4 41.1 M117.1 33 Q114.2 32.8 111.2 32.2 M131 32 Q129.1 34.5 125.9 35.7 Q124.1 35.9 120.7 39 M140.4 43.6 Q137.5 46.7 137.4 48.7 Q135.2 51.6 132.5 51.9 M146.3 54.4 Q143.5 57.9 141.8 59.9 Q138.5 60.5 135.9 63.9 M153.2 74 Q147.9 73.3 143.2 73 Q138.3 70.3 133.5 70.6 M155.9 87.1 Q151.6 85.4 147.4 86.4 Q143.1 87.8 138.9 87.1 M157.4 100.5 Q154.7 102.9 152 101.3 Q149.2 99.1 146.5 101.1 M158 120.6 Q154.3 120.6 151 117.5 Q148 115.4 144 114.5 M147.2 115.9 Q144.1 117.8 141.7 119.4 M157.7 129.4 Q153.8 129.1 150.2 127.9 Q146.1 127 142.5 127.5 M156 140.9 Q151.8 138.9 147.6 136.3 Q143.2 134.6 138.4 133.8 M152 153.1 Q149.4 151.9 147.5 149.5 Q145.2 146.8 142.4 146.8 M147.4 150.1 Q146.4 146.2 144.2 141.6 M145.1 164.2 Q141.5 162.4 139.8 161.8 Q138.9 158.6 136.1 157.2 M139.9 169.7 Q139.6 165.2 138.2 159.5 Q137.5 155.5 132.7 150.8 M128 177.6 Q125.3 173.2 123.1 170.9 Q121.5 166.4 119 163.8 M118.2 181.3 Q120.4 176.7 118.8 172.8 Q122.9 169.3 122.9 165.3 M103.5 183.9 Q104.3 179.1 101.7 174.3 Q104 169.4 102.9 164.5 M97.2 184.4 Q93.3 181.8 90.4 177.7 Q87.4 173.2 86.4 169.1 M80.8 184.4 Q78.4 180.3 77.4 176 Q78.6 171.9 77.1 166.9 M76.3 184.1 Q77.9 180.6 77 177.1 Q79.2 173.5 77.2 170.1 M76.8 175.6 Q74.2 172.9 71.1 169.7 M58.9 181 Q60.8 176.8 65.4 173.5 Q65.4 167.8 68.2 163.9 M49.1 177.1 Q50.5 172.3 54.9 168.8 Q57.5 163.7 56.8 158.8 M38.1 169.7 Q41.7 166.9 42 163.7 Q45.9 161.9 46.8 158.4 M33.5 164.9 Q37.4 162.8 41.4 161.5 Q45.1 159.9 49.9 159.7 M25.2 151.4 Q28 148.2 29.7 143 Q33.2 139.2 34.8 135 M30.7 142.1 Q29.8 138 28.9 133.9 M22.6 143.5 Q25.7 144.2 28.4 141.3 Q31.8 141.9 34.5 139.9 M20.4 130.3 Q25.5 129.1 29.1 126.7 Q31 122.7 35.4 119.8 M27.7 125.2 Q27.8 120.5 26.2 115.5 M20 121.5 Q23.5 121.2 26 121.6 Q28 119.4 30.9 118.3 M20.5 101.9 Q24 99.8 26.3 98.2 Q30.1 95.7 32.7 95.8 M26.3 99 Q28.7 97.3 30.9 94.4 M22.1 87.1 Q25.2 88.2 28.4 88.1 Q31.5 89.8 34.6 87.1 M24.5 75.3 Q28.7 75.6 32.8 77 Q37.4 79.6 41.1 78.8 M28.3 62.7 Q30.6 64.8 33.7 66.3 Q37.6 68.5 39.9 68.3 M36.3 66.5 Q40 65 43.9 65.6 M38.3 42.6 Q41.3 45 40.5 48.1 Q41.3 50.6 41.6 53.9 M43.9 35.3 Q43.6 40.3 46.5 44.6 Q50.8 48.1 52.1 52.4 M47.8 43.4 Q52.8 43 57.8 43.3 M54.3 25.8 Q55.9 28.7 59.8 31.8 Q64.7 34.5 67.2 35 M67.3 18.8 Q64.8 21.4 66.5 24.1 Q67 26.6 67.7 29.2 M67.5 24.3 Q69 27.4 70.8 29.1 M74.5 16.8 Q77.2 19.7 79.9 23.3 Q83.1 27.2 84.4 30.5 M82.4 27.6 Q86.8 26.6 91.2 27.5" fill="none" stroke="#3c3c3c" stroke-width="1.7" stroke-linecap="round" stroke-linejoin="round"/>
<path d="M88.8 12 L88.8 76" fill="none" stroke="#7c7c7c" stroke-width="6" stroke-linecap="round" stroke-linejoin="round"/><path d="M88.8 134 L88.8 188" fill="none" stroke="#7c7c7c" stroke-width="6" stroke-linecap="round" stroke-linejoin="round"/><path d="M88.8 12 L88.8 76" fill="none" stroke="#383838" stroke-width="1.4" stroke-linecap="round" stroke-linejoin="round"/><path d="M88.8 134 L88.8 188" fill="none" stroke="#383838" stroke-width="1.4" stroke-linecap="round" stroke-linejoin="round"/><ellipse cx="83.8" cy="36" rx="5.6" ry="4.8" fill="#8a8a8a"/><ellipse cx="94.8" cy="40" rx="5.6" ry="4.8" fill="#8d8d8d"/><ellipse cx="83.8" cy="36" rx="2.4" ry="2" fill="#666"/><ellipse cx="94.8" cy="40" rx="2.4" ry="2" fill="#6a6a6a"/><ellipse cx="83.8" cy="52" rx="6.3" ry="5.4" fill="#8a8a8a"/><ellipse cx="94.8" cy="56" rx="6.3" ry="5.4" fill="#8d8d8d"/><ellipse cx="83.8" cy="52" rx="2.7" ry="2.2" fill="#666"/><ellipse cx="94.8" cy="56" rx="2.7" ry="2.2" fill="#6a6a6a"/><ellipse cx="83.8" cy="68" rx="4.9" ry="4.2" fill="#8a8a8a"/><ellipse cx="94.8" cy="72" rx="4.9" ry="4.2" fill="#8d8d8d"/><ellipse cx="83.8" cy="68" rx="2.1" ry="1.8" fill="#666"/><ellipse cx="94.8" cy="72" rx="2.1" ry="1.8" fill="#6a6a6a"/><ellipse cx="83.8" cy="146" rx="5.6" ry="4.8" fill="#8a8a8a"/><ellipse cx="94.8" cy="150" rx="5.6" ry="4.8" fill="#8d8d8d"/><ellipse cx="83.8" cy="146" rx="2.4" ry="2" fill="#666"/><ellipse cx="94.8" cy="150" rx="2.4" ry="2" fill="#6a6a6a"/><ellipse cx="83.8" cy="160" rx="6.3" ry="5.4" fill="#8a8a8a"/><ellipse cx="94.8" cy="164" rx="6.3" ry="5.4" fill="#8d8d8d"/><ellipse cx="83.8" cy="160" rx="2.7" ry="2.2" fill="#666"/><ellipse cx="94.8" cy="164" rx="2.7" ry="2.2" fill="#6a6a6a"/><ellipse cx="83.8" cy="174" rx="4.9" ry="4.2" fill="#8a8a8a"/><ellipse cx="94.8" cy="178" rx="4.9" ry="4.2" fill="#8d8d8d"/><ellipse cx="83.8" cy="174" rx="2.1" ry="1.8" fill="#666"/><ellipse cx="94.8" cy="178" rx="2.1" ry="1.8" fill="#6a6a6a"/><ellipse cx="103.8" cy="152" rx="6" ry="7" fill="#8e8e8e"/><path d="M73.5 76.6 C80 84 86.5 95 84.8 104 C82 114 72 124 66 130.5 L62.6 125 C65 112 68 92 71.3 79.5Z" fill="#2c2c2c"/><path d="M101.8 82 C95.5 88 89.3 96 90.3 103.5 C93 113 104 123 111.6 129.5 L114.8 124 C112 112 108 94 104.7 83Z" fill="#2c2c2c"/>
<path d="M89 15.4 L91.7 15.4 L94.4 15.5 L97.1 15.8 L99.9 16.1 L102.6 16.6 L105.3 17.2 L108 17.9 L110.7 18.8 L113.3 19.9 L116 21.1 L118.6 22.5 L121.2 24.1 L123.7 25.8 L126.2 27.7 L128.7 29.8 L131 32 L133.3 34.4 L135.5 37 L137.7 39.7 L139.7 42.6 L141.6 45.6 L143.5 48.8 L145.2 52.1 L146.8 55.5 L148.3 59 L149.7 62.7 L151 66.4 L152.2 70.1 L153.2 74 L154.2 77.9 L155 81.8 L155.7 85.8 L156.3 89.8 L156.8 93.8 L157.2 97.8 L157.5 101.9 L157.7 105.9 L157.9 109.9 L158 114 L158 118 L158 120.6 L158 123.2 L157.9 125.9 L157.7 128.5 L157.5 131.1 L157.2 133.8 L156.9 136.4 L156.4 139.1 L155.8 141.8 L155.2 144.4 L154.4 147 L153.5 149.7 L152.4 152.2 L151.2 154.8 L149.9 157.2 L148.5 159.6 L146.9 162 L145.1 164.2 L143.3 166.4 L141.3 168.4 L139.2 170.3 L137 172.1 L134.6 173.8 L132.2 175.3 L129.7 176.7 L127.1 178 L124.5 179.1 L121.8 180.1 L119.1 181 L116.4 181.8 L113.7 182.4 L110.9 183 L108.1 183.4 L105.4 183.8 L102.6 184 L99.9 184.2 L97.2 184.4 L94.4 184.5 L91.7 184.5 L89 184.5 L86.3 184.5 L83.6 184.5 L80.8 184.4 L78.1 184.2 L75.4 184 L72.6 183.8 L69.9 183.4 L67.1 183 L64.3 182.4 L61.6 181.8 L58.9 181 L56.2 180.1 L53.5 179.1 L50.9 178 L48.3 176.7 L45.8 175.3 L43.4 173.8 L41 172.1 L38.8 170.3 L36.7 168.4 L34.7 166.4 L32.9 164.2 L31.1 162 L29.5 159.6 L28.1 157.2 L26.8 154.8 L25.6 152.2 L24.5 149.7 L23.6 147 L22.8 144.4 L22.2 141.8 L21.6 139.1 L21.1 136.4 L20.8 133.8 L20.5 131.1 L20.3 128.5 L20.1 125.9 L20 123.2 L20 120.6 L20 118 L20 114 L20.1 109.9 L20.3 105.9 L20.5 101.9 L20.8 97.8 L21.2 93.8 L21.7 89.8 L22.3 85.8 L23 81.8 L23.8 77.9 L24.8 74 L25.8 70.1 L27 66.4 L28.3 62.7 L29.7 59 L31.2 55.5 L32.8 52.1 L34.5 48.8 L36.4 45.6 L38.3 42.6 L40.3 39.7 L42.5 37 L44.7 34.4 L47 32 L49.3 29.8 L51.8 27.7 L54.3 25.8 L56.8 24.1 L59.4 22.5 L62 21.1 L64.7 19.9 L67.3 18.8 L70 17.9 L72.7 17.2 L75.4 16.6 L78.1 16.1 L80.9 15.8 L83.6 15.5 L86.3 15.4Z" fill="none" stroke="#2c2c2c" stroke-width="1.6"/>
</g>

</g>
<path d="M89 2.8 L92.2 2.8 L95.5 3 L98.7 3.3 L102 3.8 L105.2 4.4 L108.4 5.2 L111.6 6.1 L114.8 7.2 L117.9 8.5 L121 9.9 L124.1 11.6 L127.1 13.4 L130.1 15.4 L133 17.5 L135.8 19.8 L138.6 22.3 L141.3 25 L143.9 27.9 L146.4 30.9 L148.8 34 L151.1 37.3 L153.2 40.7 L155.3 44.3 L157.3 48 L159.1 51.8 L160.8 55.6 L162.4 59.6 L163.8 63.7 L165.1 67.9 L166.3 72.1 L167.4 76.3 L168.3 80.7 L169.1 85 L169.8 89.4 L170.3 93.8 L170.8 98.2 L171.1 102.7 L171.3 107.1 L171.5 111.6 L171.5 116 L171.5 119.3 L171.4 122.6 L171.3 125.9 L171.1 129.2 L170.8 132.6 L170.4 135.9 L169.9 139.2 L169.3 142.6 L168.5 145.9 L167.7 149.2 L166.7 152.5 L165.5 155.7 L164.2 158.9 L162.8 162 L161.1 165.1 L159.4 168.1 L157.5 170.9 L155.4 173.7 L153.2 176.4 L150.8 178.9 L148.3 181.3 L145.7 183.6 L143 185.7 L140.1 187.7 L137.2 189.5 L134.2 191.1 L131.1 192.6 L128 193.9 L124.8 195.1 L121.6 196.1 L118.3 197 L115.1 197.7 L111.8 198.4 L108.5 198.9 L105.3 199.3 L102 199.6 L98.7 199.8 L95.5 199.9 L92.2 200 L89 200 L85.8 200 L82.5 199.9 L79.3 199.8 L76 199.6 L72.7 199.3 L69.5 198.9 L66.2 198.4 L62.9 197.7 L59.7 197 L56.4 196.1 L53.2 195.1 L50 193.9 L46.9 192.6 L43.8 191.1 L40.8 189.5 L37.9 187.7 L35 185.7 L32.3 183.6 L29.7 181.3 L27.2 178.9 L24.8 176.4 L22.6 173.7 L20.5 170.9 L18.6 168.1 L16.9 165.1 L15.2 162 L13.8 158.9 L12.5 155.7 L11.3 152.5 L10.3 149.2 L9.5 145.9 L8.7 142.6 L8.1 139.2 L7.6 135.9 L7.2 132.6 L6.9 129.2 L6.7 125.9 L6.6 122.6 L6.5 119.3 L6.5 116 L6.5 111.6 L6.7 107.1 L6.9 102.7 L7.2 98.2 L7.7 93.8 L8.2 89.4 L8.9 85 L9.7 80.7 L10.6 76.3 L11.7 72.1 L12.9 67.9 L14.2 63.7 L15.6 59.6 L17.2 55.6 L18.9 51.8 L20.7 48 L22.7 44.3 L24.8 40.7 L26.9 37.3 L29.2 34 L31.6 30.9 L34.1 27.9 L36.7 25 L39.4 22.3 L42.2 19.8 L45 17.5 L47.9 15.4 L50.9 13.4 L53.9 11.6 L57 9.9 L60.1 8.5 L63.2 7.2 L66.4 6.1 L69.6 5.2 L72.8 4.4 L76 3.8 L79.3 3.3 L82.5 3 L85.8 2.8Z" fill="#808080" filter="url(#grain)" opacity="0.3" style="mix-blend-mode:overlay"/>
<rect x="44.3" y="165.5" width="2.4" height="2.4" fill="#d40000"/><rect x="46.2" y="165.5" width="2.4" height="2.4" fill="#d40000"/><rect x="48.1" y="165.5" width="2.4" height="2.4" fill="#e81000"/><rect x="50" y="165.5" width="2.4" height="2.4" fill="#e81000"/><rect x="51.9" y="165.5" width="2.4" height="2.4" fill="#e81000"/><rect x="44.3" y="167.4" width="2.4" height="2.4" fill="#d40000"/><rect x="46.2" y="167.4" width="2.4" height="2.4" fill="#e81000"/><rect x="48.1" y="167.4" width="2.4" height="2.4" fill="#e81000"/><rect x="50" y="167.4" width="2.4" height="2.4" fill="#e81000"/><rect x="51.9" y="167.4" width="2.4" height="2.4" fill="#e81000"/><rect x="53.8" y="167.4" width="2.4" height="2.4" fill="#e81000"/><rect x="46.2" y="169.3" width="2.4" height="2.4" fill="#e81000"/><rect x="48.1" y="169.3" width="2.4" height="2.4" fill="#e81000"/><rect x="50" y="169.3" width="2.4" height="2.4" fill="#e81000"/><rect x="51.9" y="169.3" width="2.4" height="2.4" fill="#e81000"/><rect x="53.8" y="169.3" width="2.4" height="2.4" fill="#e81000"/><rect x="55.7" y="169.3" width="2.4" height="2.4" fill="#ffffd8"/><rect x="46.2" y="171.2" width="2.4" height="2.4" fill="#d40000"/><rect x="48.1" y="171.2" width="2.4" height="2.4" fill="#e81000"/><rect x="50" y="171.2" width="2.4" height="2.4" fill="#e81000"/><rect x="51.9" y="171.2" width="2.4" height="2.4" fill="#e81000"/><rect x="53.8" y="171.2" width="2.4" height="2.4" fill="#e81000"/><rect x="48.1" y="173.1" width="2.4" height="2.4" fill="#d40000"/><rect x="50" y="173.1" width="2.4" height="2.4" fill="#d40000"/><rect x="51.9" y="173.1" width="2.4" height="2.4" fill="#e81000"/><rect x="130.3" y="157.3" width="2.4" height="2.4" fill="#e81000"/><rect x="132.2" y="157.3" width="2.4" height="2.4" fill="#e81000"/><rect x="134.1" y="157.3" width="2.4" height="2.4" fill="#e81000"/><rect x="136" y="157.3" width="2.4" height="2.4" fill="#e81000"/><rect x="137.9" y="157.3" width="2.4" height="2.4" fill="#e81000"/><rect x="128.4" y="159.2" width="2.4" height="2.4" fill="#e81000"/><rect x="130.3" y="159.2" width="2.4" height="2.4" fill="#e81000"/><rect x="132.2" y="159.2" width="2.4" height="2.4" fill="#e81000"/><rect x="134.1" y="159.2" width="2.4" height="2.4" fill="#e81000"/><rect x="136" y="159.2" width="2.4" height="2.4" fill="#e81000"/><rect x="137.9" y="159.2" width="2.4" height="2.4" fill="#e81000"/><rect x="126.5" y="161.1" width="2.4" height="2.4" fill="#d40000"/><rect x="128.4" y="161.1" width="2.4" height="2.4" fill="#e81000"/><rect x="130.3" y="161.1" width="2.4" height="2.4" fill="#e81000"/><rect x="132.2" y="161.1" width="2.4" height="2.4" fill="#e81000"/><rect x="134.1" y="161.1" width="2.4" height="2.4" fill="#e81000"/><rect x="136" y="161.1" width="2.4" height="2.4" fill="#e81000"/><rect x="137.9" y="161.1" width="2.4" height="2.4" fill="#e81000"/><rect x="126.5" y="163" width="2.4" height="2.4" fill="#d40000"/><rect x="128.4" y="163" width="2.4" height="2.4" fill="#d40000"/><rect x="130.3" y="163" width="2.4" height="2.4" fill="#e81000"/><rect x="132.2" y="163" width="2.4" height="2.4" fill="#e81000"/><rect x="134.1" y="163" width="2.4" height="2.4" fill="#e81000"/><rect x="136" y="163" width="2.4" height="2.4" fill="#e81000"/><rect x="128.4" y="164.9" width="2.4" height="2.4" fill="#d40000"/><rect x="130.3" y="164.9" width="2.4" height="2.4" fill="#d40000"/><rect x="132.2" y="164.9" width="2.4" height="2.4" fill="#e81000"/><rect x="134.1" y="164.9" width="2.4" height="2.4" fill="#e81000"/><rect x="130.3" y="166.8" width="2.4" height="2.4" fill="#d40000"/><rect x="132.2" y="166.8" width="2.4" height="2.4" fill="#e81000"/><rect x="130.3" y="168.7" width="2.4" height="2.4" fill="#d40000"/>

</g>
<g transform="translate(1061 62.2) scale(1.0017 1.0005)">
<rect x="0" y="0" width="177" height="211" fill="#000"/>
<g filter="url(#soft)">
<path d="M88.6 1.6 L91.9 1.6 L95.2 1.8 L98.6 2.1 L101.9 2.5 L105.2 3.1 L108.5 3.9 L111.8 4.8 L115.1 5.9 L118.3 7.2 L121.6 8.6 L124.7 10.3 L127.9 12.1 L131 14.1 L134 16.4 L136.9 18.8 L139.8 21.4 L142.6 24.2 L145.3 27.1 L147.9 30.3 L150.3 33.6 L152.7 37.1 L154.9 40.7 L157.1 44.5 L159.1 48.4 L160.9 52.4 L162.6 56.5 L164.2 60.7 L165.7 65 L167 69.4 L168.2 73.9 L169.2 78.4 L170.1 82.9 L170.9 87.5 L171.6 92.1 L172.1 96.7 L172.5 101.4 L172.9 106 L173.1 110.7 L173.2 115.3 L173.2 120 L173.2 123.3 L173.1 126.5 L173 129.8 L172.8 133.1 L172.5 136.4 L172.2 139.7 L171.7 143 L171.1 146.3 L170.4 149.6 L169.5 152.9 L168.5 156.1 L167.4 159.4 L166 162.6 L164.6 165.7 L162.9 168.7 L161.1 171.7 L159.2 174.6 L157.1 177.4 L154.8 180 L152.4 182.5 L149.8 184.9 L147.1 187.2 L144.2 189.3 L141.3 191.2 L138.3 192.9 L135.2 194.5 L132 196 L128.7 197.3 L125.4 198.4 L122.1 199.4 L118.8 200.2 L115.4 200.9 L112 201.5 L108.7 202 L105.3 202.4 L101.9 202.6 L98.6 202.8 L95.3 202.9 L91.9 203 L88.6 203 L85.3 203 L81.9 202.9 L78.6 202.8 L75.3 202.6 L71.9 202.4 L68.5 202 L65.2 201.5 L61.8 200.9 L58.4 200.2 L55.1 199.4 L51.8 198.4 L48.5 197.3 L45.2 196 L42 194.5 L38.9 192.9 L35.9 191.2 L33 189.3 L30.1 187.2 L27.4 184.9 L24.8 182.5 L22.4 180 L20.1 177.4 L18 174.6 L16.1 171.7 L14.3 168.7 L12.6 165.7 L11.2 162.6 L9.8 159.4 L8.7 156.1 L7.7 152.9 L6.8 149.6 L6.1 146.3 L5.5 143 L5 139.7 L4.7 136.4 L4.4 133.1 L4.2 129.8 L4.1 126.5 L4 123.3 L4 120 L4 115.3 L4.1 110.7 L4.3 106 L4.7 101.4 L5.1 96.7 L5.6 92.1 L6.3 87.5 L7.1 82.9 L8 78.4 L9 73.9 L10.2 69.4 L11.5 65 L13 60.7 L14.6 56.5 L16.3 52.4 L18.1 48.4 L20.1 44.5 L22.3 40.7 L24.5 37.1 L26.9 33.6 L29.3 30.3 L31.9 27.1 L34.6 24.2 L37.4 21.4 L40.3 18.8 L43.2 16.4 L46.2 14.1 L49.3 12.1 L52.5 10.3 L55.6 8.6 L58.9 7.2 L62.1 5.9 L65.4 4.8 L68.7 3.9 L72 3.1 L75.3 2.5 L78.6 2.1 L82 1.8 L85.3 1.6Z" fill="#545454" stroke="#bcbcbc" stroke-width="1.3"/>
<path d="M88.6 6.8 L91.6 6.8 L94.6 7 L97.7 7.3 L100.7 7.7 L103.7 8.2 L106.7 9 L109.7 9.8 L112.7 10.9 L115.7 12.1 L118.6 13.5 L121.5 15.1 L124.4 16.8 L127.2 18.8 L129.9 20.9 L132.6 23.2 L135.2 25.7 L137.7 28.4 L140.2 31.2 L142.5 34.2 L144.8 37.4 L146.9 40.7 L149 44.2 L150.9 47.8 L152.7 51.5 L154.4 55.3 L156 59.3 L157.4 63.3 L158.8 67.4 L160 71.6 L161 75.9 L162 80.2 L162.8 84.5 L163.5 88.9 L164.1 93.3 L164.6 97.8 L165 102.2 L165.3 106.7 L165.5 111.1 L165.6 115.6 L165.6 120 L165.6 123.1 L165.5 126.1 L165.4 129.2 L165.3 132.3 L165 135.4 L164.7 138.5 L164.2 141.7 L163.7 144.8 L163 147.9 L162.2 151 L161.3 154.1 L160.3 157.1 L159.1 160.1 L157.8 163 L156.3 165.9 L154.6 168.7 L152.8 171.4 L150.9 174.1 L148.8 176.6 L146.6 178.9 L144.3 181.2 L141.8 183.3 L139.2 185.2 L136.6 187.1 L133.8 188.7 L131 190.2 L128.1 191.6 L125.1 192.8 L122.1 193.9 L119.1 194.8 L116.1 195.6 L113 196.3 L109.9 196.8 L106.9 197.3 L103.8 197.6 L100.7 197.9 L97.7 198 L94.7 198.1 L91.6 198.2 L88.6 198.2 L85.6 198.2 L82.5 198.1 L79.5 198 L76.5 197.9 L73.4 197.6 L70.3 197.3 L67.3 196.8 L64.2 196.3 L61.1 195.6 L58.1 194.8 L55.1 193.9 L52.1 192.8 L49.1 191.6 L46.2 190.2 L43.4 188.7 L40.6 187.1 L38 185.2 L35.4 183.3 L32.9 181.2 L30.6 178.9 L28.4 176.6 L26.3 174.1 L24.4 171.4 L22.6 168.7 L20.9 165.9 L19.4 163 L18.1 160.1 L16.9 157.1 L15.9 154.1 L15 151 L14.2 147.9 L13.5 144.8 L13 141.7 L12.5 138.5 L12.2 135.4 L11.9 132.3 L11.8 129.2 L11.7 126.1 L11.6 123.1 L11.6 120 L11.6 115.6 L11.7 111.1 L11.9 106.7 L12.2 102.2 L12.6 97.8 L13.1 93.3 L13.7 88.9 L14.4 84.5 L15.2 80.2 L16.2 75.9 L17.2 71.6 L18.4 67.4 L19.8 63.3 L21.2 59.3 L22.8 55.3 L24.5 51.5 L26.3 47.8 L28.2 44.2 L30.3 40.7 L32.4 37.4 L34.7 34.2 L37 31.2 L39.5 28.4 L42 25.7 L44.6 23.2 L47.3 20.9 L50 18.8 L52.8 16.8 L55.7 15.1 L58.6 13.5 L61.5 12.1 L64.5 10.9 L67.5 9.8 L70.5 9 L73.5 8.2 L76.5 7.7 L79.5 7.3 L82.6 7 L85.6 6.8Z" fill="#060606" stroke="#cacaca" stroke-width="1.4"/>

<clipPath id="bc6"><path d="M88.6 14.3 L91.4 14.3 L94.2 14.4 L97 14.7 L99.8 15 L102.6 15.4 L105.4 16 L108.3 16.8 L111 17.7 L113.8 18.8 L116.6 20 L119.3 21.5 L122 23.1 L124.7 24.9 L127.3 26.9 L129.8 29.1 L132.3 31.5 L134.7 34.1 L137 36.8 L139.2 39.7 L141.3 42.8 L143.4 46.1 L145.3 49.5 L147.1 53.1 L148.7 56.8 L150.3 60.6 L151.7 64.5 L153 68.5 L154.2 72.6 L155.2 76.7 L156.2 80.9 L157 85.2 L157.7 89.5 L158.3 93.8 L158.8 98.1 L159.2 102.4 L159.5 106.7 L159.7 111.1 L159.8 115.4 L159.9 119.7 L159.9 124 L159.9 126.6 L159.9 129.2 L159.8 131.8 L159.7 134.5 L159.5 137.1 L159.2 139.8 L158.9 142.5 L158.5 145.1 L157.9 147.8 L157.3 150.5 L156.5 153.2 L155.7 155.8 L154.6 158.4 L153.4 161 L152.1 163.5 L150.6 166 L149 168.3 L147.2 170.6 L145.3 172.8 L143.2 174.9 L141 176.8 L138.7 178.6 L136.2 180.3 L133.7 181.8 L131 183.2 L128.3 184.4 L125.6 185.5 L122.8 186.4 L119.9 187.3 L117.1 188 L114.2 188.6 L111.3 189.1 L108.4 189.5 L105.6 189.8 L102.7 190 L99.9 190.2 L97 190.3 L94.2 190.4 L91.4 190.4 L88.6 190.4 L85.8 190.4 L83 190.4 L80.2 190.3 L77.3 190.2 L74.5 190 L71.6 189.8 L68.8 189.5 L65.9 189.1 L63 188.6 L60.1 188 L57.3 187.3 L54.4 186.4 L51.6 185.5 L48.9 184.4 L46.2 183.2 L43.5 181.8 L41 180.3 L38.5 178.6 L36.2 176.8 L34 174.9 L31.9 172.8 L30 170.6 L28.2 168.3 L26.6 166 L25.1 163.5 L23.8 161 L22.6 158.4 L21.5 155.8 L20.7 153.2 L19.9 150.5 L19.3 147.8 L18.7 145.1 L18.3 142.5 L18 139.8 L17.7 137.1 L17.5 134.5 L17.4 131.8 L17.3 129.2 L17.3 126.6 L17.3 124 L17.3 119.7 L17.4 115.4 L17.5 111.1 L17.7 106.7 L18 102.4 L18.4 98.1 L18.9 93.8 L19.5 89.5 L20.2 85.2 L21 80.9 L22 76.7 L23 72.6 L24.2 68.5 L25.5 64.5 L26.9 60.6 L28.5 56.8 L30.1 53.1 L31.9 49.5 L33.8 46.1 L35.9 42.8 L38 39.7 L40.2 36.8 L42.5 34.1 L44.9 31.5 L47.4 29.1 L49.9 26.9 L52.5 24.9 L55.2 23.1 L57.9 21.5 L60.6 20 L63.4 18.8 L66.2 17.7 L68.9 16.8 L71.8 16 L74.6 15.4 L77.4 15 L80.2 14.7 L83 14.4 L85.8 14.3Z"/></clipPath>
<g clip-path="url(#bc6)">
<path d="M88.6 14.3 L91.4 14.3 L94.2 14.4 L97 14.7 L99.8 15 L102.6 15.4 L105.4 16 L108.3 16.8 L111 17.7 L113.8 18.8 L116.6 20 L119.3 21.5 L122 23.1 L124.7 24.9 L127.3 26.9 L129.8 29.1 L132.3 31.5 L134.7 34.1 L137 36.8 L139.2 39.7 L141.3 42.8 L143.4 46.1 L145.3 49.5 L147.1 53.1 L148.7 56.8 L150.3 60.6 L151.7 64.5 L153 68.5 L154.2 72.6 L155.2 76.7 L156.2 80.9 L157 85.2 L157.7 89.5 L158.3 93.8 L158.8 98.1 L159.2 102.4 L159.5 106.7 L159.7 111.1 L159.8 115.4 L159.9 119.7 L159.9 124 L159.9 126.6 L159.9 129.2 L159.8 131.8 L159.7 134.5 L159.5 137.1 L159.2 139.8 L158.9 142.5 L158.5 145.1 L157.9 147.8 L157.3 150.5 L156.5 153.2 L155.7 155.8 L154.6 158.4 L153.4 161 L152.1 163.5 L150.6 166 L149 168.3 L147.2 170.6 L145.3 172.8 L143.2 174.9 L141 176.8 L138.7 178.6 L136.2 180.3 L133.7 181.8 L131 183.2 L128.3 184.4 L125.6 185.5 L122.8 186.4 L119.9 187.3 L117.1 188 L114.2 188.6 L111.3 189.1 L108.4 189.5 L105.6 189.8 L102.7 190 L99.9 190.2 L97 190.3 L94.2 190.4 L91.4 190.4 L88.6 190.4 L85.8 190.4 L83 190.4 L80.2 190.3 L77.3 190.2 L74.5 190 L71.6 189.8 L68.8 189.5 L65.9 189.1 L63 188.6 L60.1 188 L57.3 187.3 L54.4 186.4 L51.6 185.5 L48.9 184.4 L46.2 183.2 L43.5 181.8 L41 180.3 L38.5 178.6 L36.2 176.8 L34 174.9 L31.9 172.8 L30 170.6 L28.2 168.3 L26.6 166 L25.1 163.5 L23.8 161 L22.6 158.4 L21.5 155.8 L20.7 153.2 L19.9 150.5 L19.3 147.8 L18.7 145.1 L18.3 142.5 L18 139.8 L17.7 137.1 L17.5 134.5 L17.4 131.8 L17.3 129.2 L17.3 126.6 L17.3 124 L17.3 119.7 L17.4 115.4 L17.5 111.1 L17.7 106.7 L18 102.4 L18.4 98.1 L18.9 93.8 L19.5 89.5 L20.2 85.2 L21 80.9 L22 76.7 L23 72.6 L24.2 68.5 L25.5 64.5 L26.9 60.6 L28.5 56.8 L30.1 53.1 L31.9 49.5 L33.8 46.1 L35.9 42.8 L38 39.7 L40.2 36.8 L42.5 34.1 L44.9 31.5 L47.4 29.1 L49.9 26.9 L52.5 24.9 L55.2 23.1 L57.9 21.5 L60.6 20 L63.4 18.8 L66.2 17.7 L68.9 16.8 L71.8 16 L74.6 15.4 L77.4 15 L80.2 14.7 L83 14.4 L85.8 14.3Z" fill="#b2b2b2"/>

<path d="M88.6 14.3 L91.4 14.3 L94.2 14.4 L97 14.7 L99.8 15 L102.6 15.4 L105.4 16 L108.3 16.8 L111 17.7 L113.8 18.8 L116.6 20 L119.3 21.5 L122 23.1 L124.7 24.9 L127.3 26.9 L129.8 29.1 L132.3 31.5 L134.7 34.1 L137 36.8 L139.2 39.7 L141.3 42.8 L143.4 46.1 L145.3 49.5 L147.1 53.1 L148.7 56.8 L150.3 60.6 L151.7 64.5 L153 68.5 L154.2 72.6 L155.2 76.7 L156.2 80.9 L157 85.2 L157.7 89.5 L158.3 93.8 L158.8 98.1 L159.2 102.4 L159.5 106.7 L159.7 111.1 L159.8 115.4 L159.9 119.7 L159.9 124 L159.9 126.6 L159.9 129.2 L159.8 131.8 L159.7 134.5 L159.5 137.1 L159.2 139.8 L158.9 142.5 L158.5 145.1 L157.9 147.8 L157.3 150.5 L156.5 153.2 L155.7 155.8 L154.6 158.4 L153.4 161 L152.1 163.5 L150.6 166 L149 168.3 L147.2 170.6 L145.3 172.8 L143.2 174.9 L141 176.8 L138.7 178.6 L136.2 180.3 L133.7 181.8 L131 183.2 L128.3 184.4 L125.6 185.5 L122.8 186.4 L119.9 187.3 L117.1 188 L114.2 188.6 L111.3 189.1 L108.4 189.5 L105.6 189.8 L102.7 190 L99.9 190.2 L97 190.3 L94.2 190.4 L91.4 190.4 L88.6 190.4 L85.8 190.4 L83 190.4 L80.2 190.3 L77.3 190.2 L74.5 190 L71.6 189.8 L68.8 189.5 L65.9 189.1 L63 188.6 L60.1 188 L57.3 187.3 L54.4 186.4 L51.6 185.5 L48.9 184.4 L46.2 183.2 L43.5 181.8 L41 180.3 L38.5 178.6 L36.2 176.8 L34 174.9 L31.9 172.8 L30 170.6 L28.2 168.3 L26.6 166 L25.1 163.5 L23.8 161 L22.6 158.4 L21.5 155.8 L20.7 153.2 L19.9 150.5 L19.3 147.8 L18.7 145.1 L18.3 142.5 L18 139.8 L17.7 137.1 L17.5 134.5 L17.4 131.8 L17.3 129.2 L17.3 126.6 L17.3 124 L17.3 119.7 L17.4 115.4 L17.5 111.1 L17.7 106.7 L18 102.4 L18.4 98.1 L18.9 93.8 L19.5 89.5 L20.2 85.2 L21 80.9 L22 76.7 L23 72.6 L24.2 68.5 L25.5 64.5 L26.9 60.6 L28.5 56.8 L30.1 53.1 L31.9 49.5 L33.8 46.1 L35.9 42.8 L38 39.7 L40.2 36.8 L42.5 34.1 L44.9 31.5 L47.4 29.1 L49.9 26.9 L52.5 24.9 L55.2 23.1 L57.9 21.5 L60.6 20 L63.4 18.8 L66.2 17.7 L68.9 16.8 L71.8 16 L74.6 15.4 L77.4 15 L80.2 14.7 L83 14.4 L85.8 14.3Z" fill="none" stroke="#787878" stroke-width="8"/>
<path d="M85.8 14.3 Q86.6 21.1 88.5 27.1 Q90.9 33.2 90.7 40 M88.3 27.5 Q91.9 30.4 94.8 32.2 M101.7 15.3 Q96 19.3 93.7 23.3 Q90.7 28.6 89.1 33.7 M112 18.1 Q109.1 22.9 106.8 29.6 Q102.5 34.7 99 39.5 M102.2 34.3 Q103.9 38.1 105.4 42.2 M122.9 23.7 Q122.4 27.4 123.6 30.7 Q124.4 34.2 124.6 37.6 M134.7 34.1 Q129.8 36.9 123.3 39.3 Q118.4 44 113.4 47.2 M145.3 49.5 Q140.5 52.1 135 55.8 Q129.9 61.4 126.3 64.1 M153 68.5 Q147.6 68.1 142.2 68.6 Q136.8 68.2 131.4 69 M158.1 92.3 Q155.8 95.9 151.3 101.1 Q146 103.2 142.7 108.1 M147.5 103.2 Q149.5 107.8 149.5 112.2 M159.6 109.6 Q156.5 108.1 155.2 103.9 Q150.8 100.8 148.8 100.4 M152.5 103.5 Q151.5 99.5 152.3 95.5 M159.9 127.5 Q155.2 126.7 150.9 123.3 Q146.8 120.6 141.6 120 M151.2 123.9 Q148.4 127.4 145.9 129.6 M159.1 140.7 Q153.2 135.1 150.6 130.3 Q147.7 124.7 145.4 117.9 M150 125.4 Q150.6 122.2 151.4 118.9 M157.9 147.8 Q154.5 147.2 151.2 146.9 Q147.6 144.4 144.8 144.6 M151.1 165.2 Q150.3 160.2 148.6 155.3 Q148.9 150.5 147.4 145.2 M144.6 173.5 Q140.2 169.5 135.4 166.3 Q130.7 164.1 126.6 158.7 M131.2 162.4 Q131.1 158.3 131.7 154.2 M133.7 181.8 Q134.7 175.9 132 169.1 Q129.7 163.4 126.9 157.4 M129.6 166.9 Q127 164.7 124.8 163.4 M120.9 187 Q117.1 187 114.8 184.2 Q111.9 179.8 111.7 178.3 M107.5 189.6 Q106.5 184.1 103.5 179 Q98.5 173.7 96.3 170.3 M102.1 180.3 Q98.7 179.6 96.3 178 M92.3 190.4 Q90.9 184.6 86 178.5 Q82.7 173.9 77.4 168 M85.8 190.4 Q82.4 187 83.1 183.7 Q83.7 180.7 82.2 176.6 M72.6 189.9 Q70 185.3 68.4 182 Q69.9 177.1 67.3 173.2 M70.1 182.2 Q67 180.3 63.2 178.7 M52.6 185.8 Q53.1 182.8 56 179.9 Q56 176.7 57.9 173.4 M41 180.3 Q42.2 174.7 46.6 168.1 Q50.1 163.3 55.3 157.9 M47.9 169.4 Q47.3 164.6 46 160.1 M31.9 172.8 Q36.6 172.1 41.1 172.4 Q45.4 169.6 49.9 169.4 M44.3 170.4 Q47 168.5 48.3 165.5 M24.6 162.7 Q26.4 156.4 29.6 150.4 Q29.5 144.1 31.8 137.3 M20.7 153.2 Q26.4 152.4 32.2 151.2 Q38.1 153.5 43.9 152.2 M17.8 138 Q22.4 135.7 25.2 136.7 Q28.5 132.9 31 131.8 M17.3 129.2 Q23 128.1 29.5 125.6 Q34.7 121.6 40.8 119.8 M30.5 124 Q33.1 126.5 35.5 129.5 M17.9 103.8 Q21.6 104 26.2 105.8 Q30.2 106.6 34.1 108.8 M25.5 106.2 Q27.1 104.2 29.4 102.4 M18.9 93.8 Q23 92 26.9 92.2 Q31.1 91.9 35.1 92.9 M30.7 93.1 Q33.6 89.8 35.1 87.3 M24.6 67.2 Q28.1 66.6 33.2 69.9 Q37.4 71.3 40.4 75.2 M34.3 72.1 Q37.8 70.7 42.2 68.1 M30.1 53.1 Q33.3 56.9 38.3 63.1 Q42.8 69.6 45.1 74 M38.7 38.8 Q41.6 40.5 45.7 43.6 Q48.5 47.8 50.9 50.4 M44.4 44.2 Q43.2 48.2 43.5 52.3 M52.5 24.9 Q52.1 29.2 52.6 33.5 Q55 37.5 54.1 42 M53.5 35 Q57.3 35.5 61.3 38 M65.2 18.1 Q65.8 21.5 64.9 24.8 Q67.8 27.5 68.1 30.7 M67 25.9 Q71.3 26.5 75.9 28.2 M74.6 15.4 Q76.4 20.5 81.7 23.8 Q83.4 29.3 86.1 33.9 M81.9 27.2 Q84.4 27.7 86.9 28.8" fill="none" stroke="#787878" stroke-width="8.0" stroke-linecap="round" stroke-linejoin="round"/><path d="M85.8 14.3 Q86.6 21.1 88.5 27.1 Q90.9 33.2 90.7 40 M88.3 27.5 Q91.9 30.4 94.8 32.2 M101.7 15.3 Q96 19.3 93.7 23.3 Q90.7 28.6 89.1 33.7 M112 18.1 Q109.1 22.9 106.8 29.6 Q102.5 34.7 99 39.5 M102.2 34.3 Q103.9 38.1 105.4 42.2 M122.9 23.7 Q122.4 27.4 123.6 30.7 Q124.4 34.2 124.6 37.6 M134.7 34.1 Q129.8 36.9 123.3 39.3 Q118.4 44 113.4 47.2 M145.3 49.5 Q140.5 52.1 135 55.8 Q129.9 61.4 126.3 64.1 M153 68.5 Q147.6 68.1 142.2 68.6 Q136.8 68.2 131.4 69 M158.1 92.3 Q155.8 95.9 151.3 101.1 Q146 103.2 142.7 108.1 M147.5 103.2 Q149.5 107.8 149.5 112.2 M159.6 109.6 Q156.5 108.1 155.2 103.9 Q150.8 100.8 148.8 100.4 M152.5 103.5 Q151.5 99.5 152.3 95.5 M159.9 127.5 Q155.2 126.7 150.9 123.3 Q146.8 120.6 141.6 120 M151.2 123.9 Q148.4 127.4 145.9 129.6 M159.1 140.7 Q153.2 135.1 150.6 130.3 Q147.7 124.7 145.4 117.9 M150 125.4 Q150.6 122.2 151.4 118.9 M157.9 147.8 Q154.5 147.2 151.2 146.9 Q147.6 144.4 144.8 144.6 M151.1 165.2 Q150.3 160.2 148.6 155.3 Q148.9 150.5 147.4 145.2 M144.6 173.5 Q140.2 169.5 135.4 166.3 Q130.7 164.1 126.6 158.7 M131.2 162.4 Q131.1 158.3 131.7 154.2 M133.7 181.8 Q134.7 175.9 132 169.1 Q129.7 163.4 126.9 157.4 M129.6 166.9 Q127 164.7 124.8 163.4 M120.9 187 Q117.1 187 114.8 184.2 Q111.9 179.8 111.7 178.3 M107.5 189.6 Q106.5 184.1 103.5 179 Q98.5 173.7 96.3 170.3 M102.1 180.3 Q98.7 179.6 96.3 178 M92.3 190.4 Q90.9 184.6 86 178.5 Q82.7 173.9 77.4 168 M85.8 190.4 Q82.4 187 83.1 183.7 Q83.7 180.7 82.2 176.6 M72.6 189.9 Q70 185.3 68.4 182 Q69.9 177.1 67.3 173.2 M70.1 182.2 Q67 180.3 63.2 178.7 M52.6 185.8 Q53.1 182.8 56 179.9 Q56 176.7 57.9 173.4 M41 180.3 Q42.2 174.7 46.6 168.1 Q50.1 163.3 55.3 157.9 M47.9 169.4 Q47.3 164.6 46 160.1 M31.9 172.8 Q36.6 172.1 41.1 172.4 Q45.4 169.6 49.9 169.4 M44.3 170.4 Q47 168.5 48.3 165.5 M24.6 162.7 Q26.4 156.4 29.6 150.4 Q29.5 144.1 31.8 137.3 M20.7 153.2 Q26.4 152.4 32.2 151.2 Q38.1 153.5 43.9 152.2 M17.8 138 Q22.4 135.7 25.2 136.7 Q28.5 132.9 31 131.8 M17.3 129.2 Q23 128.1 29.5 125.6 Q34.7 121.6 40.8 119.8 M30.5 124 Q33.1 126.5 35.5 129.5 M17.9 103.8 Q21.6 104 26.2 105.8 Q30.2 106.6 34.1 108.8 M25.5 106.2 Q27.1 104.2 29.4 102.4 M18.9 93.8 Q23 92 26.9 92.2 Q31.1 91.9 35.1 92.9 M30.7 93.1 Q33.6 89.8 35.1 87.3 M24.6 67.2 Q28.1 66.6 33.2 69.9 Q37.4 71.3 40.4 75.2 M34.3 72.1 Q37.8 70.7 42.2 68.1 M30.1 53.1 Q33.3 56.9 38.3 63.1 Q42.8 69.6 45.1 74 M38.7 38.8 Q41.6 40.5 45.7 43.6 Q48.5 47.8 50.9 50.4 M44.4 44.2 Q43.2 48.2 43.5 52.3 M52.5 24.9 Q52.1 29.2 52.6 33.5 Q55 37.5 54.1 42 M53.5 35 Q57.3 35.5 61.3 38 M65.2 18.1 Q65.8 21.5 64.9 24.8 Q67.8 27.5 68.1 30.7 M67 25.9 Q71.3 26.5 75.9 28.2 M74.6 15.4 Q76.4 20.5 81.7 23.8 Q83.4 29.3 86.1 33.9 M81.9 27.2 Q84.4 27.7 86.9 28.8" fill="none" stroke="#3c3c3c" stroke-width="1.7" stroke-linecap="round" stroke-linejoin="round"/>
<path d="M88.5 12 L88.5 58" fill="none" stroke="#7c7c7c" stroke-width="6" stroke-linecap="round" stroke-linejoin="round"/><path d="M88.5 172 L88.5 194" fill="none" stroke="#7c7c7c" stroke-width="6" stroke-linecap="round" stroke-linejoin="round"/><path d="M88.5 12 L88.5 58" fill="none" stroke="#383838" stroke-width="1.4" stroke-linecap="round" stroke-linejoin="round"/><path d="M88.5 172 L88.5 194" fill="none" stroke="#383838" stroke-width="1.4" stroke-linecap="round" stroke-linejoin="round"/><ellipse cx="88.5" cy="40" rx="10" ry="16" fill="#8b8b8b"/><ellipse cx="85.5" cy="36" rx="4" ry="5" fill="#6d6d6d"/><ellipse cx="92.5" cy="48" rx="4" ry="5" fill="#707070"/><path d="M32.5 66 Q40.5 90 48.5 114" fill="none" stroke="#7c7c7c" stroke-width="10" stroke-linecap="round" stroke-linejoin="round"/><path d="M32.5 66 Q40.5 90 48.5 114" fill="none" stroke="#3c3c3c" stroke-width="1.6" stroke-linecap="round" stroke-linejoin="round"/><path d="M33.5 76 l-9 8 M37.5 88 l-10 7 M42.5 100 l-10 6" fill="none" stroke="#484848" stroke-width="1.3" stroke-linecap="round" stroke-linejoin="round"/><ellipse cx="63.5" cy="90" rx="7.5" ry="23" fill="#9e9e9e" transform="rotate(12 63.5 90)"/><ellipse cx="78.5" cy="106" rx="9" ry="14" fill="#a1a1a1" transform="rotate(-8 78.5 106)"/><ellipse cx="75.5" cy="78" rx="4" ry="11" fill="#9e9e9e" transform="rotate(-14 75.5 78)"/><path d="M144.5 66 Q136.5 90 128.5 114" fill="none" stroke="#7c7c7c" stroke-width="10" stroke-linecap="round" stroke-linejoin="round"/><path d="M144.5 66 Q136.5 90 128.5 114" fill="none" stroke="#3c3c3c" stroke-width="1.6" stroke-linecap="round" stroke-linejoin="round"/><path d="M143.5 76 l9 8 M139.5 88 l10 7 M134.5 100 l10 6" fill="none" stroke="#484848" stroke-width="1.3" stroke-linecap="round" stroke-linejoin="round"/><ellipse cx="113.5" cy="90" rx="7.5" ry="23" fill="#9e9e9e" transform="rotate(-12 113.5 90)"/><ellipse cx="98.5" cy="106" rx="9" ry="14" fill="#a1a1a1" transform="rotate(8 98.5 106)"/><ellipse cx="101.5" cy="78" rx="4" ry="11" fill="#9e9e9e" transform="rotate(14 101.5 78)"/><path d="M69.5 58 Q78.5 57 86 62 Q87 76 87 90 L83 88 Q80.5 76 75.5 68 Q71.5 62 69.5 58Z" fill="#2d2d2d"/><path d="M107.5 58 Q98.5 57 91 62 Q90 76 90 90 L94 88 Q96.5 76 101.5 68 Q105.5 62 107.5 58Z" fill="#2d2d2d"/><path d="M88.5 62 V90" fill="none" stroke="#cdcdcd" stroke-width="1.3" stroke-linecap="round" stroke-linejoin="round"/><path d="M88.5 90 V108" fill="none" stroke="#666" stroke-width="1.1" stroke-linecap="round" stroke-linejoin="round"/><path d="M88.5 108 Q85.5 116 78.5 124 Q83.5 128 84.5 134 Q85.5 140 88.5 156 Q91.5 140 92.5 134 Q93.5 128 98.5 124 Q91.5 116 88.5 108Z" fill="#3d3d3d"/><path d="M80.5 130 Q62.5 128 57.5 138 Q56.5 150 68.5 160 Q78.5 170 85.5 172" fill="none" stroke="#3b3b3b" stroke-width="1.7" stroke-linecap="round" stroke-linejoin="round"/><ellipse cx="59.5" cy="139" rx="3" ry="5.5" fill="#3a3a3a" transform="rotate(-25 59.5 139)"/><path d="M78.5 142 Q70.5 150 76.5 162" fill="none" stroke="#6a6a6a" stroke-width="1.3" stroke-linecap="round" stroke-linejoin="round"/><ellipse cx="73.5" cy="150" rx="7" ry="9" fill="#8f8f8f"/><path d="M96.5 130 Q114.5 128 119.5 138 Q120.5 150 108.5 160 Q98.5 170 91.5 172" fill="none" stroke="#3b3b3b" stroke-width="1.7" stroke-linecap="round" stroke-linejoin="round"/><ellipse cx="117.5" cy="139" rx="3" ry="5.5" fill="#3a3a3a" transform="rotate(25 117.5 139)"/><path d="M98.5 142 Q106.5 150 100.5 162" fill="none" stroke="#6a6a6a" stroke-width="1.3" stroke-linecap="round" stroke-linejoin="round"/><ellipse cx="103.5" cy="150" rx="7" ry="9" fill="#8f8f8f"/><path d="M88.5 156 V194" fill="none" stroke="#333" stroke-width="1.5" stroke-linecap="round" stroke-linejoin="round"/>
<path d="M88.6 14.3 L91.4 14.3 L94.2 14.4 L97 14.7 L99.8 15 L102.6 15.4 L105.4 16 L108.3 16.8 L111 17.7 L113.8 18.8 L116.6 20 L119.3 21.5 L122 23.1 L124.7 24.9 L127.3 26.9 L129.8 29.1 L132.3 31.5 L134.7 34.1 L137 36.8 L139.2 39.7 L141.3 42.8 L143.4 46.1 L145.3 49.5 L147.1 53.1 L148.7 56.8 L150.3 60.6 L151.7 64.5 L153 68.5 L154.2 72.6 L155.2 76.7 L156.2 80.9 L157 85.2 L157.7 89.5 L158.3 93.8 L158.8 98.1 L159.2 102.4 L159.5 106.7 L159.7 111.1 L159.8 115.4 L159.9 119.7 L159.9 124 L159.9 126.6 L159.9 129.2 L159.8 131.8 L159.7 134.5 L159.5 137.1 L159.2 139.8 L158.9 142.5 L158.5 145.1 L157.9 147.8 L157.3 150.5 L156.5 153.2 L155.7 155.8 L154.6 158.4 L153.4 161 L152.1 163.5 L150.6 166 L149 168.3 L147.2 170.6 L145.3 172.8 L143.2 174.9 L141 176.8 L138.7 178.6 L136.2 180.3 L133.7 181.8 L131 183.2 L128.3 184.4 L125.6 185.5 L122.8 186.4 L119.9 187.3 L117.1 188 L114.2 188.6 L111.3 189.1 L108.4 189.5 L105.6 189.8 L102.7 190 L99.9 190.2 L97 190.3 L94.2 190.4 L91.4 190.4 L88.6 190.4 L85.8 190.4 L83 190.4 L80.2 190.3 L77.3 190.2 L74.5 190 L71.6 189.8 L68.8 189.5 L65.9 189.1 L63 188.6 L60.1 188 L57.3 187.3 L54.4 186.4 L51.6 185.5 L48.9 184.4 L46.2 183.2 L43.5 181.8 L41 180.3 L38.5 178.6 L36.2 176.8 L34 174.9 L31.9 172.8 L30 170.6 L28.2 168.3 L26.6 166 L25.1 163.5 L23.8 161 L22.6 158.4 L21.5 155.8 L20.7 153.2 L19.9 150.5 L19.3 147.8 L18.7 145.1 L18.3 142.5 L18 139.8 L17.7 137.1 L17.5 134.5 L17.4 131.8 L17.3 129.2 L17.3 126.6 L17.3 124 L17.3 119.7 L17.4 115.4 L17.5 111.1 L17.7 106.7 L18 102.4 L18.4 98.1 L18.9 93.8 L19.5 89.5 L20.2 85.2 L21 80.9 L22 76.7 L23 72.6 L24.2 68.5 L25.5 64.5 L26.9 60.6 L28.5 56.8 L30.1 53.1 L31.9 49.5 L33.8 46.1 L35.9 42.8 L38 39.7 L40.2 36.8 L42.5 34.1 L44.9 31.5 L47.4 29.1 L49.9 26.9 L52.5 24.9 L55.2 23.1 L57.9 21.5 L60.6 20 L63.4 18.8 L66.2 17.7 L68.9 16.8 L71.8 16 L74.6 15.4 L77.4 15 L80.2 14.7 L83 14.4 L85.8 14.3Z" fill="none" stroke="#2c2c2c" stroke-width="1.6"/>
</g>

</g>
<path d="M88.6 1.6 L91.9 1.6 L95.2 1.8 L98.6 2.1 L101.9 2.5 L105.2 3.1 L108.5 3.9 L111.8 4.8 L115.1 5.9 L118.3 7.2 L121.6 8.6 L124.7 10.3 L127.9 12.1 L131 14.1 L134 16.4 L136.9 18.8 L139.8 21.4 L142.6 24.2 L145.3 27.1 L147.9 30.3 L150.3 33.6 L152.7 37.1 L154.9 40.7 L157.1 44.5 L159.1 48.4 L160.9 52.4 L162.6 56.5 L164.2 60.7 L165.7 65 L167 69.4 L168.2 73.9 L169.2 78.4 L170.1 82.9 L170.9 87.5 L171.6 92.1 L172.1 96.7 L172.5 101.4 L172.9 106 L173.1 110.7 L173.2 115.3 L173.2 120 L173.2 123.3 L173.1 126.5 L173 129.8 L172.8 133.1 L172.5 136.4 L172.2 139.7 L171.7 143 L171.1 146.3 L170.4 149.6 L169.5 152.9 L168.5 156.1 L167.4 159.4 L166 162.6 L164.6 165.7 L162.9 168.7 L161.1 171.7 L159.2 174.6 L157.1 177.4 L154.8 180 L152.4 182.5 L149.8 184.9 L147.1 187.2 L144.2 189.3 L141.3 191.2 L138.3 192.9 L135.2 194.5 L132 196 L128.7 197.3 L125.4 198.4 L122.1 199.4 L118.8 200.2 L115.4 200.9 L112 201.5 L108.7 202 L105.3 202.4 L101.9 202.6 L98.6 202.8 L95.3 202.9 L91.9 203 L88.6 203 L85.3 203 L81.9 202.9 L78.6 202.8 L75.3 202.6 L71.9 202.4 L68.5 202 L65.2 201.5 L61.8 200.9 L58.4 200.2 L55.1 199.4 L51.8 198.4 L48.5 197.3 L45.2 196 L42 194.5 L38.9 192.9 L35.9 191.2 L33 189.3 L30.1 187.2 L27.4 184.9 L24.8 182.5 L22.4 180 L20.1 177.4 L18 174.6 L16.1 171.7 L14.3 168.7 L12.6 165.7 L11.2 162.6 L9.8 159.4 L8.7 156.1 L7.7 152.9 L6.8 149.6 L6.1 146.3 L5.5 143 L5 139.7 L4.7 136.4 L4.4 133.1 L4.2 129.8 L4.1 126.5 L4 123.3 L4 120 L4 115.3 L4.1 110.7 L4.3 106 L4.7 101.4 L5.1 96.7 L5.6 92.1 L6.3 87.5 L7.1 82.9 L8 78.4 L9 73.9 L10.2 69.4 L11.5 65 L13 60.7 L14.6 56.5 L16.3 52.4 L18.1 48.4 L20.1 44.5 L22.3 40.7 L24.5 37.1 L26.9 33.6 L29.3 30.3 L31.9 27.1 L34.6 24.2 L37.4 21.4 L40.3 18.8 L43.2 16.4 L46.2 14.1 L49.3 12.1 L52.5 10.3 L55.6 8.6 L58.9 7.2 L62.1 5.9 L65.4 4.8 L68.7 3.9 L72 3.1 L75.3 2.5 L78.6 2.1 L82 1.8 L85.3 1.6Z" fill="#808080" filter="url(#grain)" opacity="0.3" style="mix-blend-mode:overlay"/>
<rect x="86.3" y="175.9" width="3.6" height="3.6" fill="#3db2c8"/><rect x="88.3" y="175.9" width="3.6" height="3.6" fill="#3db2c8"/><rect x="96.3" y="175.9" width="3.6" height="3.6" fill="#3db2c8"/><rect x="98.3" y="175.9" width="3.6" height="3.6" fill="#3db2c8"/><rect x="76.3" y="177.9" width="3.6" height="3.6" fill="#3db2c8"/><rect x="84.3" y="177.9" width="3.6" height="3.6" fill="#3db2c8"/><rect x="86.3" y="177.9" width="3.6" height="3.6" fill="#3db2c8"/><rect x="88.3" y="177.9" width="3.6" height="3.6" fill="#3db2c8"/><rect x="90.3" y="177.9" width="3.6" height="3.6" fill="#3db2c8"/><rect x="94.3" y="177.9" width="3.6" height="3.6" fill="#3db2c8"/><rect x="96.3" y="177.9" width="3.6" height="3.6" fill="#3db2c8"/><rect x="98.3" y="177.9" width="3.6" height="3.6" fill="#3db2c8"/><rect x="100.3" y="177.9" width="3.6" height="3.6" fill="#3db2c8"/><rect x="74.3" y="179.9" width="3.6" height="3.6" fill="#3db2c8"/><rect x="76.3" y="179.9" width="3.6" height="3.6" fill="#3db2c8"/><rect x="78.3" y="179.9" width="3.6" height="3.6" fill="#3db2c8"/><rect x="82.3" y="179.9" width="3.6" height="3.6" fill="#3db2c8"/><rect x="84.3" y="179.9" width="3.6" height="3.6" fill="#3db2c8"/><rect x="86.3" y="179.9" width="3.6" height="3.6" fill="#3db2c8"/><rect x="88.3" y="179.9" width="3.6" height="3.6" fill="#3db2c8"/><rect x="90.3" y="179.9" width="3.6" height="3.6" fill="#3db2c8"/><rect x="92.3" y="179.9" width="3.6" height="3.6" fill="#3db2c8"/><rect x="94.3" y="179.9" width="3.6" height="3.6" fill="#3db2c8"/><rect x="96.3" y="179.9" width="3.6" height="3.6" fill="#3db2c8"/><rect x="98.3" y="179.9" width="3.6" height="3.6" fill="#3db2c8"/><rect x="100.3" y="179.9" width="3.6" height="3.6" fill="#3db2c8"/><rect x="102.3" y="179.9" width="3.6" height="3.6" fill="#3db2c8"/><rect x="72.3" y="181.9" width="3.6" height="3.6" fill="#3db2c8"/><rect x="74.3" y="181.9" width="3.6" height="3.6" fill="#3db2c8"/><rect x="76.3" y="181.9" width="3.6" height="3.6" fill="#3db2c8"/><rect x="78.3" y="181.9" width="3.6" height="3.6" fill="#3db2c8"/><rect x="80.3" y="181.9" width="3.6" height="3.6" fill="#3db2c8"/><rect x="82.3" y="181.9" width="3.6" height="3.6" fill="#3db2c8"/><rect x="84.3" y="181.9" width="3.6" height="3.6" fill="#3db2c8"/><rect x="86.3" y="181.9" width="3.6" height="3.6" fill="#3db2c8"/><rect x="88.3" y="181.9" width="3.6" height="3.6" fill="#3db2c8"/><rect x="90.3" y="181.9" width="3.6" height="3.6" fill="#3db2c8"/><rect x="92.3" y="181.9" width="3.6" height="3.6" fill="#3db2c8"/><rect x="94.3" y="181.9" width="3.6" height="3.6" fill="#3db2c8"/><rect x="96.3" y="181.9" width="3.6" height="3.6" fill="#3db2c8"/><rect x="98.3" y="181.9" width="3.6" height="3.6" fill="#3db2c8"/><rect x="100.3" y="181.9" width="3.6" height="3.6" fill="#3db2c8"/><rect x="102.3" y="181.9" width="3.6" height="3.6" fill="#3db2c8"/><rect x="72.3" y="183.9" width="3.6" height="3.6" fill="#3db2c8"/><rect x="74.3" y="183.9" width="3.6" height="3.6" fill="#3db2c8"/><rect x="76.3" y="183.9" width="3.6" height="3.6" fill="#3db2c8"/><rect x="78.3" y="183.9" width="3.6" height="3.6" fill="#3db2c8"/><rect x="80.3" y="183.9" width="3.6" height="3.6" fill="#3db2c8"/><rect x="82.3" y="183.9" width="3.6" height="3.6" fill="#3db2c8"/><rect x="84.3" y="183.9" width="3.6" height="3.6" fill="#3db2c8"/><rect x="86.3" y="183.9" width="3.6" height="3.6" fill="#3db2c8"/><rect x="88.3" y="183.9" width="3.6" height="3.6" fill="#3db2c8"/><rect x="90.3" y="183.9" width="3.6" height="3.6" fill="#3db2c8"/><rect x="94.3" y="183.9" width="3.6" height="3.6" fill="#3db2c8"/><rect x="96.3" y="183.9" width="3.6" height="3.6" fill="#3db2c8"/><rect x="98.3" y="183.9" width="3.6" height="3.6" fill="#3db2c8"/><rect x="100.3" y="183.9" width="3.6" height="3.6" fill="#3db2c8"/><rect x="102.3" y="183.9" width="3.6" height="3.6" fill="#3db2c8"/><rect x="72.3" y="185.9" width="3.6" height="3.6" fill="#3db2c8"/><rect x="74.3" y="185.9" width="3.6" height="3.6" fill="#3db2c8"/><rect x="76.3" y="185.9" width="3.6" height="3.6" fill="#3db2c8"/><rect x="78.3" y="185.9" width="3.6" height="3.6" fill="#3db2c8"/><rect x="80.3" y="185.9" width="3.6" height="3.6" fill="#3db2c8"/><rect x="82.3" y="185.9" width="3.6" height="3.6" fill="#3db2c8"/><rect x="84.3" y="185.9" width="3.6" height="3.6" fill="#3db2c8"/><rect x="86.3" y="185.9" width="3.6" height="3.6" fill="#3db2c8"/><rect x="96.3" y="185.9" width="3.6" height="3.6" fill="#3db2c8"/><rect x="98.3" y="185.9" width="3.6" height="3.6" fill="#3db2c8"/><rect x="100.3" y="185.9" width="3.6" height="3.6" fill="#3db2c8"/><rect x="74.3" y="187.9" width="3.6" height="3.6" fill="#3db2c8"/><rect x="76.3" y="187.9" width="3.6" height="3.6" fill="#3db2c8"/><rect x="78.3" y="187.9" width="3.6" height="3.6" fill="#3db2c8"/><rect x="80.3" y="187.9" width="3.6" height="3.6" fill="#3db2c8"/><rect x="76.3" y="189.9" width="3.6" height="3.6" fill="#3db2c8"/><rect x="78.3" y="189.9" width="3.6" height="3.6" fill="#3db2c8"/><rect x="86.9" y="176.5" width="2.4" height="2.4" fill="#ff2a0a"/><rect x="88.9" y="176.5" width="2.4" height="2.4" fill="#ff2a0a"/><rect x="96.9" y="176.5" width="2.4" height="2.4" fill="#ff2a0a"/><rect x="98.9" y="176.5" width="2.4" height="2.4" fill="#ff2a0a"/><rect x="76.9" y="178.5" width="2.4" height="2.4" fill="#ff2a0a"/><rect x="84.9" y="178.5" width="2.4" height="2.4" fill="#ff2a0a"/><rect x="86.9" y="178.5" width="2.4" height="2.4" fill="#ff2a0a"/><rect x="88.9" y="178.5" width="2.4" height="2.4" fill="#ff2a0a"/><rect x="90.9" y="178.5" width="2.4" height="2.4" fill="#ff2a0a"/><rect x="94.9" y="178.5" width="2.4" height="2.4" fill="#ff2a0a"/><rect x="96.9" y="178.5" width="2.4" height="2.4" fill="#ff2a0a"/><rect x="98.9" y="178.5" width="2.4" height="2.4" fill="#ff2a0a"/><rect x="100.9" y="178.5" width="2.4" height="2.4" fill="#ff2a0a"/><rect x="74.9" y="180.5" width="2.4" height="2.4" fill="#ff2a0a"/><rect x="76.9" y="180.5" width="2.4" height="2.4" fill="#ff2a0a"/><rect x="78.9" y="180.5" width="2.4" height="2.4" fill="#ff2a0a"/><rect x="82.9" y="180.5" width="2.4" height="2.4" fill="#ff2a0a"/><rect x="84.9" y="180.5" width="2.4" height="2.4" fill="#ff2a0a"/><rect x="86.9" y="180.5" width="2.4" height="2.4" fill="#ff2a0a"/><rect x="88.9" y="180.5" width="2.4" height="2.4" fill="#ff2a0a"/><rect x="90.9" y="180.5" width="2.4" height="2.4" fill="#ff2a0a"/><rect x="92.9" y="180.5" width="2.4" height="2.4" fill="#ff2a0a"/><rect x="94.9" y="180.5" width="2.4" height="2.4" fill="#ff2a0a"/><rect x="96.9" y="180.5" width="2.4" height="2.4" fill="#ff2a0a"/><rect x="98.9" y="180.5" width="2.4" height="2.4" fill="#ff2a0a"/><rect x="100.9" y="180.5" width="2.4" height="2.4" fill="#ff2a0a"/><rect x="102.9" y="180.5" width="2.4" height="2.4" fill="#ff2a0a"/><rect x="72.9" y="182.5" width="2.4" height="2.4" fill="#ff2a0a"/><rect x="74.9" y="182.5" width="2.4" height="2.4" fill="#ff2a0a"/><rect x="76.9" y="182.5" width="2.4" height="2.4" fill="#ff7c00"/><rect x="78.9" y="182.5" width="2.4" height="2.4" fill="#ff2a0a"/><rect x="80.9" y="182.5" width="2.4" height="2.4" fill="#ff2a0a"/><rect x="82.9" y="182.5" width="2.4" height="2.4" fill="#ff2a0a"/><rect x="84.9" y="182.5" width="2.4" height="2.4" fill="#ff7c00"/><rect x="86.9" y="182.5" width="2.4" height="2.4" fill="#ff2a0a"/><rect x="88.9" y="182.5" width="2.4" height="2.4" fill="#ff2a0a"/><rect x="90.9" y="182.5" width="2.4" height="2.4" fill="#ff2a0a"/><rect x="92.9" y="182.5" width="2.4" height="2.4" fill="#ff2a0a"/><rect x="94.9" y="182.5" width="2.4" height="2.4" fill="#ff2a0a"/><rect x="96.9" y="182.5" width="2.4" height="2.4" fill="#ff2a0a"/><rect x="98.9" y="182.5" width="2.4" height="2.4" fill="#ff2a0a"/><rect x="100.9" y="182.5" width="2.4" height="2.4" fill="#ff2a0a"/><rect x="102.9" y="182.5" width="2.4" height="2.4" fill="#ff2a0a"/><rect x="72.9" y="184.5" width="2.4" height="2.4" fill="#ff2a0a"/><rect x="74.9" y="184.5" width="2.4" height="2.4" fill="#ff7c00"/><rect x="76.9" y="184.5" width="2.4" height="2.4" fill="#ffa400"/><rect x="78.9" y="184.5" width="2.4" height="2.4" fill="#ffa400"/><rect x="80.9" y="184.5" width="2.4" height="2.4" fill="#ff2a0a"/><rect x="82.9" y="184.5" width="2.4" height="2.4" fill="#ff2a0a"/><rect x="84.9" y="184.5" width="2.4" height="2.4" fill="#ffa400"/><rect x="86.9" y="184.5" width="2.4" height="2.4" fill="#ffa400"/><rect x="88.9" y="184.5" width="2.4" height="2.4" fill="#ff2a0a"/><rect x="90.9" y="184.5" width="2.4" height="2.4" fill="#ff2a0a"/><rect x="94.9" y="184.5" width="2.4" height="2.4" fill="#ff2a0a"/><rect x="96.9" y="184.5" width="2.4" height="2.4" fill="#ff2a0a"/><rect x="98.9" y="184.5" width="2.4" height="2.4" fill="#ff2a0a"/><rect x="100.9" y="184.5" width="2.4" height="2.4" fill="#ff2a0a"/><rect x="102.9" y="184.5" width="2.4" height="2.4" fill="#ff2a0a"/><rect x="72.9" y="186.5" width="2.4" height="2.4" fill="#ff2a0a"/><rect x="74.9" y="186.5" width="2.4" height="2.4" fill="#ffa400"/><rect x="76.9" y="186.5" width="2.4" height="2.4" fill="#ffa400"/><rect x="78.9" y="186.5" width="2.4" height="2.4" fill="#ff7c00"/><rect x="80.9" y="186.5" width="2.4" height="2.4" fill="#ff2a0a"/><rect x="82.9" y="186.5" width="2.4" height="2.4" fill="#ff2a0a"/><rect x="84.9" y="186.5" width="2.4" height="2.4" fill="#ff2a0a"/><rect x="86.9" y="186.5" width="2.4" height="2.4" fill="#ff2a0a"/><rect x="96.9" y="186.5" width="2.4" height="2.4" fill="#ff2a0a"/><rect x="98.9" y="186.5" width="2.4" height="2.4" fill="#ff2a0a"/><rect x="100.9" y="186.5" width="2.4" height="2.4" fill="#ff2a0a"/><rect x="74.9" y="188.5" width="2.4" height="2.4" fill="#ff7c00"/><rect x="76.9" y="188.5" width="2.4" height="2.4" fill="#ffa400"/><rect x="78.9" y="188.5" width="2.4" height="2.4" fill="#ffa400"/><rect x="80.9" y="188.5" width="2.4" height="2.4" fill="#ff2a0a"/><rect x="76.9" y="190.5" width="2.4" height="2.4" fill="#ff7c00"/><rect x="78.9" y="190.5" width="2.4" height="2.4" fill="#ffa400"/>
<text x="154.9" y="19.0" font-size="17.5" font-weight="bold" fill="#fff">R</text>
</g>
</g>
<g id="colorbar">
<defs><linearGradient id="cb" x1="0" y1="0" x2="0" y2="1">
<stop offset="0" stop-color="#fffff4"/><stop offset="0.10" stop-color="#ffffc0"/>
<stop offset="0.22" stop-color="#ffff50"/><stop offset="0.33" stop-color="#ffee00"/>
<stop offset="0.45" stop-color="#ffb000"/><stop offset="0.58" stop-color="#ff6a00"/>
<stop offset="0.72" stop-color="#ff1a00"/><stop offset="0.85" stop-color="#e00000"/>
<stop offset="1" stop-color="#8c0000"/></linearGradient></defs>
<rect x="1268" y="67.3" width="22.5" height="206" fill="url(#cb)"/><text transform="translate(1291.40 74.5) scale(0.9419 1)" font-size="17.6" font-weight="bold" fill="#000">16</text><text transform="translate(1296.60 273.0) scale(0.8600 1)" font-size="17.6" font-weight="bold" fill="#000">0</text>
</g>
<g id="charts" text-rendering="geometricPrecision">
<rect x="120" y="556.25" width="240.75" height="1.5" fill="#111"/>
<rect x="118.75" y="413.35" width="2.5" height="244.89999999999998" fill="#000"/>
<rect x="113.1" y="655.75" width="248.65" height="2.5" fill="#000"/>
<rect x="113.1" y="655.75" width="6.9" height="2.5" fill="#000"/>
<text x="108.5" y="661.9" font-size="19.2" font-weight="bold" text-anchor="end" fill="#000" letter-spacing="-1.0">0</text>
<rect x="113.1" y="574.95" width="6.9" height="2.5" fill="#000"/>
<text x="108.5" y="581.1" font-size="19.2" font-weight="bold" text-anchor="end" fill="#000" letter-spacing="-1.0">20</text>
<rect x="113.1" y="494.15" width="6.9" height="2.5" fill="#000"/>
<text x="108.5" y="500.29999999999995" font-size="19.2" font-weight="bold" text-anchor="end" fill="#000" letter-spacing="-1.0">40</text>
<rect x="113.1" y="413.35" width="6.9" height="2.5" fill="#000"/>
<text x="108.5" y="419.5" font-size="19.2" font-weight="bold" text-anchor="end" fill="#000" letter-spacing="-1.0">60</text>
<rect x="139" y="457" width="41.75" height="200" fill="#000"/>
<rect x="158.725" y="445" width="2.3" height="13" fill="#000"/>
<rect x="154.875" y="443.75" width="10" height="2.5" fill="#000"/>
<rect x="158.675" y="657" width="2.4" height="6.8" fill="#000"/>
<text transform="translate(145.75 682.6) scale(0.9824 1)" font-size="19.3" font-weight="bold" fill="#000" letter-spacing="-1.0">NM</text>
<rect x="219" y="568" width="42.25" height="89" fill="#000"/>
<rect x="238.975" y="564" width="2.3" height="5" fill="#000"/>
<rect x="235.125" y="562.75" width="10" height="2.5" fill="#000"/>
<rect x="238.925" y="657" width="2.4" height="6.8" fill="#000"/>
<text transform="translate(227.75 682.6) scale(0.9099 1)" font-size="19.3" font-weight="bold" fill="#000" letter-spacing="-1.0">M1</text>
<rect x="300" y="546.75" width="41.75" height="110.25" fill="#000"/>
<rect x="319.725" y="538.5" width="2.3" height="9.25" fill="#000"/>
<rect x="315.875" y="537.25" width="10" height="2.5" fill="#000"/>
<rect x="319.675" y="657" width="2.4" height="6.8" fill="#000"/>
<text transform="translate(309.25 682.6) scale(0.8809 1)" font-size="19.3" font-weight="bold" fill="#000" letter-spacing="-1.0">M2</text>
<path d="M159.6 389.8 V376.3 H321 V389.8" fill="none" stroke="#000" stroke-width="2.5" stroke-linejoin="miter"/>
<path d="M158.5 407.8 V400.3 H241.4 V407.8" fill="none" stroke="#000" stroke-width="2.6" stroke-linejoin="miter"/>
<text x="241.0" y="374.0" font-size="19.5" font-weight="normal" text-anchor="middle" fill="#111" textLength="33.2" lengthAdjust="spacingAndGlyphs" stroke="#111" stroke-width="0.35">***</text>
<text x="199.8" y="400.4" font-size="19.5" font-weight="normal" text-anchor="middle" fill="#111" textLength="33.2" lengthAdjust="spacingAndGlyphs" stroke="#111" stroke-width="0.35">***</text>
<text x="159.6" y="445.0" font-size="19.5" font-weight="normal" text-anchor="middle" fill="#111" textLength="33.2" lengthAdjust="spacingAndGlyphs" stroke="#111" stroke-width="0.35">***</text>
<text transform="translate(225.80 730) scale(0.8526 1)" font-size="24.6" font-weight="normal" fill="#000">LO</text>
<text transform="translate(67.3 536) rotate(-90)" font-size="21.6" text-anchor="middle" textLength="123" lengthAdjust="spacing">Accuracy(%)</text>
<rect x="535" y="539.75" width="240.5" height="1.5" fill="#111"/>
<rect x="533.75" y="398.70000000000005" width="2.5" height="244.29999999999995" fill="#000"/>
<rect x="528.1" y="640.5" width="248.4" height="2.5" fill="#000"/>
<rect x="528.1" y="640.5" width="6.9" height="2.5" fill="#000"/>
<text x="523.5" y="646.65" font-size="19.2" font-weight="bold" text-anchor="end" fill="#000" letter-spacing="-1.0">0</text>
<rect x="528.1" y="600.2" width="6.9" height="2.5" fill="#000"/>
<text x="523.5" y="606.35" font-size="19.2" font-weight="bold" text-anchor="end" fill="#000" letter-spacing="-1.0">10</text>
<rect x="528.1" y="559.9" width="6.9" height="2.5" fill="#000"/>
<text x="523.5" y="566.05" font-size="19.2" font-weight="bold" text-anchor="end" fill="#000" letter-spacing="-1.0">20</text>
<rect x="528.1" y="519.6" width="6.9" height="2.5" fill="#000"/>
<text x="523.5" y="525.75" font-size="19.2" font-weight="bold" text-anchor="end" fill="#000" letter-spacing="-1.0">30</text>
<rect x="528.1" y="479.3" width="6.9" height="2.5" fill="#000"/>
<text x="523.5" y="485.45" font-size="19.2" font-weight="bold" text-anchor="end" fill="#000" letter-spacing="-1.0">40</text>
<rect x="528.1" y="439.0" width="6.9" height="2.5" fill="#000"/>
<text x="523.5" y="445.15" font-size="19.2" font-weight="bold" text-anchor="end" fill="#000" letter-spacing="-1.0">50</text>
<rect x="528.1" y="398.70000000000005" width="6.9" height="2.5" fill="#000"/>
<text x="523.5" y="404.85" font-size="19.2" font-weight="bold" text-anchor="end" fill="#000" letter-spacing="-1.0">60</text>
<rect x="554" y="448.25" width="41.75" height="193.5" fill="#000"/>
<rect x="573.725" y="435.5" width="2.3" height="13.75" fill="#000"/>
<rect x="569.875" y="434.25" width="10" height="2.5" fill="#000"/>
<rect x="573.675" y="641.75" width="2.4" height="6.8" fill="#000"/>
<text transform="translate(560.75 667.35) scale(1.0082 1)" font-size="19.3" font-weight="bold" fill="#000" letter-spacing="-1.0">NM</text>
<rect x="634" y="540.5" width="42.5" height="101.25" fill="#000"/>
<rect x="654.1" y="536.25" width="2.3" height="5.25" fill="#000"/>
<rect x="650.25" y="535.0" width="10" height="2.5" fill="#000"/>
<rect x="654.05" y="641.75" width="2.4" height="6.8" fill="#000"/>
<text transform="translate(643.00 667.35) scale(0.9002 1)" font-size="19.3" font-weight="bold" fill="#000" letter-spacing="-1.0">M1</text>
<rect x="716.25" y="532.5" width="41.25" height="109.25" fill="#000"/>
<rect x="735.725" y="525.75" width="2.3" height="7.75" fill="#000"/>
<rect x="731.875" y="524.5" width="10" height="2.5" fill="#000"/>
<rect x="735.675" y="641.75" width="2.4" height="6.8" fill="#000"/>
<text transform="translate(724.25 667.35) scale(0.8809 1)" font-size="19.3" font-weight="bold" fill="#000" letter-spacing="-1.0">M2</text>
<path d="M574.8 389.8 V376.3 H736.6 V389.8" fill="none" stroke="#000" stroke-width="2.5" stroke-linejoin="miter"/>
<path d="M573.7 414.8 V408.0 H656.8 V414.8" fill="none" stroke="#000" stroke-width="2.6" stroke-linejoin="miter"/>
<text x="653.1" y="374.0" font-size="19.5" font-weight="normal" text-anchor="middle" fill="#111" textLength="33.2" lengthAdjust="spacingAndGlyphs" stroke="#111" stroke-width="0.35">***</text>
<text x="616.5" y="408.0" font-size="19.5" font-weight="normal" text-anchor="middle" fill="#111" textLength="33.2" lengthAdjust="spacingAndGlyphs" stroke="#111" stroke-width="0.35">***</text>
<text x="575.7" y="434.4" font-size="19.5" font-weight="normal" text-anchor="middle" fill="#111" textLength="33.2" lengthAdjust="spacingAndGlyphs" stroke="#111" stroke-width="0.35">***</text>
<text transform="translate(641.25 715) scale(0.9596 1)" font-size="24.6" font-weight="normal" fill="#000">pF</text>
<text transform="translate(482.3 520) rotate(-90)" font-size="21.6" text-anchor="middle" textLength="123" lengthAdjust="spacing">Accuracy(%)</text>
<rect x="951.25" y="558.75" width="241.25" height="1.5" fill="#111"/>
<rect x="950.0" y="417.65" width="2.5" height="244.60000000000002" fill="#000"/>
<rect x="944.35" y="659.75" width="249.15" height="2.5" fill="#000"/>
<rect x="944.35" y="659.75" width="6.9" height="2.5" fill="#000"/>
<text x="939.75" y="665.9" font-size="19.2" font-weight="bold" text-anchor="end" fill="#000" letter-spacing="-1.0">0</text>
<rect x="944.35" y="619.4" width="6.9" height="2.5" fill="#000"/>
<text x="939.75" y="625.55" font-size="19.2" font-weight="bold" text-anchor="end" fill="#000" letter-spacing="-1.0">10</text>
<rect x="944.35" y="579.05" width="6.9" height="2.5" fill="#000"/>
<text x="939.75" y="585.1999999999999" font-size="19.2" font-weight="bold" text-anchor="end" fill="#000" letter-spacing="-1.0">20</text>
<rect x="944.35" y="538.7" width="6.9" height="2.5" fill="#000"/>
<text x="939.75" y="544.85" font-size="19.2" font-weight="bold" text-anchor="end" fill="#000" letter-spacing="-1.0">30</text>
<rect x="944.35" y="498.35" width="6.9" height="2.5" fill="#000"/>
<text x="939.75" y="504.5" font-size="19.2" font-weight="bold" text-anchor="end" fill="#000" letter-spacing="-1.0">40</text>
<rect x="944.35" y="458.0" width="6.9" height="2.5" fill="#000"/>
<text x="939.75" y="464.15" font-size="19.2" font-weight="bold" text-anchor="end" fill="#000" letter-spacing="-1.0">50</text>
<rect x="944.35" y="417.65" width="6.9" height="2.5" fill="#000"/>
<text x="939.75" y="423.79999999999995" font-size="19.2" font-weight="bold" text-anchor="end" fill="#000" letter-spacing="-1.0">60</text>
<rect x="970.5" y="454.5" width="42.0" height="206.5" fill="#000"/>
<rect x="990.35" y="444.25" width="2.3" height="11.25" fill="#000"/>
<rect x="986.5" y="443.0" width="10" height="2.5" fill="#000"/>
<rect x="990.3" y="661" width="2.4" height="6.8" fill="#000"/>
<text transform="translate(976.80 686.6) scale(0.9376 1)" font-size="19.3" font-weight="bold" fill="#000" letter-spacing="-1.0">NM</text>
<rect x="1050.5" y="548.25" width="42.0" height="112.75" fill="#000"/>
<rect x="1070.35" y="542" width="2.3" height="7.25" fill="#000"/>
<rect x="1066.5" y="540.75" width="10" height="2.5" fill="#000"/>
<rect x="1070.3" y="661" width="2.4" height="6.8" fill="#000"/>
<text transform="translate(1059.25 686.6) scale(0.9002 1)" font-size="19.3" font-weight="bold" fill="#000" letter-spacing="-1.0">M1</text>
<rect x="1131.75" y="545.75" width="42.0" height="115.25" fill="#000"/>
<rect x="1151.6" y="537.5" width="2.3" height="9.25" fill="#000"/>
<rect x="1147.75" y="536.25" width="10" height="2.5" fill="#000"/>
<rect x="1151.55" y="661" width="2.4" height="6.8" fill="#000"/>
<text transform="translate(1140.75 686.6) scale(0.8905 1)" font-size="19.3" font-weight="bold" fill="#000" letter-spacing="-1.0">M2</text>
<path d="M990.6 389.8 V376.3 H1152.6 V389.8" fill="none" stroke="#000" stroke-width="2.5" stroke-linejoin="miter"/>
<path d="M989.7 414.8 V408.0 H1073.0 V414.8" fill="none" stroke="#000" stroke-width="2.6" stroke-linejoin="miter"/>
<text x="1069.2" y="374.0" font-size="19.5" font-weight="normal" text-anchor="middle" fill="#111" textLength="33.2" lengthAdjust="spacingAndGlyphs" stroke="#111" stroke-width="0.35">***</text>
<text x="1032.8" y="408.0" font-size="19.5" font-weight="normal" text-anchor="middle" fill="#111" textLength="33.2" lengthAdjust="spacingAndGlyphs" stroke="#111" stroke-width="0.35">***</text>
<text x="990.85" y="443.59999999999997" font-size="19.5" font-weight="normal" text-anchor="middle" fill="#111" textLength="33.2" lengthAdjust="spacingAndGlyphs" stroke="#111" stroke-width="0.35">***</text>
<text transform="translate(1048.75 734.25) scale(0.8803 1)" font-size="24.6" font-weight="normal" fill="#000">EVC</text>
<text transform="translate(898.3 540) rotate(-90)" font-size="21.6" text-anchor="middle" textLength="123" lengthAdjust="spacing">Accuracy(%)</text>
<rect x="120" y="961.45" width="240.75" height="1.1" fill="#111"/>
<rect x="118.75" y="820.75" width="2.5" height="244.0" fill="#000"/>
<rect x="113.1" y="1062.25" width="248.65" height="2.5" fill="#000"/>
<rect x="113.1" y="1062.25" width="6.9" height="2.5" fill="#000"/>
<text x="108.5" y="1068.4" font-size="19.2" font-weight="bold" text-anchor="end" fill="#000" letter-spacing="-1.0">0</text>
<rect x="113.1" y="1022.0" width="6.9" height="2.5" fill="#000"/>
<text x="108.5" y="1028.15" font-size="19.2" font-weight="bold" text-anchor="end" fill="#000" letter-spacing="-1.0">10</text>
<rect x="113.1" y="981.75" width="6.9" height="2.5" fill="#000"/>
<text x="108.5" y="987.9" font-size="19.2" font-weight="bold" text-anchor="end" fill="#000" letter-spacing="-1.0">20</text>
<rect x="113.1" y="941.5" width="6.9" height="2.5" fill="#000"/>
<text x="108.5" y="947.65" font-size="19.2" font-weight="bold" text-anchor="end" fill="#000" letter-spacing="-1.0">30</text>
<rect x="113.1" y="901.25" width="6.9" height="2.5" fill="#000"/>
<text x="108.5" y="907.4" font-size="19.2" font-weight="bold" text-anchor="end" fill="#000" letter-spacing="-1.0">40</text>
<rect x="113.1" y="861.0" width="6.9" height="2.5" fill="#000"/>
<text x="108.5" y="867.15" font-size="19.2" font-weight="bold" text-anchor="end" fill="#000" letter-spacing="-1.0">50</text>
<rect x="113.1" y="820.75" width="6.9" height="2.5" fill="#000"/>
<text x="108.5" y="826.9" font-size="19.2" font-weight="bold" text-anchor="end" fill="#000" letter-spacing="-1.0">60</text>
<rect x="139" y="876.25" width="41.75" height="187.25" fill="#000"/>
<rect x="158.725" y="864.5" width="2.3" height="12.75" fill="#000"/>
<rect x="154.875" y="863.25" width="10" height="2.5" fill="#000"/>
<rect x="158.675" y="1063.5" width="2.4" height="6.8" fill="#000"/>
<text transform="translate(145.75 1089.1) scale(1.0082 1)" font-size="19.3" font-weight="bold" fill="#000" letter-spacing="-1.0">NM</text>
<rect x="219" y="959.5" width="42.5" height="104.0" fill="#000"/>
<rect x="239.1" y="955.5" width="2.3" height="5.0" fill="#000"/>
<rect x="235.25" y="954.25" width="10" height="2.5" fill="#000"/>
<rect x="239.05" y="1063.5" width="2.4" height="6.8" fill="#000"/>
<text transform="translate(228.00 1089.1) scale(0.9002 1)" font-size="19.3" font-weight="bold" fill="#000" letter-spacing="-1.0">M1</text>
<rect x="300.5" y="950.75" width="41.5" height="112.75" fill="#000"/>
<rect x="320.1" y="943.75" width="2.3" height="8.0" fill="#000"/>
<rect x="316.25" y="942.5" width="10" height="2.5" fill="#000"/>
<rect x="320.05" y="1063.5" width="2.4" height="6.8" fill="#000"/>
<text transform="translate(309.25 1089.1) scale(0.8809 1)" font-size="19.3" font-weight="bold" fill="#000" letter-spacing="-1.0">M2</text>
<path d="M159.6 811.8 V796.9 H321 V811.8" fill="none" stroke="#000" stroke-width="2.3" stroke-linejoin="miter"/>
<path d="M158.5 837.4 V829.6 H241.4 V837.4" fill="none" stroke="#000" stroke-width="2.6" stroke-linejoin="miter"/>
<text x="238.0" y="795.6" font-size="19.5" font-weight="normal" text-anchor="middle" fill="#111" textLength="33.2" lengthAdjust="spacingAndGlyphs" stroke="#111" stroke-width="0.35">***</text>
<text x="201.15" y="828.3" font-size="19.5" font-weight="normal" text-anchor="middle" fill="#111" textLength="33.2" lengthAdjust="spacingAndGlyphs" stroke="#111" stroke-width="0.35">***</text>
<text x="159.6" y="856.0" font-size="19.5" font-weight="normal" text-anchor="middle" fill="#111" textLength="33.2" lengthAdjust="spacingAndGlyphs" stroke="#111" stroke-width="0.35">***</text>
<text transform="translate(217.00 1136.75) scale(0.9741 1)" font-size="24.6" font-weight="normal" fill="#000">PPA</text>
<text transform="translate(67.3 941.25) rotate(-90)" font-size="21.6" text-anchor="middle" textLength="123" lengthAdjust="spacing">Accuracy(%)</text>
<rect x="535" y="966.1" width="240.5" height="1.8" fill="#111"/>
<rect x="533.75" y="824.2" width="2.5" height="244.29999999999995" fill="#000"/>
<rect x="528.1" y="1066.0" width="248.4" height="2.5" fill="#000"/>
<rect x="528.1" y="1066.0" width="6.9" height="2.5" fill="#000"/>
<text x="523.5" y="1072.15" font-size="19.2" font-weight="bold" text-anchor="end" fill="#000" letter-spacing="-1.0">0</text>
<rect x="528.1" y="1025.7" width="6.9" height="2.5" fill="#000"/>
<text x="523.5" y="1031.8500000000001" font-size="19.2" font-weight="bold" text-anchor="end" fill="#000" letter-spacing="-1.0">10</text>
<rect x="528.1" y="985.4" width="6.9" height="2.5" fill="#000"/>
<text x="523.5" y="991.55" font-size="19.2" font-weight="bold" text-anchor="end" fill="#000" letter-spacing="-1.0">20</text>
<rect x="528.1" y="945.1" width="6.9" height="2.5" fill="#000"/>
<text x="523.5" y="951.25" font-size="19.2" font-weight="bold" text-anchor="end" fill="#000" letter-spacing="-1.0">30</text>
<rect x="528.1" y="904.8" width="6.9" height="2.5" fill="#000"/>
<text x="523.5" y="910.9499999999999" font-size="19.2" font-weight="bold" text-anchor="end" fill="#000" letter-spacing="-1.0">40</text>
<rect x="528.1" y="864.5" width="6.9" height="2.5" fill="#000"/>
<text x="523.5" y="870.65" font-size="19.2" font-weight="bold" text-anchor="end" fill="#000" letter-spacing="-1.0">50</text>
<rect x="528.1" y="824.2" width="6.9" height="2.5" fill="#000"/>
<text x="523.5" y="830.35" font-size="19.2" font-weight="bold" text-anchor="end" fill="#000" letter-spacing="-1.0">60</text>
<rect x="554" y="866.25" width="41.75" height="201.0" fill="#000"/>
<rect x="573.725" y="855" width="2.3" height="12.25" fill="#000"/>
<rect x="569.875" y="853.75" width="10" height="2.5" fill="#000"/>
<rect x="573.675" y="1067.25" width="2.4" height="6.8" fill="#000"/>
<text transform="translate(560.75 1092.85) scale(1.0082 1)" font-size="19.3" font-weight="bold" fill="#000" letter-spacing="-1.0">NM</text>
<rect x="634" y="970.75" width="42.5" height="96.5" fill="#000"/>
<rect x="654.1" y="966.5" width="2.3" height="5.25" fill="#000"/>
<rect x="650.25" y="965.25" width="10" height="2.5" fill="#000"/>
<rect x="654.05" y="1067.25" width="2.4" height="6.8" fill="#000"/>
<text transform="translate(643.00 1092.85) scale(0.9002 1)" font-size="19.3" font-weight="bold" fill="#000" letter-spacing="-1.0">M1</text>
<rect x="716.25" y="955.5" width="41.25" height="111.75" fill="#000"/>
<rect x="735.725" y="947.5" width="2.3" height="9.0" fill="#000"/>
<rect x="731.875" y="946.25" width="10" height="2.5" fill="#000"/>
<rect x="735.675" y="1067.25" width="2.4" height="6.8" fill="#000"/>
<text transform="translate(724.25 1092.85) scale(0.8809 1)" font-size="19.3" font-weight="bold" fill="#000" letter-spacing="-1.0">M2</text>
<path d="M574.8 811.8 V796.9 H736.6 V811.8" fill="none" stroke="#000" stroke-width="2.3" stroke-linejoin="miter"/>
<path d="M573.7 835.7 V829.6 H656.8 V835.7" fill="none" stroke="#000" stroke-width="2.6" stroke-linejoin="miter"/>
<text x="653.1" y="795.6" font-size="19.5" font-weight="normal" text-anchor="middle" fill="#111" textLength="33.2" lengthAdjust="spacingAndGlyphs" stroke="#111" stroke-width="0.35">***</text>
<text x="616.3" y="828.4" font-size="19.5" font-weight="normal" text-anchor="middle" fill="#111" textLength="33.2" lengthAdjust="spacingAndGlyphs" stroke="#111" stroke-width="0.35">***</text>
<text x="575.7" y="856.4" font-size="19.5" font-weight="normal" text-anchor="middle" fill="#111" textLength="33.2" lengthAdjust="spacingAndGlyphs" stroke="#111" stroke-width="0.35">***</text>
<text transform="translate(631.25 1141.75) scale(0.9151 1)" font-size="24.6" font-weight="normal" fill="#000">RSC</text>
<text transform="translate(482.3 946) rotate(-90)" font-size="21.6" text-anchor="middle" textLength="123" lengthAdjust="spacing">Accuracy(%)</text>
<rect x="951.25" y="961.45" width="241.25" height="1.1" fill="#111"/>
<rect x="950.0" y="820.75" width="2.5" height="244.0" fill="#000"/>
<rect x="944.35" y="1062.25" width="249.15" height="2.5" fill="#000"/>
<rect x="944.35" y="1062.25" width="6.9" height="2.5" fill="#000"/>
<text x="939.75" y="1068.4" font-size="19.2" font-weight="bold" text-anchor="end" fill="#000" letter-spacing="-1.0">0</text>
<rect x="944.35" y="1022.0" width="6.9" height="2.5" fill="#000"/>
<text x="939.75" y="1028.15" font-size="19.2" font-weight="bold" text-anchor="end" fill="#000" letter-spacing="-1.0">10</text>
<rect x="944.35" y="981.75" width="6.9" height="2.5" fill="#000"/>
<text x="939.75" y="987.9" font-size="19.2" font-weight="bold" text-anchor="end" fill="#000" letter-spacing="-1.0">20</text>
<rect x="944.35" y="941.5" width="6.9" height="2.5" fill="#000"/>
<text x="939.75" y="947.65" font-size="19.2" font-weight="bold" text-anchor="end" fill="#000" letter-spacing="-1.0">30</text>
<rect x="944.35" y="901.25" width="6.9" height="2.5" fill="#000"/>
<text x="939.75" y="907.4" font-size="19.2" font-weight="bold" text-anchor="end" fill="#000" letter-spacing="-1.0">40</text>
<rect x="944.35" y="861.0" width="6.9" height="2.5" fill="#000"/>
<text x="939.75" y="867.15" font-size="19.2" font-weight="bold" text-anchor="end" fill="#000" letter-spacing="-1.0">50</text>
<rect x="944.35" y="820.75" width="6.9" height="2.5" fill="#000"/>
<text x="939.75" y="826.9" font-size="19.2" font-weight="bold" text-anchor="end" fill="#000" letter-spacing="-1.0">60</text>
<rect x="970.5" y="863.75" width="42.0" height="199.75" fill="#000"/>
<rect x="990.35" y="855" width="2.3" height="9.75" fill="#000"/>
<rect x="986.5" y="853.75" width="10" height="2.5" fill="#000"/>
<rect x="990.3" y="1063.5" width="2.4" height="6.8" fill="#000"/>
<text transform="translate(976.90 1089.1) scale(0.9272 1)" font-size="19.3" font-weight="bold" fill="#000" letter-spacing="-1.0">NM</text>
<rect x="1050.5" y="962.5" width="42.0" height="101.0" fill="#000"/>
<rect x="1070.35" y="959.25" width="2.3" height="4.25" fill="#000"/>
<rect x="1066.5" y="958.0" width="10" height="2.5" fill="#000"/>
<rect x="1070.3" y="1063.5" width="2.4" height="6.8" fill="#000"/>
<text transform="translate(1059.25 1089.1) scale(0.9002 1)" font-size="19.3" font-weight="bold" fill="#000" letter-spacing="-1.0">M1</text>
<rect x="1131.75" y="942.5" width="42.0" height="121.0" fill="#000"/>
<rect x="1151.6" y="933.75" width="2.3" height="9.75" fill="#000"/>
<rect x="1147.75" y="932.5" width="10" height="2.5" fill="#000"/>
<rect x="1151.55" y="1063.5" width="2.4" height="6.8" fill="#000"/>
<text transform="translate(1140.75 1089.1) scale(0.8905 1)" font-size="19.3" font-weight="bold" fill="#000" letter-spacing="-1.0">M2</text>
<path d="M990.6 811.8 V796.9 H1152.6 V811.8" fill="none" stroke="#000" stroke-width="2.3" stroke-linejoin="miter"/>
<path d="M989.7 837.4 V829.6 H1073.0 V837.4" fill="none" stroke="#000" stroke-width="2.6" stroke-linejoin="miter"/>
<text x="1069.2" y="795.6" font-size="19.5" font-weight="normal" text-anchor="middle" fill="#111" textLength="33.2" lengthAdjust="spacingAndGlyphs" stroke="#111" stroke-width="0.35">***</text>
<text x="1032.6" y="828.3" font-size="19.5" font-weight="normal" text-anchor="middle" fill="#111" textLength="33.2" lengthAdjust="spacingAndGlyphs" stroke="#111" stroke-width="0.35">***</text>
<text x="990.85" y="856.0" font-size="19.5" font-weight="normal" text-anchor="middle" fill="#111" textLength="33.2" lengthAdjust="spacingAndGlyphs" stroke="#111" stroke-width="0.35">***</text>
<text transform="translate(1047.00 1136.75) scale(0.9904 1)" font-size="24.6" font-weight="normal" fill="#000">OPA</text>
<text transform="translate(898.3 941.25) rotate(-90)" font-size="21.6" text-anchor="middle" textLength="123" lengthAdjust="spacing">Accuracy(%)</text>
</g>
</svg>
</body></html>
